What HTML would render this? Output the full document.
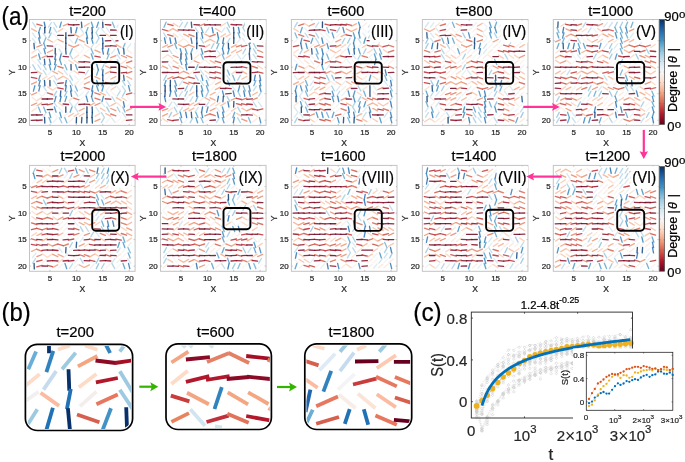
<!DOCTYPE html>
<html><head><meta charset="utf-8"><style>html,body{margin:0;padding:0;background:#fff;}svg{display:block;will-change:transform;}text{stroke:currentColor;stroke-width:0.22px;}</style></head><body>
<svg width="685" height="462" viewBox="0 0 685 462" font-family='"Liberation Sans", sans-serif'>
<rect width="685" height="462" fill="#fff"/>
<defs><filter id="sb" x="-5%" y="-5%" width="110%" height="110%"><feGaussianBlur stdDeviation="0.3"/></filter></defs>
<text x="1.6" y="24.8" font-size="26" textLength="27.5" lengthAdjust="spacingAndGlyphs" fill="#000" color="#000">(a)</text>
<clipPath id="cp0"><rect x="29.50" y="19.50" width="105.60" height="105.90"/></clipPath>
<g clip-path="url(#cp0)"><g stroke-width="1.35" stroke-opacity="0.85" stroke-linecap="round">
<path stroke="#b9d9e9" d="M32.7 22.5l3.0 4.6M53.8 80.8l3.0 4.6"/>
<path stroke="#cc4d44" d="M36.8 24.1l5.3 1.5"/>
<path stroke="#2970b1" d="M44.2 22.1l1.1 5.4"/>
<path stroke="#b8d8e9" d="M48.5 27.1l2.9 -4.6M43.2 33.1l2.9 4.6M122.4 86.1l2.9 4.6"/>
<path stroke="#b4d6e8" d="M53.8 22.5l2.9 4.7M127.7 80.8l2.9 4.7"/>
<path stroke="#3b88bd" d="M59.8 27.4l1.5 -5.3M59.8 112.3l1.5 5.3"/>
<path stroke="#ec9374" d="M63.3 25.9l5.0 -2.3M79.2 39.6l5.0 2.3M68.6 44.9l5.0 2.3M31.6 84.2l5.0 -2.3M126.7 110.7l5.0 -2.3"/>
<path stroke="#810823" d="M68.4 24.7l5.5 0.3"/>
<path stroke="#6c0220" d="M73.6 24.8l5.5 -0.1"/>
<path stroke="#154f8c" d="M81.4 22.1l0.5 5.5M102.5 75.2l0.5 -5.5"/>
<path stroke="#f7b99b" d="M84.6 26.2l4.7 -2.8"/>
<path stroke="#4796c5" d="M91.4 22.2l1.7 5.2"/>
<path stroke="#4292c2" d="M96.7 27.4l1.7 -5.2M38.6 32.7l1.7 -5.2M54.4 69.8l1.7 -5.2M91.4 96.4l1.7 5.2"/>
<path stroke="#0a3a6e" d="M102.7 22.1l0.2 5.5M102.7 43.3l0.2 5.5M76.3 122.9l0.2 -5.5"/>
<path stroke="#860a24" d="M105.3 24.6l5.5 0.4M115.9 40.9l5.5 -0.4M47.2 45.8l5.5 0.4"/>
<path stroke="#71b0d3" d="M112.3 22.3l2.2 5.1"/>
<path stroke="#cfe4ef" d="M117.0 27.0l3.2 -4.5M95.9 107.4l3.2 4.5"/>
<path stroke="#faeae1" d="M121.8 23.0l4.2 3.6M69.0 122.0l4.2 -3.6"/>
<path stroke="#fbe2d4" d="M127.0 23.1l4.3 3.4"/>
<path stroke="#f6ae8e" d="M31.7 28.8l4.8 2.6"/>
<path stroke="#083568" d="M44.7 27.4l0.1 5.5"/>
<path stroke="#3884bb" d="M49.3 32.8l1.4 -5.3M38.7 38.0l1.4 5.3"/>
<path stroke="#b5d7e8" d="M53.8 27.8l2.9 4.7M90.8 64.9l2.9 4.7"/>
<path stroke="#f8bfa3" d="M58.2 31.5l4.7 -2.9M58.2 71.1l4.7 2.9"/>
<path stroke="#f8f2ef" d="M63.8 28.2l4.0 3.8"/>
<path stroke="#124a85" d="M70.9 27.4l0.4 5.5M92.0 27.4l0.4 5.5"/>
<path stroke="#347fb9" d="M75.7 32.8l1.3 -5.3M44.0 48.6l1.3 5.3M102.1 85.8l1.3 -5.3"/>
<path stroke="#c4dfec" d="M80.1 27.8l3.1 4.5M85.4 96.0l3.1 -4.5"/>
<path stroke="#5ca3cb" d="M86.0 32.7l2.0 -5.1"/>
<path stroke="#afd4e6" d="M96.1 32.5l2.8 -4.7M96.1 43.1l2.8 -4.7"/>
<path stroke="#d4e6f1" d="M101.1 27.9l3.3 4.4M106.4 27.9l3.3 4.4"/>
<path stroke="#750521" d="M110.6 30.0l5.5 0.2"/>
<path stroke="#e4eef4" d="M116.8 32.2l3.6 -4.2M53.5 48.1l3.6 -4.2M58.8 107.5l3.6 4.2"/>
<path stroke="#e9f1f5" d="M122.1 28.0l3.7 4.1M64.0 117.0l3.7 -4.1"/>
<path stroke="#fce1d2" d="M127.0 28.4l4.3 3.4"/>
<path stroke="#cee3ef" d="M32.5 33.2l3.2 4.5"/>
<path stroke="#2a71b2" d="M38.9 32.7l1.1 5.4M91.7 91.1l1.1 -5.4M91.7 96.4l1.1 -5.4"/>
<path stroke="#8bc1dc" d="M48.8 37.9l2.4 -4.9M64.6 96.2l2.4 -4.9"/>
<path stroke="#f8f0eb" d="M53.2 33.5l4.0 3.7"/>
<path stroke="#6a0120" d="M57.8 35.4l5.5 0.0M42.0 99.0l5.5 0.0"/>
<path stroke="#09386c" d="M65.8 38.1l0.1 -5.5"/>
<path stroke="#780522" d="M68.4 35.5l5.5 -0.2"/>
<path stroke="#f3a380" d="M73.9 34.2l4.9 2.5"/>
<path stroke="#fcd8c3" d="M79.4 37.0l4.5 -3.2M31.9 52.9l4.5 -3.2"/>
<path stroke="#327cb7" d="M86.3 32.7l1.3 5.4M38.8 91.1l1.3 -5.4"/>
<path stroke="#15508d" d="M92.0 32.7l0.5 5.5"/>
<path stroke="#a3cee3" d="M96.2 33.0l2.7 4.8M69.8 75.4l2.7 4.8M53.9 96.1l2.7 -4.8"/>
<path stroke="#68001f" d="M100.0 35.4l5.5 -0.0M110.6 67.2l5.5 -0.0"/>
<path stroke="#facab2" d="M105.8 33.9l4.6 3.0M111.0 89.9l4.6 -3.0"/>
<path stroke="#700320" d="M110.6 35.3l5.5 0.1"/>
<path stroke="#f8f2ee" d="M116.6 37.3l4.0 -3.8M32.1 60.0l4.0 3.8M79.7 90.3l4.0 -3.8M111.3 91.8l4.0 3.8"/>
<path stroke="#fae8de" d="M121.8 37.2l4.2 -3.6M95.4 47.8l4.2 -3.6"/>
<path stroke="#eff3f6" d="M127.3 37.4l3.8 -4.0"/>
<path stroke="#d3e6f0" d="M32.5 38.5l3.3 4.4"/>
<path stroke="#6aabd0" d="M43.7 43.2l2.1 -5.1"/>
<path stroke="#f5aa89" d="M47.6 39.4l4.9 2.6M116.2 44.7l4.9 2.6"/>
<path stroke="#fae9e0" d="M53.2 42.5l4.2 -3.6"/>
<path stroke="#f09c7b" d="M58.1 39.5l5.0 2.4"/>
<path stroke="#063163" d="M65.8 43.4l0.0 -5.5"/>
<path stroke="#e2edf3" d="M69.3 38.6l3.5 4.2M53.5 122.3l3.5 -4.2"/>
<path stroke="#75b3d4" d="M75.3 43.2l2.2 -5.0M122.8 107.1l2.2 5.0"/>
<path stroke="#256baf" d="M86.5 38.0l1.0 5.4"/>
<path stroke="#3a87bd" d="M91.5 38.1l1.5 5.3"/>
<path stroke="#175290" d="M102.5 38.0l0.5 5.5M44.4 59.2l0.5 5.5"/>
<path stroke="#720321" d="M105.3 40.8l5.5 -0.1M126.4 114.8l5.5 0.1"/>
<path stroke="#d9e9f1" d="M111.7 38.5l3.4 4.3M90.5 80.9l3.4 4.3M101.1 102.1l3.4 4.3"/>
<path stroke="#f9f0ea" d="M121.9 38.8l4.0 3.7M95.5 63.8l4.0 -3.7"/>
<path stroke="#fbe4d6" d="M127.0 42.4l4.3 -3.5"/>
<path stroke="#144c88" d="M33.9 43.3l0.5 5.5M60.3 96.4l0.5 -5.5"/>
<path stroke="#e48066" d="M36.9 47.0l5.1 -2.1"/>
<path stroke="#4a97c5" d="M43.8 43.4l1.8 5.2"/>
<path stroke="#f8f3f1" d="M58.6 44.1l4.0 3.8M74.4 49.4l4.0 3.8"/>
<path stroke="#0d4077" d="M65.7 48.7l0.2 -5.5"/>
<path stroke="#eb9072" d="M73.9 47.1l5.0 -2.3M31.6 105.4l5.0 -2.3"/>
<path stroke="#e7eff4" d="M79.9 43.9l3.6 4.1"/>
<path stroke="#facbb3" d="M84.7 44.5l4.6 3.0"/>
<path stroke="#cae1ee" d="M90.6 48.3l3.2 -4.5"/>
<path stroke="#890b24" d="M105.3 46.2l5.5 -0.4M63.1 56.4l5.5 0.4M105.3 98.8l5.5 0.4"/>
<path stroke="#930e26" d="M110.6 45.7l5.5 0.5"/>
<path stroke="#6aacd0" d="M122.9 48.5l2.1 -5.1"/>
<path stroke="#d7e8f1" d="M127.5 48.2l3.3 -4.4"/>
<path stroke="#cbe2ee" d="M37.8 49.1l3.2 4.5M43.1 117.1l3.2 -4.5"/>
<path stroke="#ef9a7a" d="M47.5 52.5l5.0 -2.4M105.6 66.0l5.0 2.4"/>
<path stroke="#08376a" d="M55.2 54.0l0.1 -5.5"/>
<path stroke="#c6e0ed" d="M59.0 49.0l3.1 4.5"/>
<path stroke="#144d8a" d="M65.6 48.6l0.5 5.5"/>
<path stroke="#68aad0" d="M70.1 53.8l2.1 -5.1M75.3 85.9l2.1 5.1"/>
<path stroke="#f4f5f6" d="M79.7 53.3l3.8 -3.9"/>
<path stroke="#f5f6f7" d="M85.0 53.3l3.9 -3.9M90.3 59.9l3.9 3.9M79.7 79.8l3.9 -3.9"/>
<path stroke="#6fafd2" d="M91.2 48.8l2.1 5.1M107.0 59.1l2.1 -5.1"/>
<path stroke="#ed9676" d="M95.0 50.1l5.0 2.3"/>
<path stroke="#2971b2" d="M102.3 48.6l1.1 5.4M54.7 64.6l1.1 -5.4M60.0 101.7l1.1 -5.4M123.4 101.6l1.1 5.4"/>
<path stroke="#327cb8" d="M107.4 54.0l1.3 -5.3"/>
<path stroke="#d6e7f1" d="M111.7 53.5l3.3 -4.4"/>
<path stroke="#4594c4" d="M117.8 48.7l1.7 5.2M54.4 107.0l1.7 5.2"/>
<path stroke="#134b86" d="M123.7 48.6l0.4 5.5"/>
<path stroke="#fae8dd" d="M127.1 49.5l4.2 3.5"/>
<path stroke="#f4a684" d="M31.7 57.9l4.9 -2.5"/>
<path stroke="#3b89be" d="M38.7 54.0l1.5 5.3M49.2 64.6l1.5 5.3M102.0 91.0l1.5 -5.3M102.0 101.6l1.5 -5.3"/>
<path stroke="#e98c6f" d="M42.2 57.7l5.0 -2.2M110.8 108.5l5.0 2.2"/>
<path stroke="#790622" d="M47.2 56.7l5.5 -0.2"/>
<path stroke="#266caf" d="M54.8 59.3l1.0 -5.4M70.6 91.0l1.0 5.4"/>
<path stroke="#3783bb" d="M59.8 59.3l1.4 -5.3M128.5 85.7l1.4 5.3"/>
<path stroke="#add3e6" d="M69.7 54.2l2.8 4.7"/>
<path stroke="#fcd4bf" d="M74.1 58.2l4.5 -3.1"/>
<path stroke="#f8f3f0" d="M79.7 58.5l4.0 -3.8M79.7 85.0l4.0 -3.8"/>
<path stroke="#f4a582" d="M84.5 55.4l4.9 2.5"/>
<path stroke="#519cc8" d="M91.3 54.0l1.8 5.2M96.6 75.1l1.8 -5.2"/>
<path stroke="#b72230" d="M94.8 56.1l5.4 1.0"/>
<path stroke="#f6f7f7" d="M100.8 54.6l3.9 3.9"/>
<path stroke="#e6866a" d="M110.8 57.7l5.1 -2.1"/>
<path stroke="#c5dfed" d="M117.1 54.3l3.1 4.5M69.6 102.0l3.1 4.5"/>
<path stroke="#ea8d70" d="M121.4 55.5l5.0 2.2"/>
<path stroke="#e7866a" d="M126.7 55.5l5.1 2.1"/>
<path stroke="#c0dceb" d="M37.9 59.6l3.0 4.6M106.5 102.0l3.0 4.6"/>
<path stroke="#307ab6" d="M49.4 59.2l1.2 5.4"/>
<path stroke="#4d99c6" d="M59.6 59.3l1.8 5.2"/>
<path stroke="#f2f5f6" d="M63.9 59.9l3.8 4.0"/>
<path stroke="#fcd3bc" d="M68.8 60.3l4.5 3.1"/>
<path stroke="#fbd0b9" d="M74.1 60.4l4.5 3.1"/>
<path stroke="#7c0722" d="M78.9 61.8l5.5 0.2"/>
<path stroke="#920e26" d="M84.2 61.7l5.5 0.5"/>
<path stroke="#f7b89b" d="M100.4 60.5l4.8 2.8"/>
<path stroke="#f8ba9d" d="M105.7 63.3l4.7 -2.8"/>
<path stroke="#fbe4d7" d="M111.2 60.2l4.3 3.5"/>
<path stroke="#a9d1e5" d="M117.2 59.5l2.8 4.7"/>
<path stroke="#fddac6" d="M121.7 63.5l4.5 -3.2M31.9 111.2l4.5 -3.2"/>
<path stroke="#d96652" d="M126.6 62.8l5.2 -1.8M94.9 98.1l5.2 1.8"/>
<path stroke="#a2cde3" d="M32.8 64.8l2.7 4.8"/>
<path stroke="#bedbeb" d="M37.9 64.9l3.0 4.6M43.2 86.1l3.0 4.6"/>
<path stroke="#a1cde2" d="M43.4 64.8l2.7 4.8"/>
<path stroke="#d7634f" d="M57.9 66.3l5.2 1.7"/>
<path stroke="#6daed1" d="M64.8 64.7l2.1 5.1"/>
<path stroke="#0a396e" d="M71.0 64.5l0.1 5.5"/>
<path stroke="#529cc8" d="M75.5 64.6l1.9 5.2"/>
<path stroke="#6b0120" d="M78.9 67.2l5.5 0.0"/>
<path stroke="#730421" d="M84.2 67.1l5.5 0.1M31.4 115.0l5.5 -0.1M31.4 120.3l5.5 -0.1"/>
<path stroke="#3986bc" d="M96.8 64.5l1.5 5.3M33.4 91.1l1.5 -5.3"/>
<path stroke="#92c5de" d="M101.5 69.7l2.5 -4.9"/>
<path stroke="#fbe7db" d="M116.5 69.0l4.2 -3.5"/>
<path stroke="#ce5146" d="M121.3 66.4l5.3 1.5"/>
<path stroke="#f6b394" d="M126.8 65.9l4.8 2.7M58.1 79.1l4.8 -2.7"/>
<path stroke="#8c0c25" d="M31.4 72.7l5.5 -0.4"/>
<path stroke="#f8bea2" d="M37.1 71.1l4.7 2.8"/>
<path stroke="#bad9e9" d="M43.2 70.2l3.0 4.6M111.9 96.7l3.0 4.6"/>
<path stroke="#e7f0f4" d="M48.2 74.6l3.6 -4.1"/>
<path stroke="#f3a280" d="M52.8 71.3l4.9 2.5"/>
<path stroke="#cee4ef" d="M64.2 70.3l3.2 4.5"/>
<path stroke="#f8f1ed" d="M69.1 74.4l4.0 -3.8"/>
<path stroke="#facbb2" d="M74.1 71.0l4.6 3.0M37.1 100.5l4.6 -3.0"/>
<path stroke="#950f26" d="M78.9 72.2l5.5 0.5"/>
<path stroke="#bfdceb" d="M85.4 74.8l3.0 -4.6M53.8 75.5l3.0 4.6M53.8 102.0l3.0 4.6"/>
<path stroke="#f7f7f7" d="M90.3 70.6l3.9 3.9"/>
<path stroke="#f4a481" d="M105.6 73.7l4.9 -2.5M100.3 92.5l4.9 2.5"/>
<path stroke="#940e26" d="M110.6 72.2l5.5 0.5M42.0 104.6l5.5 -0.5M63.1 104.0l5.5 0.5M36.7 120.5l5.5 -0.5"/>
<path stroke="#f1f4f6" d="M116.7 74.5l3.8 -4.0"/>
<path stroke="#960f27" d="M121.2 72.8l5.5 -0.5"/>
<path stroke="#d7624e" d="M126.6 73.4l5.2 -1.7"/>
<path stroke="#ba2933" d="M31.4 77.3l5.4 1.1"/>
<path stroke="#4190c1" d="M38.6 80.4l1.6 -5.2M96.7 80.5l1.6 5.2M65.0 101.6l1.6 -5.2"/>
<path stroke="#fcd5bf" d="M42.5 79.4l4.5 -3.2"/>
<path stroke="#fbcdb5" d="M47.7 79.3l4.6 -3.0M121.6 97.5l4.6 3.0M95.2 116.4l4.6 -3.0"/>
<path stroke="#f8bfa4" d="M63.5 76.4l4.7 2.9"/>
<path stroke="#eaf1f5" d="M74.5 75.8l3.7 4.1"/>
<path stroke="#f2a17f" d="M84.5 79.0l4.9 -2.5"/>
<path stroke="#9ac9e0" d="M90.9 75.4l2.6 4.9"/>
<path stroke="#f09d7c" d="M95.0 76.6l4.9 2.4"/>
<path stroke="#0c3e75" d="M102.7 80.5l0.2 -5.5M44.6 117.5l0.2 5.5"/>
<path stroke="#f7f6f6" d="M106.1 79.7l3.9 -3.9M116.7 122.1l3.9 -3.9"/>
<path stroke="#f2a07e" d="M110.9 79.0l4.9 -2.4"/>
<path stroke="#ecf2f5" d="M116.8 79.8l3.7 -4.1M79.8 95.7l3.7 -4.1M106.2 122.2l3.7 -4.1"/>
<path stroke="#175392" d="M123.6 75.1l0.6 5.5"/>
<path stroke="#f5a987" d="M126.8 76.5l4.9 2.6"/>
<path stroke="#317bb7" d="M38.8 85.8l1.3 -5.4"/>
<path stroke="#134a86" d="M44.5 80.4l0.4 5.5"/>
<path stroke="#09376b" d="M49.9 80.4l0.1 5.5"/>
<path stroke="#870a24" d="M57.8 83.3l5.5 -0.4"/>
<path stroke="#276eb0" d="M65.3 85.8l1.0 -5.4"/>
<path stroke="#a6cfe4" d="M69.7 80.7l2.7 4.8"/>
<path stroke="#fae9de" d="M74.3 84.9l4.2 -3.6"/>
<path stroke="#ec9273" d="M84.4 84.2l5.0 -2.3"/>
<path stroke="#bd2e36" d="M105.4 82.5l5.4 1.1"/>
<path stroke="#c8e0ed" d="M111.8 85.4l3.1 -4.5"/>
<path stroke="#f9eee8" d="M116.6 84.9l4.1 -3.7"/>
<path stroke="#a4cee3" d="M122.5 80.7l2.7 4.8"/>
<path stroke="#facab1" d="M47.7 86.9l4.6 3.0"/>
<path stroke="#fcd3bd" d="M53.0 90.0l4.5 -3.1"/>
<path stroke="#ba2732" d="M57.8 87.9l5.4 1.0"/>
<path stroke="#2870b1" d="M65.3 91.1l1.0 -5.4"/>
<path stroke="#347eb9" d="M70.4 85.7l1.3 5.3"/>
<path stroke="#cf5247" d="M84.3 87.6l5.3 1.5"/>
<path stroke="#4997c5" d="M96.6 85.8l1.8 5.2"/>
<path stroke="#e8f0f4" d="M106.2 90.5l3.6 -4.1"/>
<path stroke="#e5eef4" d="M116.8 86.3l3.6 4.2"/>
<path stroke="#ed9576" d="M31.7 94.9l5.0 -2.3"/>
<path stroke="#f0f4f6" d="M37.5 91.7l3.8 4.0"/>
<path stroke="#ebf1f5" d="M42.9 95.7l3.7 -4.1"/>
<path stroke="#d05347" d="M47.3 92.9l5.3 1.6"/>
<path stroke="#b2d5e7" d="M74.9 91.4l2.9 4.7"/>
<path stroke="#d86551" d="M94.9 92.8l5.2 1.8M110.7 114.0l5.2 1.8"/>
<path stroke="#d5e7f1" d="M106.4 91.5l3.3 4.4"/>
<path stroke="#b1d5e7" d="M117.2 96.0l2.9 -4.7"/>
<path stroke="#9fcbe2" d="M122.6 96.1l2.6 -4.8"/>
<path stroke="#ca4741" d="M126.5 94.4l5.3 -1.4"/>
<path stroke="#fbe2d3" d="M32.0 97.3l4.3 3.4"/>
<path stroke="#6f0320" d="M47.2 99.0l5.5 -0.1M47.2 109.6l5.5 -0.1"/>
<path stroke="#3581ba" d="M54.6 101.7l1.4 -5.3"/>
<path stroke="#fddbc7" d="M68.9 100.6l4.4 -3.2"/>
<path stroke="#d96853" d="M73.8 98.1l5.2 1.8"/>
<path stroke="#f8f5f3" d="M79.7 100.9l3.9 -3.8"/>
<path stroke="#3681ba" d="M86.3 96.3l1.4 5.3"/>
<path stroke="#f7b697" d="M116.2 97.6l4.8 2.7"/>
<path stroke="#f7f6f5" d="M127.2 97.1l3.9 3.9"/>
<path stroke="#f6b293" d="M37.0 105.6l4.8 -2.7"/>
<path stroke="#c2393a" d="M47.3 104.9l5.4 -1.2"/>
<path stroke="#fbceb6" d="M58.3 102.8l4.6 3.1"/>
<path stroke="#d2e6f0" d="M74.8 106.5l3.3 -4.4"/>
<path stroke="#820923" d="M78.9 104.5l5.5 -0.3"/>
<path stroke="#830924" d="M84.2 104.1l5.5 0.3"/>
<path stroke="#f5aa88" d="M89.8 105.6l4.9 -2.6"/>
<path stroke="#e98b6e" d="M95.0 105.4l5.0 -2.2"/>
<path stroke="#f6b495" d="M111.0 105.7l4.8 -2.7M105.7 113.5l4.8 2.7"/>
<path stroke="#fbe3d4" d="M116.5 102.6l4.3 3.4"/>
<path stroke="#f7f5f4" d="M127.2 106.2l3.9 -3.9M116.7 113.0l3.9 3.8"/>
<path stroke="#69abd0" d="M38.4 107.1l2.1 5.1"/>
<path stroke="#6cadd1" d="M43.6 107.1l2.1 5.1"/>
<path stroke="#073365" d="M65.8 112.3l0.0 -5.5"/>
<path stroke="#5aa1cb" d="M70.1 112.2l1.9 -5.1"/>
<path stroke="#b6d7e8" d="M74.9 107.3l2.9 4.7"/>
<path stroke="#f3a381" d="M79.2 110.8l4.9 -2.5"/>
<path stroke="#073466" d="M86.9 112.3l0.1 -5.5"/>
<path stroke="#0e4179" d="M92.1 106.9l0.3 5.5"/>
<path stroke="#f8bb9e" d="M100.4 108.2l4.7 2.8M68.7 116.3l4.7 -2.8"/>
<path stroke="#91c4de" d="M106.8 107.1l2.5 4.9"/>
<path stroke="#9dcbe1" d="M117.3 107.2l2.6 4.8"/>
<path stroke="#770522" d="M36.7 115.0l5.5 -0.2"/>
<path stroke="#3f8ec0" d="M49.2 112.3l1.6 5.3"/>
<path stroke="#f8f4f2" d="M53.3 113.0l4.0 3.8"/>
<path stroke="#f9c3a8" d="M74.1 116.4l4.7 -2.9"/>
<path stroke="#f9c2a7" d="M79.3 116.3l4.7 -2.9"/>
<path stroke="#073467" d="M86.9 112.2l0.1 5.5"/>
<path stroke="#114680" d="M92.0 117.6l0.4 -5.5M81.5 122.9l0.4 -5.5"/>
<path stroke="#abd2e5" d="M101.4 112.5l2.8 4.7"/>
<path stroke="#cde3ef" d="M122.3 112.7l3.2 4.5"/>
<path stroke="#5ca3cc" d="M49.0 117.6l2.0 5.1"/>
<path stroke="#94c6df" d="M59.3 117.8l2.5 4.9"/>
<path stroke="#67aacf" d="M64.8 117.7l2.1 5.1"/>
<path stroke="#083669" d="M86.9 122.9l0.1 -5.5"/>
<path stroke="#0d4078" d="M92.1 117.5l0.3 5.5"/>
<path stroke="#ed9475" d="M95.0 121.4l5.0 -2.3"/>
<path stroke="#abd1e5" d="M101.4 122.6l2.8 -4.7"/>
<path stroke="#d4e7f1" d="M111.7 118.0l3.3 4.4"/>
<path stroke="#f9efe9" d="M121.9 122.1l4.1 -3.7"/>
<path stroke="#900d26" d="M126.4 120.4l5.5 -0.5"/>
</g></g>
<rect x="29.50" y="19.50" width="105.60" height="105.90" fill="none" stroke="#c4c4c4" stroke-width="1"/>
<path d="M49.99 19.50v1.5M49.99 125.40v-1.5M29.50 40.70h1.5M135.10 40.70h-1.5M76.39 19.50v1.5M76.39 125.40v-1.5M29.50 67.20h1.5M135.10 67.20h-1.5M102.79 19.50v1.5M102.79 125.40v-1.5M29.50 93.70h1.5M135.10 93.70h-1.5M129.19 19.50v1.5M129.19 125.40v-1.5M29.50 120.20h1.5M135.10 120.20h-1.5" stroke="#b0b0b0" stroke-width="0.7" fill="none"/>
<text x="49.99" y="134.90" font-size="8" text-anchor="middle" fill="#262626" color="#262626">5</text>
<text x="26.80" y="43.40" font-size="8" text-anchor="end" fill="#262626" color="#262626">5</text>
<text x="76.39" y="134.90" font-size="8" text-anchor="middle" fill="#262626" color="#262626">10</text>
<text x="26.80" y="69.90" font-size="8" text-anchor="end" fill="#262626" color="#262626">10</text>
<text x="102.79" y="134.90" font-size="8" text-anchor="middle" fill="#262626" color="#262626">15</text>
<text x="26.80" y="96.40" font-size="8" text-anchor="end" fill="#262626" color="#262626">15</text>
<text x="129.19" y="134.90" font-size="8" text-anchor="middle" fill="#262626" color="#262626">20</text>
<text x="26.80" y="122.90" font-size="8" text-anchor="end" fill="#262626" color="#262626">20</text>
<text x="82.30" y="145.70" font-size="8.6" text-anchor="middle" fill="#262626" color="#262626">X</text>
<text transform="translate(15.10 72.45) rotate(-90)" font-size="8.6" text-anchor="middle" fill="#262626" color="#262626">Y</text>
<text x="87.60" y="16.20" font-size="14.5" text-anchor="middle" fill="#000" color="#000">t=200</text>
<rect x="118.46" y="20.50" width="16.43" height="22" fill="#fff"/>
<text x="133.39" y="36.70" font-size="16.9" text-anchor="end" textLength="13.43" lengthAdjust="spacingAndGlyphs" fill="#000" color="#000">(I)</text>
<rect x="92.00" y="62.00" width="27.20" height="21.40" rx="3.6" fill="none" stroke="#000" stroke-width="1.9"/>
<clipPath id="cp1"><rect x="160.45" y="19.50" width="105.60" height="105.90"/></clipPath>
<g clip-path="url(#cp1)"><g stroke-width="1.35" stroke-opacity="0.85" stroke-linecap="round">
<path stroke="#6aabd0" d="M164.0 27.3l2.1 -5.1M222.1 54.1l2.1 5.1M232.7 75.3l2.1 5.1"/>
<path stroke="#ca4942" d="M167.7 24.1l5.3 1.4"/>
<path stroke="#fac7ad" d="M173.3 23.3l4.6 3.0M205.0 71.0l4.6 3.0"/>
<path stroke="#b5d7e8" d="M179.5 27.1l2.9 -4.7"/>
<path stroke="#a6cfe4" d="M184.8 27.2l2.7 -4.8M242.9 53.7l2.7 -4.8"/>
<path stroke="#144d8a" d="M191.3 22.1l0.5 5.5"/>
<path stroke="#7f0823" d="M194.0 24.7l5.5 0.3M236.3 67.3l5.5 -0.3"/>
<path stroke="#e58268" d="M199.5 25.9l5.1 -2.1"/>
<path stroke="#820923" d="M204.6 25.0l5.5 -0.3M257.4 45.8l5.5 0.3M231.0 67.4l5.5 -0.3M178.2 88.6l5.5 -0.3"/>
<path stroke="#6e0220" d="M209.9 24.8l5.5 0.1M209.9 56.6l5.5 0.1"/>
<path stroke="#6d0220" d="M215.1 24.8l5.5 0.1"/>
<path stroke="#fbceb6" d="M220.9 26.3l4.6 -3.1"/>
<path stroke="#8ac0db" d="M227.2 22.3l2.4 4.9"/>
<path stroke="#960f26" d="M231.0 24.5l5.5 0.5"/>
<path stroke="#840924" d="M236.3 24.6l5.5 0.3"/>
<path stroke="#8ec3dd" d="M243.1 27.3l2.5 -4.9"/>
<path stroke="#f8f2ef" d="M247.6 22.9l4.0 3.8M231.7 58.5l4.0 -3.8"/>
<path stroke="#eef3f5" d="M253.0 22.8l3.7 4.0"/>
<path stroke="#f9ede6" d="M258.1 23.0l4.1 3.7"/>
<path stroke="#c94641" d="M162.4 29.4l5.3 1.4M236.4 103.6l5.3 1.4"/>
<path stroke="#f6b293" d="M168.0 31.4l4.8 -2.7M189.1 110.9l4.8 -2.7M173.3 116.2l4.8 -2.7"/>
<path stroke="#f5ab8a" d="M173.2 28.8l4.9 2.6M241.9 71.2l4.9 2.6"/>
<path stroke="#850a24" d="M178.2 29.9l5.5 0.3M183.5 104.5l5.5 -0.3"/>
<path stroke="#870a24" d="M183.5 29.9l5.5 0.4M257.4 61.7l5.5 0.4"/>
<path stroke="#920e26" d="M188.8 29.9l5.5 0.5M225.7 93.9l5.5 -0.5"/>
<path stroke="#bddbea" d="M195.3 27.8l3.0 4.6M205.8 106.6l3.0 -4.6"/>
<path stroke="#4c99c6" d="M201.2 27.5l1.8 5.2"/>
<path stroke="#c0dceb" d="M205.8 32.4l3.0 -4.6M253.3 54.3l3.0 4.6M226.9 75.5l3.0 4.6M190.0 101.3l3.0 -4.6"/>
<path stroke="#2970b1" d="M212.1 27.4l1.1 5.4"/>
<path stroke="#f8ba9d" d="M215.5 28.7l4.7 2.8M215.5 58.0l4.7 -2.8M241.9 108.2l4.7 2.8"/>
<path stroke="#d5e7f1" d="M221.5 32.3l3.3 -4.4M221.5 65.0l3.3 4.4"/>
<path stroke="#9ccae1" d="M227.1 27.7l2.6 4.8M248.3 37.8l2.6 -4.8M174.3 107.2l2.6 4.8"/>
<path stroke="#124983" d="M233.5 27.4l0.4 5.5"/>
<path stroke="#2f79b6" d="M238.4 27.4l1.2 5.4M164.5 96.3l1.2 5.4"/>
<path stroke="#a3cee3" d="M242.9 27.7l2.7 4.8M237.7 80.2l2.7 -4.8M258.8 96.1l2.7 -4.8M237.7 107.2l2.7 4.8"/>
<path stroke="#e9f0f4" d="M247.7 28.0l3.7 4.1"/>
<path stroke="#f4f6f7" d="M252.9 28.1l3.8 3.9"/>
<path stroke="#f8f0ec" d="M258.1 28.2l4.0 3.7"/>
<path stroke="#add3e6" d="M163.7 33.0l2.8 4.7"/>
<path stroke="#ca4842" d="M167.7 34.7l5.3 1.4M215.2 61.2l5.3 1.4"/>
<path stroke="#fddac5" d="M173.4 33.8l4.5 3.2M162.9 58.2l4.5 -3.2"/>
<path stroke="#ecf2f5" d="M179.1 33.4l3.7 4.1M163.2 106.3l3.7 -4.1"/>
<path stroke="#ef9a7a" d="M183.7 34.2l5.0 2.4M257.7 39.5l5.0 2.4M162.6 116.1l5.0 -2.4"/>
<path stroke="#da6853" d="M188.9 34.5l5.2 1.8"/>
<path stroke="#0a396e" d="M196.7 32.7l0.1 5.5"/>
<path stroke="#2f78b5" d="M201.5 32.7l1.2 5.4M249.0 85.7l1.2 5.4"/>
<path stroke="#f5a987" d="M204.9 34.1l4.9 2.6M162.7 47.3l4.9 -2.5M236.6 52.6l4.9 -2.6M210.2 95.0l4.9 -2.6"/>
<path stroke="#d96853" d="M210.0 36.3l5.2 -1.8"/>
<path stroke="#2b74b3" d="M217.3 32.7l1.1 5.4M185.7 64.5l1.1 5.4"/>
<path stroke="#f9c1a6" d="M220.8 36.8l4.7 -2.9"/>
<path stroke="#fac7ae" d="M226.1 36.9l4.6 -3.0"/>
<path stroke="#09386d" d="M233.7 38.1l0.1 -5.5M228.4 43.3l0.1 5.5"/>
<path stroke="#5ea4cc" d="M238.0 32.8l2.0 5.1"/>
<path stroke="#d0e4f0" d="M242.7 33.2l3.2 4.5"/>
<path stroke="#f9ece5" d="M252.8 37.2l4.1 -3.7"/>
<path stroke="#fbe5d8" d="M258.0 37.1l4.3 -3.5"/>
<path stroke="#2b73b3" d="M164.5 38.0l1.1 5.4"/>
<path stroke="#256baf" d="M169.9 38.0l1.0 5.4M222.7 43.4l1.0 -5.4M201.6 112.3l1.0 -5.4M185.7 112.2l1.0 5.4M233.3 122.9l1.0 -5.4"/>
<path stroke="#2a72b2" d="M175.1 38.0l1.1 5.4"/>
<path stroke="#fbe3d5" d="M178.8 42.4l4.3 -3.4"/>
<path stroke="#f9ebe3" d="M184.2 38.9l4.1 3.6"/>
<path stroke="#276eb0" d="M191.0 38.0l1.0 5.4M243.8 91.0l1.0 5.4"/>
<path stroke="#124984" d="M196.6 38.0l0.4 5.5"/>
<path stroke="#a8d0e4" d="M200.7 38.3l2.8 4.8M190.1 90.8l2.8 -4.8"/>
<path stroke="#f7b799" d="M205.0 42.1l4.8 -2.7M241.9 79.2l4.8 -2.7"/>
<path stroke="#f6b495" d="M210.2 39.3l4.8 2.7"/>
<path stroke="#4796c5" d="M217.0 43.3l1.7 -5.2M174.8 91.1l1.7 5.2"/>
<path stroke="#a9d1e5" d="M227.1 43.1l2.8 -4.7"/>
<path stroke="#0b3b70" d="M233.7 43.4l0.2 -5.5"/>
<path stroke="#e3edf3" d="M237.2 42.8l3.6 -4.2"/>
<path stroke="#d8e8f1" d="M242.6 38.5l3.4 4.4M216.2 49.1l3.4 4.4M232.1 86.2l3.4 4.4"/>
<path stroke="#3986bc" d="M248.8 38.0l1.5 5.3"/>
<path stroke="#eff3f6" d="M253.0 42.7l3.8 -4.0"/>
<path stroke="#e68469" d="M167.8 47.1l5.1 -2.1M257.6 50.2l5.1 2.1M162.6 110.7l5.1 -2.1"/>
<path stroke="#60a5cd" d="M174.7 43.4l2.0 5.1M227.5 80.5l2.0 5.1M179.9 117.6l2.0 5.1"/>
<path stroke="#f4a784" d="M178.5 44.7l4.9 2.5"/>
<path stroke="#e8896d" d="M183.7 47.1l5.0 -2.2"/>
<path stroke="#ef9979" d="M189.0 44.8l5.0 2.4"/>
<path stroke="#073466" d="M196.7 48.7l0.1 -5.5M180.9 59.3l0.1 -5.5"/>
<path stroke="#970f27" d="M199.3 45.7l5.5 0.6"/>
<path stroke="#f8bca0" d="M205.0 47.4l4.7 -2.8M231.4 52.7l4.7 -2.8"/>
<path stroke="#9bcae1" d="M211.3 48.4l2.6 -4.8"/>
<path stroke="#6eaed2" d="M216.8 48.5l2.1 -5.1"/>
<path stroke="#3a87bd" d="M222.4 48.6l1.5 -5.3M180.2 48.7l1.5 5.3"/>
<path stroke="#f4a785" d="M231.3 47.3l4.9 -2.5"/>
<path stroke="#db6b55" d="M236.4 46.9l5.2 -1.8"/>
<path stroke="#c63f3e" d="M241.6 46.7l5.3 -1.3"/>
<path stroke="#266db0" d="M249.1 43.3l1.0 5.4M217.4 101.7l1.0 -5.4"/>
<path stroke="#97c7df" d="M253.6 43.6l2.6 4.9"/>
<path stroke="#7d0722" d="M162.3 51.4l5.5 -0.2"/>
<path stroke="#bcdaea" d="M168.9 49.0l3.0 4.6"/>
<path stroke="#f7f5f3" d="M173.7 49.4l3.9 3.8"/>
<path stroke="#4b98c6" d="M185.3 48.7l1.8 5.2M180.0 59.3l1.8 5.2M206.4 80.5l1.8 5.2"/>
<path stroke="#559ec9" d="M190.6 53.9l1.9 -5.2"/>
<path stroke="#f3f5f6" d="M194.9 53.3l3.8 -3.9"/>
<path stroke="#3c8abe" d="M201.3 48.7l1.5 5.3"/>
<path stroke="#c13639" d="M204.7 51.9l5.4 -1.2M236.3 62.5l5.4 -1.2"/>
<path stroke="#8b0b25" d="M209.9 51.5l5.5 -0.4"/>
<path stroke="#317bb7" d="M222.5 48.6l1.3 5.4M201.4 112.2l1.3 5.4"/>
<path stroke="#3b88bd" d="M227.7 53.9l1.5 -5.3"/>
<path stroke="#175290" d="M249.3 54.0l0.5 -5.5"/>
<path stroke="#a0cce2" d="M253.5 48.9l2.7 4.8"/>
<path stroke="#fcd6c1" d="M168.1 55.0l4.5 3.2"/>
<path stroke="#e7866a" d="M173.1 55.5l5.1 2.1"/>
<path stroke="#347eb9" d="M185.6 53.9l1.3 5.3"/>
<path stroke="#134b86" d="M191.3 53.9l0.4 5.5"/>
<path stroke="#fbe3d4" d="M194.6 58.3l4.3 -3.4"/>
<path stroke="#6badd1" d="M201.0 54.1l2.1 5.1M227.4 70.0l2.1 5.1M243.2 85.9l2.1 5.1"/>
<path stroke="#900d26" d="M204.6 56.8l5.5 -0.5M252.1 72.7l5.5 -0.5"/>
<path stroke="#f8bb9e" d="M226.1 58.0l4.7 -2.8"/>
<path stroke="#cee4ef" d="M237.4 54.4l3.2 4.5M174.1 102.1l3.2 4.5"/>
<path stroke="#d7e8f1" d="M242.6 58.8l3.3 -4.4"/>
<path stroke="#0e4178" d="M249.4 53.9l0.3 5.5"/>
<path stroke="#bc2b34" d="M257.4 56.1l5.4 1.1M209.9 77.3l5.4 1.1"/>
<path stroke="#7c0722" d="M162.3 62.0l5.5 -0.2M172.9 98.9l5.5 0.2"/>
<path stroke="#f4f6f6" d="M168.5 59.9l3.8 3.9"/>
<path stroke="#f8c0a4" d="M173.3 60.5l4.7 2.9"/>
<path stroke="#327db8" d="M185.6 59.2l1.3 5.3"/>
<path stroke="#ebf1f5" d="M189.6 63.9l3.7 -4.1M216.1 95.7l3.7 -4.1"/>
<path stroke="#ea8d70" d="M194.3 60.8l5.0 2.2"/>
<path stroke="#f9ece4" d="M200.0 63.7l4.1 -3.6"/>
<path stroke="#fbe6da" d="M205.2 60.2l4.2 3.5"/>
<path stroke="#f6af8f" d="M210.2 60.6l4.8 2.6"/>
<path stroke="#f9ede5" d="M221.1 60.1l4.1 3.7"/>
<path stroke="#f8f4f2" d="M226.5 63.8l3.9 -3.8"/>
<path stroke="#e9f1f5" d="M231.9 64.0l3.7 -4.1"/>
<path stroke="#f6f6f7" d="M242.4 59.9l3.9 3.9"/>
<path stroke="#a2cde3" d="M248.2 64.3l2.7 -4.8M195.4 75.4l2.7 4.8"/>
<path stroke="#8a0b25" d="M252.1 61.7l5.5 0.4M246.8 114.7l5.5 0.4"/>
<path stroke="#ec9374" d="M162.6 66.1l5.0 2.3"/>
<path stroke="#cae1ee" d="M168.8 64.9l3.2 4.5"/>
<path stroke="#dc6e58" d="M173.1 66.3l5.2 1.9"/>
<path stroke="#fcd4be" d="M178.7 65.6l4.5 3.1"/>
<path stroke="#69011f" d="M188.7 67.2l5.5 0.0"/>
<path stroke="#77b4d5" d="M195.7 69.7l2.2 -5.0"/>
<path stroke="#740421" d="M199.3 67.1l5.5 0.2M220.4 88.3l5.5 0.2M178.2 98.9l5.5 0.1"/>
<path stroke="#860a24" d="M204.6 67.0l5.5 0.4"/>
<path stroke="#720321" d="M209.9 67.3l5.5 -0.1"/>
<path stroke="#b92631" d="M215.2 66.7l5.4 1.0"/>
<path stroke="#f2f5f6" d="M226.5 69.2l3.8 -4.0M184.3 122.2l3.8 -4.0"/>
<path stroke="#be3137" d="M241.6 66.6l5.4 1.2M173.0 78.4l5.4 -1.2"/>
<path stroke="#f9eee8" d="M247.5 69.0l4.1 -3.7"/>
<path stroke="#d45b4b" d="M252.2 66.4l5.2 1.6"/>
<path stroke="#fbcdb5" d="M257.8 65.7l4.6 3.1"/>
<path stroke="#6a0120" d="M162.3 72.5l5.5 0.0"/>
<path stroke="#7e0723" d="M167.6 72.4l5.5 0.3M172.9 72.6l5.5 -0.3"/>
<path stroke="#f4a886" d="M178.5 73.8l4.9 -2.5M215.5 84.4l4.9 -2.5"/>
<path stroke="#ea8f71" d="M183.7 71.4l5.0 2.2"/>
<path stroke="#fae7db" d="M189.4 74.3l4.2 -3.5"/>
<path stroke="#910d26" d="M194.0 72.7l5.5 -0.5M209.9 72.3l5.5 0.5"/>
<path stroke="#c6e0ed" d="M200.5 70.2l3.1 4.5"/>
<path stroke="#c7423f" d="M215.2 71.8l5.3 1.4"/>
<path stroke="#f9efe9" d="M221.1 74.4l4.1 -3.7M210.6 85.0l4.1 -3.7"/>
<path stroke="#fbd1ba" d="M231.5 74.0l4.5 -3.1"/>
<path stroke="#6b0120" d="M236.3 72.5l5.5 0.0"/>
<path stroke="#f7f6f6" d="M247.6 74.4l3.9 -3.9M231.8 85.0l3.9 -3.9M247.6 85.0l3.9 -3.9"/>
<path stroke="#c2383a" d="M257.5 71.9l5.4 1.2M188.8 77.2l5.4 1.2M167.7 119.6l5.4 1.2"/>
<path stroke="#9ecbe1" d="M163.8 80.2l2.6 -4.8"/>
<path stroke="#e7876b" d="M167.8 78.9l5.1 -2.2M183.7 78.9l5.1 -2.2"/>
<path stroke="#d05548" d="M178.3 77.0l5.3 1.6"/>
<path stroke="#3580ba" d="M201.4 75.1l1.4 5.3"/>
<path stroke="#c7e0ed" d="M205.8 75.5l3.1 4.5"/>
<path stroke="#c43d3c" d="M215.2 77.2l5.3 1.3"/>
<path stroke="#f0f4f6" d="M221.3 79.8l3.8 -4.0"/>
<path stroke="#e6eff4" d="M247.8 79.9l3.6 -4.2"/>
<path stroke="#286fb1" d="M254.3 80.5l1.0 -5.4M227.9 101.6l1.0 5.4"/>
<path stroke="#2971b2" d="M259.6 75.1l1.1 5.4"/>
<path stroke="#4393c3" d="M164.3 85.7l1.7 -5.2"/>
<path stroke="#09376b" d="M170.3 85.8l0.1 -5.5M196.7 85.7l0.1 5.5"/>
<path stroke="#4191c2" d="M174.8 80.5l1.7 5.2"/>
<path stroke="#cce3ef" d="M179.3 85.3l3.2 -4.5M258.5 102.1l3.2 4.5"/>
<path stroke="#dc6d57" d="M183.6 82.2l5.2 1.9"/>
<path stroke="#d35a4a" d="M188.9 82.3l5.3 1.6"/>
<path stroke="#810823" d="M194.0 83.0l5.5 0.3"/>
<path stroke="#c1ddeb" d="M200.5 80.8l3.1 4.6"/>
<path stroke="#f9f0eb" d="M221.2 85.0l4.0 -3.7"/>
<path stroke="#8f0d25" d="M236.3 82.9l5.5 0.5"/>
<path stroke="#eaf1f5" d="M242.5 85.1l3.7 -4.1"/>
<path stroke="#62a6ce" d="M253.8 85.7l2.0 -5.1"/>
<path stroke="#327cb7" d="M259.5 80.4l1.3 5.4"/>
<path stroke="#073467" d="M165.1 91.1l0.1 -5.5"/>
<path stroke="#08376a" d="M170.3 85.7l0.1 5.5"/>
<path stroke="#3e8dc0" d="M174.9 85.8l1.6 5.3"/>
<path stroke="#8dc2dc" d="M185.0 90.9l2.4 -4.9M185.0 96.2l2.4 -4.9"/>
<path stroke="#3b89be" d="M201.3 85.8l1.5 5.3"/>
<path stroke="#529cc8" d="M206.4 85.8l1.9 5.2"/>
<path stroke="#f7f5f4" d="M210.7 90.3l3.9 -3.9"/>
<path stroke="#f3a380" d="M215.4 89.6l4.9 -2.5"/>
<path stroke="#940e26" d="M225.7 88.1l5.5 0.5"/>
<path stroke="#3783bb" d="M238.3 91.1l1.4 -5.3M206.6 112.3l1.4 -5.3"/>
<path stroke="#bbdaea" d="M253.4 90.7l3.0 -4.6"/>
<path stroke="#347fb9" d="M259.5 85.7l1.3 5.3M201.4 91.0l1.3 5.3"/>
<path stroke="#0f437b" d="M164.9 96.4l0.3 -5.5"/>
<path stroke="#317cb7" d="M169.7 96.4l1.3 -5.4"/>
<path stroke="#c2deec" d="M179.4 96.0l3.1 -4.6"/>
<path stroke="#f8bfa4" d="M189.1 95.1l4.7 -2.9"/>
<path stroke="#0e427a" d="M196.6 91.0l0.3 5.5"/>
<path stroke="#92c5de" d="M206.1 96.2l2.5 -4.9"/>
<path stroke="#3782bb" d="M222.5 91.0l1.4 5.3M259.4 117.5l1.4 5.3"/>
<path stroke="#2d76b4" d="M233.2 91.0l1.2 5.4M217.3 112.2l1.2 5.4"/>
<path stroke="#94c6df" d="M237.8 91.3l2.5 4.9"/>
<path stroke="#3884bb" d="M248.9 91.0l1.4 5.3"/>
<path stroke="#f6b394" d="M252.5 95.0l4.8 -2.7M183.8 110.9l4.8 -2.7"/>
<path stroke="#f8f1ed" d="M168.4 100.9l4.0 -3.8"/>
<path stroke="#e2edf3" d="M184.4 101.1l3.5 -4.2"/>
<path stroke="#63a8ce" d="M195.8 101.6l2.0 -5.1"/>
<path stroke="#fae9df" d="M200.0 100.8l4.2 -3.6"/>
<path stroke="#f5aa89" d="M204.9 97.7l4.9 2.6"/>
<path stroke="#f19e7d" d="M210.1 97.8l4.9 2.4"/>
<path stroke="#165290" d="M222.9 101.7l0.5 -5.5"/>
<path stroke="#a1cde2" d="M227.1 96.6l2.7 4.8"/>
<path stroke="#f19f7d" d="M231.3 100.2l4.9 -2.4"/>
<path stroke="#bc2d35" d="M236.3 98.4l5.4 1.1M252.2 109.0l5.4 1.1"/>
<path stroke="#da6954" d="M241.7 99.9l5.2 -1.8"/>
<path stroke="#950f26" d="M246.8 99.3l5.5 -0.5"/>
<path stroke="#e48066" d="M252.3 100.0l5.1 -2.1"/>
<path stroke="#f8f3f1" d="M258.2 100.9l4.0 -3.8"/>
<path stroke="#c4dfec" d="M168.8 106.6l3.1 -4.5M216.4 122.5l3.1 -4.5"/>
<path stroke="#790622" d="M178.2 104.2l5.5 0.2"/>
<path stroke="#f7b99b" d="M189.1 105.7l4.7 -2.8"/>
<path stroke="#ee9677" d="M194.3 105.5l5.0 -2.3"/>
<path stroke="#700320" d="M199.3 104.4l5.5 -0.1"/>
<path stroke="#fcd3bd" d="M210.4 105.9l4.5 -3.1"/>
<path stroke="#fcd6c0" d="M215.6 105.9l4.5 -3.2"/>
<path stroke="#f8bc9f" d="M220.8 105.7l4.7 -2.8"/>
<path stroke="#0d4078" d="M233.6 107.0l0.3 -5.5"/>
<path stroke="#c6403e" d="M241.6 103.6l5.3 1.3"/>
<path stroke="#960f27" d="M246.8 104.0l5.5 0.5"/>
<path stroke="#b6d7e8" d="M253.4 102.0l2.9 4.7"/>
<path stroke="#fcd7c2" d="M168.1 111.2l4.5 -3.2M252.6 113.3l4.5 3.2"/>
<path stroke="#bfdceb" d="M179.4 111.9l3.0 -4.6"/>
<path stroke="#c8e0ed" d="M195.2 111.9l3.1 -4.5"/>
<path stroke="#ee9878" d="M210.1 110.8l5.0 -2.4"/>
<path stroke="#d9e9f1" d="M216.2 107.4l3.4 4.3"/>
<path stroke="#4190c1" d="M222.4 107.0l1.6 5.2"/>
<path stroke="#f9efea" d="M226.4 111.5l4.1 -3.7"/>
<path stroke="#facab2" d="M231.4 111.1l4.6 -3.0"/>
<path stroke="#eb9072" d="M247.1 110.7l5.0 -2.3"/>
<path stroke="#c33a3b" d="M257.5 110.2l5.4 -1.3"/>
<path stroke="#96c7df" d="M169.1 117.3l2.5 -4.9"/>
<path stroke="#3884bc" d="M180.2 112.2l1.4 5.3"/>
<path stroke="#134a86" d="M191.3 112.2l0.4 5.5"/>
<path stroke="#65a9cf" d="M195.8 112.3l2.1 5.1"/>
<path stroke="#e37f65" d="M204.8 115.9l5.1 -2.1"/>
<path stroke="#d7624e" d="M210.0 114.0l5.2 1.7"/>
<path stroke="#2e78b5" d="M222.6 112.2l1.2 5.4"/>
<path stroke="#fbe4d7" d="M226.3 116.6l4.3 -3.5"/>
<path stroke="#569fca" d="M232.8 117.5l1.9 -5.2"/>
<path stroke="#f9c3a8" d="M236.7 113.4l4.7 2.9"/>
<path stroke="#6c0220" d="M241.5 114.9l5.5 -0.1"/>
<path stroke="#f7f7f7" d="M258.2 116.8l3.9 -3.9"/>
<path stroke="#fbcfb8" d="M162.8 118.7l4.6 3.1"/>
<path stroke="#8e0d25" d="M172.9 120.4l5.5 -0.5"/>
<path stroke="#9dcbe1" d="M190.2 122.6l2.6 -4.8"/>
<path stroke="#4292c2" d="M195.9 117.6l1.7 5.2"/>
<path stroke="#73b2d4" d="M201.0 117.7l2.2 5.0"/>
<path stroke="#f8f1ec" d="M205.3 122.1l4.0 -3.8"/>
<path stroke="#800823" d="M209.9 120.3l5.5 -0.3"/>
<path stroke="#4695c4" d="M222.3 117.6l1.7 5.2"/>
<path stroke="#f7f6f5" d="M226.5 122.1l3.9 -3.9"/>
<path stroke="#a7d0e4" d="M237.6 117.8l2.8 4.8"/>
<path stroke="#e6866a" d="M241.8 119.1l5.1 2.1"/>
<path stroke="#6fafd2" d="M248.5 117.7l2.1 5.1"/>
<path stroke="#fbe7db" d="M252.7 122.0l4.2 -3.5"/>
</g></g>
<rect x="160.45" y="19.50" width="105.60" height="105.90" fill="none" stroke="#c4c4c4" stroke-width="1"/>
<path d="M180.94 19.50v1.5M180.94 125.40v-1.5M160.45 40.70h1.5M266.05 40.70h-1.5M207.34 19.50v1.5M207.34 125.40v-1.5M160.45 67.20h1.5M266.05 67.20h-1.5M233.74 19.50v1.5M233.74 125.40v-1.5M160.45 93.70h1.5M266.05 93.70h-1.5M260.14 19.50v1.5M260.14 125.40v-1.5M160.45 120.20h1.5M266.05 120.20h-1.5" stroke="#b0b0b0" stroke-width="0.7" fill="none"/>
<text x="180.94" y="134.90" font-size="8" text-anchor="middle" fill="#262626" color="#262626">5</text>
<text x="157.75" y="43.40" font-size="8" text-anchor="end" fill="#262626" color="#262626">5</text>
<text x="207.34" y="134.90" font-size="8" text-anchor="middle" fill="#262626" color="#262626">10</text>
<text x="157.75" y="69.90" font-size="8" text-anchor="end" fill="#262626" color="#262626">10</text>
<text x="233.74" y="134.90" font-size="8" text-anchor="middle" fill="#262626" color="#262626">15</text>
<text x="157.75" y="96.40" font-size="8" text-anchor="end" fill="#262626" color="#262626">15</text>
<text x="260.14" y="134.90" font-size="8" text-anchor="middle" fill="#262626" color="#262626">20</text>
<text x="157.75" y="122.90" font-size="8" text-anchor="end" fill="#262626" color="#262626">20</text>
<text x="213.25" y="145.70" font-size="8.6" text-anchor="middle" fill="#262626" color="#262626">X</text>
<text transform="translate(146.05 72.45) rotate(-90)" font-size="8.6" text-anchor="middle" fill="#262626" color="#262626">Y</text>
<text x="217.40" y="16.20" font-size="14.5" text-anchor="middle" fill="#000" color="#000">t=400</text>
<rect x="244.84" y="20.50" width="20.87" height="22" fill="#fff"/>
<text x="264.21" y="36.70" font-size="16.9" text-anchor="end" textLength="17.87" lengthAdjust="spacingAndGlyphs" fill="#000" color="#000">(II)</text>
<rect x="223.50" y="62.20" width="26.90" height="21.40" rx="3.6" fill="none" stroke="#000" stroke-width="1.9"/>
<clipPath id="cp2"><rect x="291.40" y="19.50" width="105.60" height="105.90"/></clipPath>
<g clip-path="url(#cp2)"><g stroke-width="1.35" stroke-opacity="0.85" stroke-linecap="round">
<path stroke="#a6cfe4" d="M294.7 27.2l2.7 -4.8M336.9 32.5l2.7 -4.8M352.8 107.2l2.7 4.8"/>
<path stroke="#d45c4b" d="M298.7 25.6l5.2 -1.7"/>
<path stroke="#fac9b0" d="M304.3 23.3l4.6 3.0"/>
<path stroke="#e98c6f" d="M309.4 25.9l5.0 -2.2M388.6 66.1l5.0 2.2"/>
<path stroke="#bad9e9" d="M315.7 27.1l3.0 -4.6"/>
<path stroke="#073568" d="M322.4 27.5l0.1 -5.5"/>
<path stroke="#c03338" d="M325.0 24.2l5.4 1.2M367.3 45.4l5.4 1.2M319.8 77.2l5.4 1.2M314.5 82.5l5.4 1.2"/>
<path stroke="#830924" d="M330.3 25.0l5.5 -0.3M309.1 30.3l5.5 -0.3M372.5 45.8l5.5 0.3"/>
<path stroke="#8d0c25" d="M335.5 24.6l5.5 0.4"/>
<path stroke="#940e26" d="M340.8 24.5l5.5 0.5M383.1 98.7l5.5 0.5"/>
<path stroke="#c2373a" d="M346.2 24.2l5.4 1.2"/>
<path stroke="#f4a784" d="M351.7 26.1l4.9 -2.5"/>
<path stroke="#3d8bbf" d="M358.6 22.2l1.6 5.3M353.4 43.3l1.5 -5.3M348.1 48.7l1.5 5.3"/>
<path stroke="#f9ece5" d="M362.6 26.6l4.1 -3.7"/>
<path stroke="#c3deec" d="M368.4 27.1l3.1 -4.6"/>
<path stroke="#f9f0eb" d="M373.2 22.9l4.0 3.7"/>
<path stroke="#f3f5f6" d="M378.6 22.8l3.8 4.0M373.3 37.4l3.8 -3.9M368.1 85.1l3.8 -4.0"/>
<path stroke="#faebe2" d="M383.7 23.0l4.1 3.6M325.7 90.2l4.2 -3.6M315.1 100.8l4.1 -3.6"/>
<path stroke="#fae9de" d="M389.0 23.0l4.2 3.6M309.8 47.8l4.2 -3.6"/>
<path stroke="#f9c4aa" d="M293.7 28.6l4.7 2.9M362.4 47.5l4.7 -2.9M304.3 71.0l4.7 2.9"/>
<path stroke="#4f9bc7" d="M300.4 32.7l1.8 -5.2"/>
<path stroke="#e5eef4" d="M304.8 28.0l3.6 4.2"/>
<path stroke="#7e0723" d="M314.4 30.2l5.5 -0.3M383.1 88.5l5.5 -0.3M309.1 109.5l5.5 0.3"/>
<path stroke="#ba2732" d="M319.7 29.6l5.4 1.0M330.3 29.6l5.4 1.0"/>
<path stroke="#66a9cf" d="M326.7 27.6l2.1 5.1M305.6 107.1l2.1 5.1"/>
<path stroke="#347fb9" d="M342.9 27.4l1.3 5.3M358.7 112.3l1.3 -5.3"/>
<path stroke="#ec9273" d="M346.3 29.0l5.0 2.3M341.1 100.1l5.0 -2.3"/>
<path stroke="#f5a987" d="M351.7 31.4l4.9 -2.5"/>
<path stroke="#2d76b4" d="M358.8 32.8l1.2 -5.4M385.2 69.8l1.2 5.4M369.4 112.2l1.2 5.4"/>
<path stroke="#f7f7f7" d="M362.7 28.2l3.9 3.9"/>
<path stroke="#d5e7f1" d="M368.3 32.3l3.3 -4.4M384.2 80.9l3.3 4.4M336.6 90.6l3.3 -4.4M294.4 117.1l3.3 -4.4"/>
<path stroke="#faeae0" d="M373.2 28.3l4.2 3.6"/>
<path stroke="#fae7dc" d="M378.4 28.3l4.2 3.5"/>
<path stroke="#fbe6da" d="M383.7 28.4l4.2 3.5M304.5 68.9l4.2 -3.5M362.6 79.6l4.2 -3.5"/>
<path stroke="#f8f0ec" d="M389.1 28.2l4.0 3.7M309.9 54.7l4.0 3.7M331.0 58.5l4.0 -3.7"/>
<path stroke="#6fafd2" d="M295.0 32.9l2.1 5.1M347.8 117.7l2.1 5.1"/>
<path stroke="#da6954" d="M298.7 34.5l5.2 1.8"/>
<path stroke="#bbdaea" d="M305.1 33.1l3.0 4.6"/>
<path stroke="#ca4942" d="M309.2 34.7l5.3 1.4"/>
<path stroke="#a8d0e4" d="M315.8 33.0l2.8 4.8M352.7 106.7l2.8 -4.8"/>
<path stroke="#eef3f5" d="M320.6 33.4l3.7 4.0"/>
<path stroke="#ebf1f5" d="M325.9 33.4l3.7 4.1M325.9 38.7l3.7 4.1"/>
<path stroke="#4896c5" d="M332.1 32.8l1.8 5.2"/>
<path stroke="#f9eee7" d="M336.2 37.2l4.1 -3.7M389.0 33.6l4.1 3.7"/>
<path stroke="#f5aa88" d="M341.1 36.7l4.9 -2.6"/>
<path stroke="#b72230" d="M346.1 34.9l5.4 1.0"/>
<path stroke="#4795c4" d="M353.3 32.8l1.7 5.2M358.5 48.7l1.7 5.2M374.4 54.0l1.7 5.2M321.6 64.6l1.7 5.2M316.3 112.3l1.7 5.2"/>
<path stroke="#3580b9" d="M358.7 32.7l1.3 5.3"/>
<path stroke="#e3edf3" d="M362.9 33.3l3.6 4.2M373.5 42.8l3.6 -4.2"/>
<path stroke="#9ccae1" d="M368.7 37.8l2.6 -4.8M331.7 86.0l2.6 4.8M294.7 122.6l2.6 -4.8"/>
<path stroke="#f6f6f7" d="M378.6 33.4l3.9 3.9M331.1 42.7l3.9 -3.9"/>
<path stroke="#fce2d3" d="M383.6 33.7l4.3 3.4"/>
<path stroke="#f9eee8" d="M294.0 42.5l4.1 -3.7"/>
<path stroke="#3783bb" d="M300.6 43.4l1.4 -5.3M321.7 112.2l1.4 5.3M390.4 117.5l1.4 5.3"/>
<path stroke="#ba2933" d="M303.9 40.2l5.4 1.1"/>
<path stroke="#4997c5" d="M311.0 43.3l1.8 -5.2"/>
<path stroke="#b4d6e8" d="M315.7 38.4l2.9 4.7M379.1 43.0l2.9 -4.7M336.8 96.0l2.9 -4.7"/>
<path stroke="#307ab6" d="M321.8 38.0l1.2 5.4M390.5 91.0l1.2 5.4M390.5 112.2l1.2 5.4"/>
<path stroke="#eb9072" d="M335.8 41.8l5.0 -2.3"/>
<path stroke="#9fcbe2" d="M342.2 43.1l2.6 -4.8"/>
<path stroke="#93c6de" d="M347.6 43.1l2.5 -4.9"/>
<path stroke="#c2ddec" d="M357.9 38.4l3.1 4.6"/>
<path stroke="#3f8ec0" d="M363.9 43.3l1.6 -5.3M379.7 54.0l1.6 5.3"/>
<path stroke="#6e0220" d="M367.2 40.7l5.5 0.1M361.9 72.5l5.5 -0.1M346.1 99.0l5.5 0.1M325.0 109.6l5.5 -0.1"/>
<path stroke="#f0f4f6" d="M383.9 42.7l3.8 -4.0M362.8 63.9l3.8 -4.0M341.7 79.8l3.8 -4.0"/>
<path stroke="#eaf1f5" d="M389.2 42.7l3.7 -4.1M310.0 59.9l3.7 4.1M341.7 95.7l3.7 -4.1"/>
<path stroke="#be3036" d="M293.4 46.6l5.4 -1.1"/>
<path stroke="#286fb1" d="M300.8 43.3l1.0 5.4"/>
<path stroke="#3885bc" d="M305.9 43.3l1.4 5.3"/>
<path stroke="#e7886c" d="M314.6 47.1l5.1 -2.2"/>
<path stroke="#ef9979" d="M320.0 47.2l5.0 -2.4"/>
<path stroke="#3b89be" d="M327.0 43.4l1.5 5.3M332.2 96.4l1.5 5.3"/>
<path stroke="#8a0b25" d="M330.3 46.2l5.5 -0.4M330.3 67.0l5.5 0.4"/>
<path stroke="#e8896c" d="M335.8 47.1l5.1 -2.2"/>
<path stroke="#fbd0b9" d="M341.3 47.5l4.5 -3.1M351.9 76.3l4.5 3.1"/>
<path stroke="#c9e1ee" d="M347.3 48.3l3.1 -4.5M299.8 96.7l3.1 4.5"/>
<path stroke="#2b73b3" d="M353.6 43.3l1.1 5.4M353.6 112.2l1.1 5.4"/>
<path stroke="#f8f2ee" d="M357.4 47.9l4.0 -3.8M378.5 79.7l4.0 -3.8"/>
<path stroke="#f7b697" d="M378.1 44.6l4.8 2.7"/>
<path stroke="#c03539" d="M383.1 46.6l5.4 -1.2"/>
<path stroke="#da6853" d="M388.5 45.1l5.2 1.8"/>
<path stroke="#fddac6" d="M293.8 52.9l4.5 -3.2M304.4 60.3l4.5 3.2"/>
<path stroke="#9ac9e0" d="M300.0 53.7l2.6 -4.8"/>
<path stroke="#f7b99c" d="M304.2 52.7l4.7 -2.8M314.8 89.8l4.7 -2.8"/>
<path stroke="#15508d" d="M311.6 48.6l0.5 5.5"/>
<path stroke="#559ec9" d="M316.2 48.7l1.9 5.2"/>
<path stroke="#2a72b2" d="M321.9 48.6l1.1 5.4"/>
<path stroke="#faeae1" d="M325.6 53.1l4.2 -3.6"/>
<path stroke="#f7b799" d="M330.6 49.9l4.8 2.7"/>
<path stroke="#fbcdb5" d="M336.0 52.8l4.6 -3.0"/>
<path stroke="#fae8dd" d="M341.5 53.1l4.2 -3.6M330.9 122.0l4.2 -3.6"/>
<path stroke="#16518f" d="M353.9 48.6l0.5 5.5"/>
<path stroke="#9dcbe1" d="M363.4 53.7l2.6 -4.8M358.1 59.0l2.6 -4.8"/>
<path stroke="#fcd5bf" d="M367.7 52.9l4.5 -3.2"/>
<path stroke="#89bfdb" d="M374.0 48.8l2.4 4.9"/>
<path stroke="#67aacf" d="M379.5 48.8l2.1 5.1"/>
<path stroke="#fac7ad" d="M383.5 49.8l4.6 3.0M346.5 89.9l4.6 -3.0M309.6 118.7l4.6 3.0"/>
<path stroke="#d86450" d="M388.5 52.2l5.2 -1.7"/>
<path stroke="#fcd3bd" d="M293.8 55.0l4.5 3.1M314.9 92.1l4.5 3.1"/>
<path stroke="#860a24" d="M298.6 56.4l5.5 0.4"/>
<path stroke="#bc2d35" d="M303.9 56.0l5.4 1.1"/>
<path stroke="#73b2d4" d="M316.1 54.1l2.2 5.0"/>
<path stroke="#3e8cbf" d="M321.7 59.2l1.6 -5.3M300.5 85.8l1.6 5.3M305.8 85.8l1.6 5.3"/>
<path stroke="#69abd0" d="M326.7 54.1l2.1 5.1"/>
<path stroke="#f3a380" d="M335.8 57.8l4.9 -2.5"/>
<path stroke="#bb2a34" d="M340.9 56.1l5.4 1.1"/>
<path stroke="#740421" d="M346.1 56.7l5.5 -0.1M351.4 88.5l5.5 -0.1"/>
<path stroke="#d7e8f1" d="M352.5 54.4l3.3 4.4M326.1 69.4l3.3 -4.4M310.2 90.6l3.3 -4.4"/>
<path stroke="#d35a4a" d="M362.1 55.8l5.3 1.6M367.3 98.2l5.3 1.6"/>
<path stroke="#ecf2f5" d="M368.1 58.6l3.7 -4.1"/>
<path stroke="#6c0220" d="M383.1 56.6l5.5 -0.1M383.1 67.2l5.5 0.1"/>
<path stroke="#7c0722" d="M388.3 56.7l5.5 -0.2"/>
<path stroke="#eff3f5" d="M294.2 59.9l3.8 4.0M383.9 63.9l3.8 -4.0"/>
<path stroke="#f8f3f1" d="M299.3 60.0l4.0 3.8"/>
<path stroke="#d86551" d="M314.6 61.0l5.2 1.8M372.6 98.1l5.2 1.8M383.2 108.7l5.2 1.8"/>
<path stroke="#10457e" d="M322.3 64.6l0.3 -5.5"/>
<path stroke="#e98b6e" d="M325.2 63.0l5.0 -2.2"/>
<path stroke="#6d0220" d="M330.3 61.9l5.5 -0.1"/>
<path stroke="#cb4a43" d="M335.6 61.2l5.3 1.5M314.5 77.1l5.3 1.5"/>
<path stroke="#f8f1ed" d="M341.6 63.8l4.0 -3.8"/>
<path stroke="#e7eff4" d="M347.0 59.8l3.6 4.1M368.2 64.0l3.6 -4.1M378.7 69.3l3.6 -4.1"/>
<path stroke="#f9ede6" d="M352.1 60.1l4.1 3.7M352.1 74.3l4.1 -3.7"/>
<path stroke="#d6e8f1" d="M357.7 59.7l3.3 4.4M299.7 95.9l3.3 -4.4"/>
<path stroke="#337eb8" d="M374.6 64.6l1.3 -5.3"/>
<path stroke="#f6f7f7" d="M378.6 63.9l3.9 -3.9"/>
<path stroke="#f9ede5" d="M389.0 63.7l4.1 -3.7"/>
<path stroke="#3a88bd" d="M295.3 69.8l1.5 -5.3M358.7 106.9l1.5 -5.3M348.1 112.3l1.5 5.3"/>
<path stroke="#e7866a" d="M298.8 66.1l5.1 2.1"/>
<path stroke="#f5ad8c" d="M309.5 65.9l4.8 2.6"/>
<path stroke="#f8f4f2" d="M315.2 69.1l4.0 -3.8M331.0 106.2l3.9 -3.8"/>
<path stroke="#820923" d="M335.5 67.4l5.5 -0.3M293.3 72.7l5.5 -0.3M383.1 93.9l5.5 -0.3"/>
<path stroke="#960f26" d="M340.8 66.9l5.5 0.5"/>
<path stroke="#991027" d="M346.1 67.5l5.5 -0.6"/>
<path stroke="#fbd0b8" d="M351.8 68.7l4.6 -3.1"/>
<path stroke="#c7423f" d="M356.7 66.5l5.3 1.3"/>
<path stroke="#facbb2" d="M362.4 68.7l4.6 -3.0"/>
<path stroke="#bf3237" d="M367.3 66.6l5.4 1.2M335.6 73.1l5.4 -1.2"/>
<path stroke="#8c0c25" d="M372.5 67.0l5.5 0.4"/>
<path stroke="#67001f" d="M298.6 72.5l5.5 0.0M314.4 109.6l5.5 -0.0"/>
<path stroke="#68001f" d="M309.1 72.5l5.5 0.0"/>
<path stroke="#6a0120" d="M314.4 72.5l5.5 -0.0"/>
<path stroke="#900d26" d="M319.7 72.7l5.5 -0.5M309.1 104.5l5.5 -0.5"/>
<path stroke="#ea8e70" d="M325.2 73.6l5.0 -2.2"/>
<path stroke="#f9c1a6" d="M330.7 71.1l4.7 2.9"/>
<path stroke="#f2a07e" d="M341.1 71.3l4.9 2.4M293.6 84.3l4.9 -2.4M367.5 105.5l4.9 -2.4"/>
<path stroke="#f5ad8d" d="M346.4 73.8l4.8 -2.6"/>
<path stroke="#f2a17f" d="M356.9 73.7l4.9 -2.5"/>
<path stroke="#930e26" d="M367.2 72.2l5.5 0.5"/>
<path stroke="#760521" d="M372.5 72.4l5.5 0.2"/>
<path stroke="#ec9374" d="M378.0 71.4l5.0 2.3"/>
<path stroke="#780622" d="M388.3 72.6l5.5 -0.2"/>
<path stroke="#d9e9f1" d="M294.4 75.6l3.4 4.3"/>
<path stroke="#f8bca0" d="M299.0 79.2l4.7 -2.8"/>
<path stroke="#f9c2a7" d="M304.3 79.2l4.7 -2.9M378.2 102.9l4.7 2.9"/>
<path stroke="#f7f6f5" d="M309.9 79.7l3.9 -3.9M331.1 111.5l3.9 -3.9"/>
<path stroke="#8ec3dd" d="M326.5 75.3l2.5 4.9"/>
<path stroke="#8cc1dc" d="M331.8 75.3l2.4 4.9"/>
<path stroke="#880a24" d="M335.5 78.0l5.5 -0.4"/>
<path stroke="#770522" d="M346.1 77.9l5.5 -0.2M303.9 114.8l5.5 0.2"/>
<path stroke="#f9c3a8" d="M357.1 76.3l4.7 2.9"/>
<path stroke="#3580ba" d="M369.3 80.5l1.4 -5.3"/>
<path stroke="#fcd6c0" d="M373.0 76.2l4.5 3.2"/>
<path stroke="#6eaed2" d="M384.7 75.3l2.1 5.1"/>
<path stroke="#cce3ef" d="M389.5 75.6l3.2 4.5M299.7 112.7l3.2 4.5"/>
<path stroke="#f9c2a8" d="M299.0 84.6l4.7 -2.9M383.5 105.8l4.7 -2.9"/>
<path stroke="#5fa5cd" d="M305.6 80.5l2.0 5.1"/>
<path stroke="#d0e4f0" d="M310.3 85.3l3.2 -4.5"/>
<path stroke="#d05548" d="M319.8 82.3l5.3 1.6"/>
<path stroke="#facab1" d="M325.4 84.6l4.6 -3.0"/>
<path stroke="#f9efea" d="M331.0 81.2l4.1 3.7M336.3 106.2l4.1 -3.7"/>
<path stroke="#f8bfa3" d="M335.9 81.7l4.7 2.9"/>
<path stroke="#e8f0f4" d="M341.7 85.2l3.6 -4.1"/>
<path stroke="#f7b99b" d="M346.5 81.7l4.7 2.8"/>
<path stroke="#ee9777" d="M351.6 81.9l5.0 2.3"/>
<path stroke="#c2383a" d="M356.7 82.5l5.4 1.2"/>
<path stroke="#e6eff4" d="M362.9 85.2l3.6 -4.2"/>
<path stroke="#f9ebe3" d="M373.2 84.9l4.1 -3.6"/>
<path stroke="#f4f6f6" d="M378.6 85.1l3.8 -3.9"/>
<path stroke="#266caf" d="M390.6 80.4l1.0 5.4"/>
<path stroke="#4292c2" d="M295.2 91.0l1.7 -5.2"/>
<path stroke="#f19d7c" d="M320.0 89.6l4.9 -2.4"/>
<path stroke="#f9ece4" d="M341.5 90.2l4.1 -3.6"/>
<path stroke="#a1cde2" d="M358.1 86.0l2.7 4.8"/>
<path stroke="#fbe2d3" d="M362.5 90.1l4.3 -3.4"/>
<path stroke="#09386c" d="M369.9 85.7l0.1 5.5M369.9 91.0l0.1 5.5M296.0 96.3l0.1 5.5"/>
<path stroke="#e2edf3" d="M373.5 86.3l3.5 4.2"/>
<path stroke="#e58268" d="M378.0 89.5l5.1 -2.1"/>
<path stroke="#78b4d5" d="M390.0 85.9l2.2 5.0"/>
<path stroke="#2a73b2" d="M295.5 91.0l1.1 5.4"/>
<path stroke="#70afd2" d="M305.5 91.2l2.2 5.1"/>
<path stroke="#fac8af" d="M309.6 95.2l4.6 -3.0"/>
<path stroke="#c33a3b" d="M319.8 94.3l5.4 -1.3"/>
<path stroke="#7f0823" d="M325.0 93.6l5.5 0.3"/>
<path stroke="#3e8dc0" d="M332.2 91.1l1.6 5.3M353.3 96.3l1.6 -5.3M379.7 117.6l1.6 5.3"/>
<path stroke="#3581ba" d="M348.2 91.0l1.4 5.3"/>
<path stroke="#fcd7c2" d="M357.2 92.1l4.5 3.2"/>
<path stroke="#63a7ce" d="M363.7 91.1l2.0 5.1"/>
<path stroke="#fbe5d9" d="M373.1 92.0l4.3 3.5"/>
<path stroke="#7d0722" d="M377.8 93.8l5.5 -0.2"/>
<path stroke="#cc4b43" d="M304.0 98.3l5.3 1.5"/>
<path stroke="#920e26" d="M309.1 99.2l5.5 -0.5"/>
<path stroke="#ed9475" d="M320.0 100.2l5.0 -2.3"/>
<path stroke="#970f27" d="M325.0 98.7l5.5 0.6"/>
<path stroke="#2c74b3" d="M337.7 96.3l1.1 5.4"/>
<path stroke="#3a87bd" d="M353.4 96.4l1.5 5.3"/>
<path stroke="#9bcae1" d="M358.1 101.4l2.6 -4.8"/>
<path stroke="#f6b292" d="M362.3 97.7l4.8 2.7"/>
<path stroke="#69011f" d="M377.8 99.0l5.5 0.0"/>
<path stroke="#abd1e5" d="M389.7 101.4l2.8 -4.7"/>
<path stroke="#fbe3d5" d="M293.9 106.0l4.3 -3.4"/>
<path stroke="#4393c3" d="M300.5 101.7l1.7 5.2"/>
<path stroke="#a5cfe3" d="M305.2 101.9l2.7 4.8"/>
<path stroke="#fac7ae" d="M314.9 105.8l4.6 -3.0"/>
<path stroke="#ca4842" d="M319.8 103.6l5.3 1.4"/>
<path stroke="#d05447" d="M325.1 103.5l5.3 1.6"/>
<path stroke="#c03438" d="M340.9 103.7l5.4 1.2"/>
<path stroke="#f6b191" d="M346.4 103.0l4.8 2.7"/>
<path stroke="#4191c2" d="M363.9 106.9l1.7 -5.2"/>
<path stroke="#f6ae8e" d="M372.8 103.0l4.8 2.6M357.0 116.2l4.8 -2.6"/>
<path stroke="#276eb0" d="M390.6 101.6l1.0 5.4"/>
<path stroke="#d3e6f0" d="M294.4 107.4l3.3 4.4"/>
<path stroke="#0a396e" d="M301.3 106.9l0.1 5.5"/>
<path stroke="#d96752" d="M319.8 108.7l5.2 1.8"/>
<path stroke="#f8f3f0" d="M336.3 111.5l4.0 -3.8M315.2 122.1l4.0 -3.8"/>
<path stroke="#db6b55" d="M341.0 108.7l5.2 1.8"/>
<path stroke="#266db0" d="M348.3 106.9l1.0 5.4"/>
<path stroke="#e3eef3" d="M362.9 111.7l3.6 -4.2"/>
<path stroke="#3986bc" d="M369.2 106.9l1.5 5.3"/>
<path stroke="#f19e7d" d="M372.8 108.4l4.9 2.4"/>
<path stroke="#bb2a33" d="M377.8 109.1l5.4 1.1"/>
<path stroke="#bcdaea" d="M389.6 111.9l3.0 -4.6"/>
<path stroke="#e58368" d="M309.3 116.0l5.1 -2.1"/>
<path stroke="#71b0d3" d="M326.6 112.4l2.2 5.1"/>
<path stroke="#4e9ac7" d="M332.1 117.5l1.8 -5.2"/>
<path stroke="#d25749" d="M335.7 115.7l5.3 -1.6"/>
<path stroke="#e9f0f4" d="M341.7 117.0l3.7 -4.1"/>
<path stroke="#bedbeb" d="M363.2 117.2l3.0 -4.6"/>
<path stroke="#7a0622" d="M372.5 114.8l5.5 0.2"/>
<path stroke="#720321" d="M377.8 115.0l5.5 -0.1"/>
<path stroke="#cae1ee" d="M384.2 117.2l3.2 -4.5"/>
<path stroke="#c94641" d="M298.7 119.5l5.3 1.4"/>
<path stroke="#7b0622" d="M303.9 120.3l5.5 -0.2"/>
<path stroke="#ca4741" d="M319.8 119.5l5.3 1.4"/>
<path stroke="#cf5247" d="M325.1 119.4l5.3 1.5"/>
<path stroke="#408fc1" d="M337.5 117.6l1.6 5.3"/>
<path stroke="#0e4178" d="M343.4 122.9l0.3 -5.5"/>
<path stroke="#0b3b71" d="M354.0 122.9l0.2 -5.5"/>
<path stroke="#db6c56" d="M356.8 119.3l5.2 1.8"/>
<path stroke="#f8bb9e" d="M362.3 118.8l4.7 2.8"/>
<path stroke="#f8f5f3" d="M368.0 122.1l3.9 -3.8"/>
<path stroke="#f9c5ab" d="M372.9 118.7l4.6 2.9"/>
<path stroke="#f7f6f6" d="M383.9 122.1l3.9 -3.9"/>
</g></g>
<rect x="291.40" y="19.50" width="105.60" height="105.90" fill="none" stroke="#c4c4c4" stroke-width="1"/>
<path d="M311.89 19.50v1.5M311.89 125.40v-1.5M291.40 40.70h1.5M397.00 40.70h-1.5M338.29 19.50v1.5M338.29 125.40v-1.5M291.40 67.20h1.5M397.00 67.20h-1.5M364.69 19.50v1.5M364.69 125.40v-1.5M291.40 93.70h1.5M397.00 93.70h-1.5M391.09 19.50v1.5M391.09 125.40v-1.5M291.40 120.20h1.5M397.00 120.20h-1.5" stroke="#b0b0b0" stroke-width="0.7" fill="none"/>
<text x="311.89" y="134.90" font-size="8" text-anchor="middle" fill="#262626" color="#262626">5</text>
<text x="288.70" y="43.40" font-size="8" text-anchor="end" fill="#262626" color="#262626">5</text>
<text x="338.29" y="134.90" font-size="8" text-anchor="middle" fill="#262626" color="#262626">10</text>
<text x="288.70" y="69.90" font-size="8" text-anchor="end" fill="#262626" color="#262626">10</text>
<text x="364.69" y="134.90" font-size="8" text-anchor="middle" fill="#262626" color="#262626">15</text>
<text x="288.70" y="96.40" font-size="8" text-anchor="end" fill="#262626" color="#262626">15</text>
<text x="391.09" y="134.90" font-size="8" text-anchor="middle" fill="#262626" color="#262626">20</text>
<text x="288.70" y="122.90" font-size="8" text-anchor="end" fill="#262626" color="#262626">20</text>
<text x="344.20" y="145.70" font-size="8.6" text-anchor="middle" fill="#262626" color="#262626">X</text>
<text transform="translate(277.00 72.45) rotate(-90)" font-size="8.6" text-anchor="middle" fill="#262626" color="#262626">Y</text>
<text x="345.90" y="16.20" font-size="14.5" text-anchor="middle" fill="#000" color="#000">t=600</text>
<rect x="369.62" y="20.50" width="25.30" height="22" fill="#fff"/>
<text x="393.42" y="36.70" font-size="16.9" text-anchor="end" textLength="22.30" lengthAdjust="spacingAndGlyphs" fill="#000" color="#000">(III)</text>
<rect x="354.70" y="62.20" width="27.10" height="21.40" rx="3.6" fill="none" stroke="#000" stroke-width="1.9"/>
<clipPath id="cp3"><rect x="422.35" y="19.50" width="105.60" height="105.90"/></clipPath>
<g clip-path="url(#cp3)"><g stroke-width="1.35" stroke-opacity="0.85" stroke-linecap="round">
<path stroke="#cde3ef" d="M425.4 27.0l3.2 -4.5"/>
<path stroke="#d4e7f1" d="M430.6 27.0l3.3 -4.4M504.5 91.5l3.3 4.4"/>
<path stroke="#fbe3d5" d="M435.4 26.5l4.3 -3.4M514.6 116.6l4.3 -3.4"/>
<path stroke="#d35a4a" d="M440.2 25.6l5.3 -1.6M471.9 66.4l5.3 1.6M482.4 89.2l5.3 -1.6"/>
<path stroke="#edf2f5" d="M446.3 26.8l3.7 -4.0M483.2 33.4l3.7 4.0M430.4 53.3l3.7 -4.0"/>
<path stroke="#67aacf" d="M452.4 22.3l2.1 5.1"/>
<path stroke="#ef9979" d="M456.2 23.6l5.0 2.4M461.5 44.8l5.0 2.4M466.8 63.1l5.0 -2.4"/>
<path stroke="#910d26" d="M461.2 24.6l5.5 0.5M466.5 104.1l5.5 0.5M450.7 120.0l5.5 0.5"/>
<path stroke="#68001f" d="M466.5 24.8l5.5 -0.0M492.9 56.6l5.5 0.0M471.8 104.3l5.5 0.0"/>
<path stroke="#eaf1f5" d="M472.7 26.8l3.7 -4.1M435.7 79.8l3.7 -4.1M514.9 95.7l3.7 -4.1"/>
<path stroke="#f5ad8c" d="M477.4 26.1l4.8 -2.6"/>
<path stroke="#e9f0f4" d="M483.2 22.7l3.7 4.1M441.0 69.3l3.7 -4.1M488.5 69.3l3.7 -4.1M509.7 74.6l3.7 -4.1M488.5 111.7l3.7 -4.1"/>
<path stroke="#4997c5" d="M489.5 22.2l1.8 5.2"/>
<path stroke="#58a0ca" d="M494.7 27.4l1.9 -5.2"/>
<path stroke="#e8f0f4" d="M499.1 26.9l3.6 -4.1M483.3 32.2l3.6 -4.1M467.4 53.4l3.6 -4.1"/>
<path stroke="#f3f5f6" d="M504.3 22.8l3.8 4.0M488.4 48.0l3.8 -4.0"/>
<path stroke="#f9ece5" d="M509.4 23.0l4.1 3.7"/>
<path stroke="#f6f6f7" d="M514.8 22.8l3.9 3.9"/>
<path stroke="#f8f4f1" d="M520.1 22.9l4.0 3.8M514.8 33.5l4.0 3.8M520.1 33.5l4.0 3.8"/>
<path stroke="#ec9374" d="M424.5 29.0l5.0 2.3M482.6 68.3l5.0 -2.3"/>
<path stroke="#f6b293" d="M429.9 31.4l4.8 -2.7"/>
<path stroke="#d3e6f0" d="M435.9 27.9l3.3 4.4M467.6 70.3l3.3 4.4"/>
<path stroke="#be3137" d="M440.1 30.7l5.4 -1.2"/>
<path stroke="#f8f0ec" d="M446.1 32.0l4.0 -3.7M446.1 53.2l4.0 -3.7M520.0 95.6l4.0 -3.7M514.7 102.4l4.0 3.7"/>
<path stroke="#f8f3f0" d="M451.4 28.2l4.0 3.8M488.4 42.6l4.0 -3.8M451.4 47.9l4.0 -3.8M498.9 47.9l4.0 -3.8"/>
<path stroke="#f2f4f6" d="M456.8 32.1l3.8 -4.0M472.6 58.6l3.8 -4.0"/>
<path stroke="#810823" d="M461.2 30.2l5.5 -0.3M455.9 120.3l5.5 -0.3"/>
<path stroke="#f9ede6" d="M467.2 31.9l4.1 -3.7M456.6 44.2l4.1 3.7M498.9 116.7l4.1 -3.7"/>
<path stroke="#f8f2ee" d="M472.5 32.0l4.0 -3.8M498.9 32.0l4.0 -3.8M520.0 63.8l4.0 -3.8M472.5 90.3l4.0 -3.8M467.2 100.9l4.0 -3.8M488.4 122.1l4.0 -3.8"/>
<path stroke="#f4a784" d="M477.4 28.8l4.9 2.5"/>
<path stroke="#2d76b4" d="M489.8 27.4l1.2 5.4M431.7 112.2l1.2 5.4"/>
<path stroke="#3d8cbf" d="M494.9 27.5l1.6 5.3"/>
<path stroke="#fbe6da" d="M504.1 28.3l4.2 3.5M488.2 53.1l4.2 -3.5M488.2 63.6l4.2 -3.5"/>
<path stroke="#f8f5f3" d="M509.5 28.2l3.9 3.8M483.1 63.8l3.9 -3.8"/>
<path stroke="#f9efe9" d="M514.7 28.2l4.1 3.7M514.7 47.9l4.1 -3.7M440.8 63.8l4.1 -3.7"/>
<path stroke="#fbe5d8" d="M519.9 28.4l4.3 3.5M488.2 54.9l4.3 3.5M504.1 63.6l4.3 -3.5"/>
<path stroke="#114781" d="M426.8 32.7l0.4 5.5"/>
<path stroke="#d2e6f0" d="M430.6 33.2l3.3 4.4"/>
<path stroke="#fbceb7" d="M435.3 33.9l4.6 3.1M445.8 55.1l4.6 3.1"/>
<path stroke="#8c0c25" d="M440.1 35.6l5.5 -0.4"/>
<path stroke="#830924" d="M445.4 35.6l5.5 -0.3"/>
<path stroke="#f8bea2" d="M451.0 34.0l4.7 2.8"/>
<path stroke="#e6866a" d="M456.1 34.3l5.1 2.1M450.9 76.7l5.1 2.1M477.3 100.1l5.1 -2.1"/>
<path stroke="#98c8e0" d="M462.7 33.0l2.6 4.9"/>
<path stroke="#3c8abe" d="M468.5 32.8l1.5 5.3"/>
<path stroke="#f9eee8" d="M472.5 37.2l4.1 -3.7M461.9 42.5l4.1 -3.7"/>
<path stroke="#e98c6f" d="M477.3 34.3l5.0 2.2M503.7 108.5l5.0 2.2"/>
<path stroke="#4a97c5" d="M489.5 32.8l1.8 5.2"/>
<path stroke="#9dcbe1" d="M494.3 33.0l2.6 4.8"/>
<path stroke="#faebe2" d="M498.8 37.2l4.1 -3.6"/>
<path stroke="#ecf2f5" d="M504.3 33.4l3.7 4.1M483.2 42.7l3.7 -4.1M477.9 58.6l3.7 -4.1M520.2 69.2l3.7 -4.1M462.1 95.7l3.7 -4.1"/>
<path stroke="#fbe6d9" d="M509.4 33.7l4.3 3.5M514.6 63.6l4.3 -3.5M504.1 90.1l4.3 -3.5"/>
<path stroke="#90c4dd" d="M425.8 43.2l2.5 -4.9M478.6 112.4l2.5 4.9"/>
<path stroke="#c7e0ed" d="M430.7 38.4l3.1 4.5"/>
<path stroke="#d25849" d="M434.9 41.5l5.3 -1.6"/>
<path stroke="#5ca3cc" d="M441.9 38.1l2.0 5.1"/>
<path stroke="#2970b1" d="M447.6 38.0l1.0 5.4"/>
<path stroke="#5fa5cd" d="M452.4 38.1l2.0 5.1"/>
<path stroke="#fac8ae" d="M456.4 39.2l4.6 3.0"/>
<path stroke="#d2594a" d="M466.6 39.9l5.3 1.6"/>
<path stroke="#0e4179" d="M474.4 43.4l0.3 -5.5"/>
<path stroke="#da6853" d="M477.2 41.6l5.2 -1.8"/>
<path stroke="#ef9a7a" d="M493.2 41.9l5.0 -2.4"/>
<path stroke="#e9f1f5" d="M499.1 42.8l3.7 -4.1"/>
<path stroke="#f9ede5" d="M504.1 42.5l4.1 -3.7M472.5 100.8l4.1 -3.7"/>
<path stroke="#92c5de" d="M510.2 43.2l2.5 -4.9"/>
<path stroke="#e7eff4" d="M514.9 42.8l3.6 -4.1M509.7 79.9l3.6 -4.1"/>
<path stroke="#d4e6f0" d="M520.4 42.9l3.3 -4.4"/>
<path stroke="#93c5de" d="M425.7 48.4l2.5 -4.9"/>
<path stroke="#2971b2" d="M431.7 48.7l1.1 -5.4"/>
<path stroke="#134a86" d="M437.3 48.7l0.4 -5.5"/>
<path stroke="#f6b091" d="M440.4 44.7l4.8 2.7"/>
<path stroke="#aed3e6" d="M446.7 43.6l2.8 4.7"/>
<path stroke="#e48166" d="M466.7 47.0l5.1 -2.1"/>
<path stroke="#114782" d="M474.3 48.7l0.4 -5.5"/>
<path stroke="#3c89be" d="M479.0 48.6l1.5 -5.3"/>
<path stroke="#c9e1ee" d="M483.5 48.3l3.1 -4.5"/>
<path stroke="#fae8dd" d="M493.5 47.8l4.2 -3.6M446.0 79.6l4.2 -3.5M440.7 122.0l4.2 -3.6"/>
<path stroke="#cf5246" d="M503.6 45.2l5.3 1.5"/>
<path stroke="#db6c56" d="M508.9 45.1l5.2 1.8M445.5 94.6l5.2 -1.8M508.9 119.3l5.2 1.8"/>
<path stroke="#f7b89a" d="M519.7 47.4l4.8 -2.8"/>
<path stroke="#db6b55" d="M424.4 50.4l5.2 1.8"/>
<path stroke="#cf5247" d="M434.9 52.1l5.3 -1.5"/>
<path stroke="#abd2e5" d="M441.4 48.9l2.8 4.7M478.4 107.2l2.8 4.7"/>
<path stroke="#f8f1ec" d="M451.4 49.4l4.0 3.8"/>
<path stroke="#559fc9" d="M457.7 48.7l1.9 5.2"/>
<path stroke="#fbcdb5" d="M461.7 52.8l4.6 -3.0"/>
<path stroke="#f9f0ea" d="M472.5 53.2l4.0 -3.7M483.1 74.4l4.0 -3.7"/>
<path stroke="#2a71b2" d="M479.3 54.0l1.1 -5.4"/>
<path stroke="#d7e8f1" d="M483.4 53.5l3.3 -4.4"/>
<path stroke="#f8f4f2" d="M493.7 53.2l3.9 -3.8"/>
<path stroke="#c2393a" d="M498.2 50.7l5.4 1.2"/>
<path stroke="#c43d3c" d="M503.5 50.7l5.3 1.3"/>
<path stroke="#981027" d="M508.7 51.0l5.5 0.6M508.7 115.2l5.5 -0.6"/>
<path stroke="#850a24" d="M514.0 51.5l5.5 -0.3M487.6 99.2l5.5 -0.3"/>
<path stroke="#730421" d="M519.3 51.2l5.5 0.1M424.2 56.5l5.5 0.1"/>
<path stroke="#960f26" d="M429.5 56.9l5.5 -0.5M461.2 88.1l5.5 0.5"/>
<path stroke="#b6202f" d="M434.8 57.1l5.4 -1.0"/>
<path stroke="#b1d5e7" d="M441.4 54.3l2.9 4.7"/>
<path stroke="#fac7ae" d="M451.1 55.1l4.6 3.0"/>
<path stroke="#fbe4d6" d="M456.5 58.3l4.3 -3.5M498.8 63.6l4.3 -3.4M461.8 121.9l4.3 -3.4"/>
<path stroke="#9ac9e0" d="M462.7 59.0l2.6 -4.9"/>
<path stroke="#fbd1bb" d="M467.0 58.2l4.5 -3.1"/>
<path stroke="#faebe3" d="M483.0 58.4l4.1 -3.6"/>
<path stroke="#f9c1a6" d="M498.6 55.2l4.7 2.9"/>
<path stroke="#a6cfe4" d="M504.8 54.2l2.7 4.8M489.0 74.9l2.7 -4.8"/>
<path stroke="#fcd8c3" d="M509.2 55.0l4.5 3.2M504.0 102.7l4.5 3.2"/>
<path stroke="#faccb4" d="M514.5 55.1l4.6 3.0"/>
<path stroke="#eb9072" d="M519.5 57.7l5.0 -2.3"/>
<path stroke="#f8bb9e" d="M424.6 60.5l4.7 2.8"/>
<path stroke="#ca4741" d="M429.6 61.2l5.3 1.4"/>
<path stroke="#cc4d44" d="M434.9 61.2l5.3 1.5M498.3 66.5l5.3 1.5M503.5 77.1l5.3 1.5"/>
<path stroke="#c2373a" d="M445.4 61.3l5.4 1.2"/>
<path stroke="#fac6ac" d="M451.1 60.4l4.6 3.0M519.7 89.9l4.6 -3.0M424.7 121.7l4.6 -3.0"/>
<path stroke="#f7f5f4" d="M456.7 63.8l3.9 -3.8"/>
<path stroke="#faeae1" d="M461.9 63.7l4.2 -3.6"/>
<path stroke="#c33a3b" d="M471.8 61.3l5.4 1.3M477.1 103.7l5.4 1.3"/>
<path stroke="#bd2e36" d="M477.1 61.3l5.4 1.1M440.1 73.1l5.4 -1.1"/>
<path stroke="#70afd2" d="M494.6 59.4l2.2 5.1"/>
<path stroke="#f1f4f6" d="M509.6 63.9l3.8 -4.0M520.1 106.3l3.8 -4.0"/>
<path stroke="#8d0c25" d="M424.3 67.4l5.5 -0.4"/>
<path stroke="#e58368" d="M429.7 66.1l5.1 2.1"/>
<path stroke="#860a24" d="M434.8 67.4l5.5 -0.4M514.0 67.4l5.5 -0.4"/>
<path stroke="#e68469" d="M445.6 68.3l5.1 -2.1M450.9 105.4l5.1 -2.1"/>
<path stroke="#c03438" d="M450.7 67.8l5.4 -1.2"/>
<path stroke="#f6b292" d="M456.3 68.5l4.8 -2.7M445.7 100.3l4.8 -2.7"/>
<path stroke="#9ccae1" d="M462.6 69.6l2.6 -4.8"/>
<path stroke="#c63f3e" d="M466.6 67.9l5.3 -1.3"/>
<path stroke="#740421" d="M477.0 67.3l5.5 -0.1"/>
<path stroke="#ed9576" d="M493.1 66.0l5.0 2.3"/>
<path stroke="#6e0220" d="M503.4 67.2l5.5 -0.1M434.8 99.0l5.5 -0.1"/>
<path stroke="#870a24" d="M508.7 67.0l5.5 0.4"/>
<path stroke="#bb2a34" d="M424.3 72.0l5.4 1.1"/>
<path stroke="#7a0622" d="M429.5 72.6l5.5 -0.2M487.6 77.7l5.5 0.2M440.1 99.1l5.5 -0.2M466.5 109.5l5.5 0.2"/>
<path stroke="#bf3237" d="M434.9 71.9l5.4 1.2"/>
<path stroke="#fce2d3" d="M446.0 74.2l4.3 -3.4"/>
<path stroke="#f7f7f7" d="M451.5 74.4l3.9 -3.9"/>
<path stroke="#fcd6c1" d="M456.4 74.1l4.5 -3.2"/>
<path stroke="#e4eef3" d="M462.2 74.6l3.6 -4.2"/>
<path stroke="#f9c1a5" d="M472.2 71.1l4.7 2.9"/>
<path stroke="#7c0722" d="M477.0 72.6l5.5 -0.2"/>
<path stroke="#ea8d70" d="M493.1 73.6l5.0 -2.2"/>
<path stroke="#bc2d35" d="M498.2 71.9l5.4 1.1"/>
<path stroke="#fddbc7" d="M504.0 70.9l4.4 3.2"/>
<path stroke="#710321" d="M514.0 72.6l5.5 -0.1"/>
<path stroke="#f9c4aa" d="M519.7 71.0l4.7 2.9"/>
<path stroke="#991027" d="M424.3 77.5l5.5 0.6"/>
<path stroke="#7b0622" d="M429.5 77.7l5.5 0.2"/>
<path stroke="#d86551" d="M440.2 76.9l5.2 1.8"/>
<path stroke="#f5ac8a" d="M456.3 76.5l4.9 2.6M519.6 76.5l4.9 2.6"/>
<path stroke="#fbd0b9" d="M461.7 76.3l4.5 3.1"/>
<path stroke="#d05447" d="M466.6 78.6l5.3 -1.6"/>
<path stroke="#720321" d="M471.8 77.9l5.5 -0.1M503.4 98.9l5.5 0.1"/>
<path stroke="#d55e4c" d="M477.2 77.0l5.2 1.7"/>
<path stroke="#e3edf3" d="M483.3 79.9l3.6 -4.2"/>
<path stroke="#0d4078" d="M495.5 75.1l0.3 5.5"/>
<path stroke="#7e0723" d="M498.2 77.7l5.5 0.3M487.6 115.0l5.5 -0.3"/>
<path stroke="#fbd1ba" d="M514.5 76.3l4.5 3.1"/>
<path stroke="#bc2c34" d="M424.3 82.6l5.4 1.1M456.0 110.1l5.4 -1.1"/>
<path stroke="#95c6df" d="M431.0 80.7l2.5 4.9"/>
<path stroke="#569fca" d="M436.6 85.7l1.9 -5.2M431.3 107.0l1.9 5.2"/>
<path stroke="#cd4e44" d="M440.2 83.8l5.3 -1.5"/>
<path stroke="#f09c7b" d="M445.6 84.3l5.0 -2.4"/>
<path stroke="#f5a987" d="M451.0 81.8l4.9 2.5"/>
<path stroke="#f2a17f" d="M456.2 84.3l4.9 -2.5"/>
<path stroke="#e7876b" d="M461.4 82.0l5.1 2.2"/>
<path stroke="#fae9de" d="M467.1 84.9l4.2 -3.6"/>
<path stroke="#f7b597" d="M472.1 81.7l4.8 2.7"/>
<path stroke="#f7b697" d="M477.4 81.7l4.8 2.7"/>
<path stroke="#fae7db" d="M483.0 84.9l4.2 -3.5"/>
<path stroke="#fce2d2" d="M488.2 84.8l4.3 -3.4M430.1 97.3l4.3 3.4"/>
<path stroke="#327cb7" d="M495.0 80.4l1.3 5.4M484.4 101.6l1.3 5.4"/>
<path stroke="#3682ba" d="M500.2 85.8l1.4 -5.3"/>
<path stroke="#fce1d2" d="M504.0 84.8l4.3 -3.4"/>
<path stroke="#f9eee7" d="M509.4 84.9l4.1 -3.7M493.6 100.8l4.1 -3.7"/>
<path stroke="#fbe7db" d="M514.6 84.9l4.2 -3.5"/>
<path stroke="#d65f4d" d="M519.4 82.3l5.2 1.7M466.6 94.5l5.2 -1.7"/>
<path stroke="#fddac6" d="M424.8 90.0l4.5 -3.2"/>
<path stroke="#10457e" d="M432.1 85.7l0.3 5.5"/>
<path stroke="#4594c4" d="M436.7 91.0l1.7 -5.2"/>
<path stroke="#9bcae1" d="M441.5 90.8l2.6 -4.8"/>
<path stroke="#f8f0eb" d="M446.1 90.3l4.0 -3.7M446.1 106.2l4.0 -3.7"/>
<path stroke="#6a011f" d="M450.6 88.4l5.5 -0.0"/>
<path stroke="#f09d7c" d="M456.2 89.6l4.9 -2.4M450.9 100.2l4.9 -2.4"/>
<path stroke="#e2edf3" d="M467.5 90.5l3.5 -4.2M456.9 101.1l3.5 -4.2"/>
<path stroke="#d7624f" d="M477.2 87.5l5.2 1.7"/>
<path stroke="#ec9273" d="M487.9 89.5l5.0 -2.3"/>
<path stroke="#74b2d4" d="M494.5 90.9l2.2 -5.0"/>
<path stroke="#63a7ce" d="M499.9 91.0l2.0 -5.1"/>
<path stroke="#d6e7f1" d="M509.8 86.2l3.3 4.4"/>
<path stroke="#f4a582" d="M514.3 89.6l4.9 -2.5"/>
<path stroke="#529cc8" d="M426.1 91.1l1.9 5.2"/>
<path stroke="#b4d6e8" d="M430.8 96.0l2.9 -4.7"/>
<path stroke="#d9e9f1" d="M435.9 95.9l3.4 -4.3"/>
<path stroke="#fae9df" d="M440.7 95.5l4.2 -3.6"/>
<path stroke="#e48066" d="M450.9 94.7l5.1 -2.1"/>
<path stroke="#f6b394" d="M456.3 95.0l4.8 -2.7"/>
<path stroke="#f9c5ab" d="M472.2 92.2l4.6 2.9"/>
<path stroke="#4795c4" d="M478.9 91.1l1.7 5.2"/>
<path stroke="#2f79b6" d="M484.5 91.0l1.2 5.4"/>
<path stroke="#ebf1f5" d="M488.5 95.7l3.7 -4.1"/>
<path stroke="#9fcbe2" d="M494.3 96.1l2.6 -4.8"/>
<path stroke="#fddac5" d="M498.7 92.1l4.5 3.2"/>
<path stroke="#960f27" d="M508.7 94.0l5.5 -0.5"/>
<path stroke="#073466" d="M427.0 96.3l0.1 5.5"/>
<path stroke="#f8bc9f" d="M461.6 100.4l4.7 -2.8"/>
<path stroke="#3783bb" d="M484.4 96.3l1.4 5.3"/>
<path stroke="#d45b4b" d="M498.3 98.2l5.2 1.6M503.6 114.1l5.2 1.6"/>
<path stroke="#cc4c44" d="M508.8 99.7l5.3 -1.5"/>
<path stroke="#f8c0a4" d="M514.4 100.4l4.7 -2.9"/>
<path stroke="#144d8a" d="M521.8 96.3l0.5 5.5"/>
<path stroke="#64a8ce" d="M426.0 101.7l2.0 5.1"/>
<path stroke="#f9efea" d="M430.2 106.2l4.1 -3.7M440.8 116.8l4.1 -3.7"/>
<path stroke="#d0e4f0" d="M435.9 106.5l3.2 -4.5"/>
<path stroke="#b72230" d="M440.1 103.8l5.4 1.0"/>
<path stroke="#ba2732" d="M456.0 103.8l5.4 1.0"/>
<path stroke="#e4eef4" d="M462.2 106.4l3.6 -4.2"/>
<path stroke="#6aacd0" d="M489.3 101.8l2.1 5.1"/>
<path stroke="#8ac0db" d="M494.4 106.8l2.4 -4.9"/>
<path stroke="#c7423f" d="M498.3 103.6l5.3 1.4"/>
<path stroke="#ee9677" d="M509.0 103.1l5.0 2.3"/>
<path stroke="#d0e5f0" d="M425.4 111.8l3.2 -4.5"/>
<path stroke="#f2f5f6" d="M435.6 107.6l3.8 4.0"/>
<path stroke="#fcd7c2" d="M440.6 108.0l4.5 3.2"/>
<path stroke="#770522" d="M445.4 109.5l5.5 0.2"/>
<path stroke="#8e0d25" d="M450.7 109.4l5.5 0.5"/>
<path stroke="#3884bc" d="M463.2 112.3l1.4 -5.3"/>
<path stroke="#5da4cc" d="M473.5 107.0l2.0 5.1"/>
<path stroke="#2b73b3" d="M484.5 106.9l1.1 5.4"/>
<path stroke="#3885bc" d="M494.9 106.9l1.4 5.3"/>
<path stroke="#800823" d="M498.2 109.5l5.5 0.3"/>
<path stroke="#eff3f6" d="M509.6 111.6l3.8 -4.0M514.9 111.6l3.8 -4.0M493.8 116.9l3.8 -4.0"/>
<path stroke="#bbdaea" d="M520.5 111.9l3.0 -4.6"/>
<path stroke="#b8d8e9" d="M425.5 117.2l2.9 -4.6"/>
<path stroke="#b5d7e8" d="M436.1 117.2l2.9 -4.7"/>
<path stroke="#b2d5e7" d="M446.7 112.6l2.9 4.7M494.2 117.9l2.9 4.7"/>
<path stroke="#fbe3d4" d="M451.2 116.6l4.3 -3.4"/>
<path stroke="#950f26" d="M455.9 115.2l5.5 -0.5"/>
<path stroke="#4292c2" d="M463.1 117.5l1.7 -5.2"/>
<path stroke="#ce4f45" d="M466.6 114.1l5.3 1.5"/>
<path stroke="#add3e6" d="M473.1 112.5l2.8 4.7"/>
<path stroke="#65a9cf" d="M484.1 112.3l2.1 5.1"/>
<path stroke="#8dc2dc" d="M520.8 117.4l2.4 -4.9"/>
<path stroke="#fcd3bc" d="M430.0 118.6l4.5 3.1"/>
<path stroke="#fbe5d9" d="M435.4 121.9l4.3 -3.5M519.9 121.9l4.3 -3.5"/>
<path stroke="#073365" d="M448.1 117.5l0.0 5.5"/>
<path stroke="#2c74b3" d="M468.7 117.5l1.1 5.4"/>
<path stroke="#a3cee3" d="M473.2 117.8l2.7 4.8"/>
<path stroke="#cae1ee" d="M478.2 117.9l3.2 4.5"/>
<path stroke="#2f79b5" d="M484.5 117.5l1.2 5.4"/>
<path stroke="#920e26" d="M498.2 120.0l5.5 0.5"/>
<path stroke="#f6b090" d="M503.8 118.9l4.8 2.6"/>
<path stroke="#5ba2cb" d="M515.8 122.8l1.9 -5.1"/>
</g></g>
<rect x="422.35" y="19.50" width="105.60" height="105.90" fill="none" stroke="#c4c4c4" stroke-width="1"/>
<path d="M442.84 19.50v1.5M442.84 125.40v-1.5M422.35 40.70h1.5M527.95 40.70h-1.5M469.24 19.50v1.5M469.24 125.40v-1.5M422.35 67.20h1.5M527.95 67.20h-1.5M495.64 19.50v1.5M495.64 125.40v-1.5M422.35 93.70h1.5M527.95 93.70h-1.5M522.04 19.50v1.5M522.04 125.40v-1.5M422.35 120.20h1.5M527.95 120.20h-1.5" stroke="#b0b0b0" stroke-width="0.7" fill="none"/>
<text x="442.84" y="134.90" font-size="8" text-anchor="middle" fill="#262626" color="#262626">5</text>
<text x="419.65" y="43.40" font-size="8" text-anchor="end" fill="#262626" color="#262626">5</text>
<text x="469.24" y="134.90" font-size="8" text-anchor="middle" fill="#262626" color="#262626">10</text>
<text x="419.65" y="69.90" font-size="8" text-anchor="end" fill="#262626" color="#262626">10</text>
<text x="495.64" y="134.90" font-size="8" text-anchor="middle" fill="#262626" color="#262626">15</text>
<text x="419.65" y="96.40" font-size="8" text-anchor="end" fill="#262626" color="#262626">15</text>
<text x="522.04" y="134.90" font-size="8" text-anchor="middle" fill="#262626" color="#262626">20</text>
<text x="419.65" y="122.90" font-size="8" text-anchor="end" fill="#262626" color="#262626">20</text>
<text x="475.15" y="145.70" font-size="8.6" text-anchor="middle" fill="#262626" color="#262626">X</text>
<text transform="translate(407.95 72.45) rotate(-90)" font-size="8.6" text-anchor="middle" fill="#262626" color="#262626">Y</text>
<text x="474.20" y="16.20" font-size="14.5" text-anchor="middle" fill="#000" color="#000">t=800</text>
<rect x="500.93" y="20.50" width="26.87" height="22" fill="#fff"/>
<text x="526.30" y="36.70" font-size="16.9" text-anchor="end" textLength="23.87" lengthAdjust="spacingAndGlyphs" fill="#000" color="#000">(IV)</text>
<rect x="485.90" y="62.00" width="27.30" height="21.80" rx="3.6" fill="none" stroke="#000" stroke-width="1.9"/>
<clipPath id="cp4"><rect x="553.30" y="19.50" width="105.60" height="105.90"/></clipPath>
<g clip-path="url(#cp4)"><g stroke-width="1.35" stroke-opacity="0.85" stroke-linecap="round">
<path stroke="#10447d" d="M557.8 27.5l0.3 -5.5"/>
<path stroke="#fbd1ba" d="M561.0 26.3l4.5 -3.1"/>
<path stroke="#b92631" d="M565.8 24.3l5.4 1.0M576.4 61.4l5.4 1.0"/>
<path stroke="#800823" d="M571.0 24.7l5.5 0.3M555.2 67.1l5.5 0.3M629.1 93.8l5.5 -0.3"/>
<path stroke="#d55e4c" d="M576.4 25.6l5.2 -1.7"/>
<path stroke="#b1d5e7" d="M582.9 27.1l2.9 -4.7"/>
<path stroke="#940e26" d="M586.9 24.5l5.5 0.5"/>
<path stroke="#900d26" d="M592.2 24.6l5.5 0.5"/>
<path stroke="#e8896d" d="M597.7 25.9l5.0 -2.2"/>
<path stroke="#d8e8f1" d="M603.8 27.0l3.4 -4.4"/>
<path stroke="#c2deec" d="M609.2 27.1l3.1 -4.6"/>
<path stroke="#96c7df" d="M614.8 27.2l2.5 -4.9M598.9 96.1l2.5 -4.9"/>
<path stroke="#99c9e0" d="M620.0 27.2l2.6 -4.9M556.7 117.3l2.6 -4.9"/>
<path stroke="#6aabd0" d="M625.5 27.3l2.1 -5.1"/>
<path stroke="#62a6ce" d="M630.9 27.4l2.0 -5.1"/>
<path stroke="#f9f0eb" d="M635.1 22.9l4.0 3.7"/>
<path stroke="#e9f1f5" d="M640.6 22.7l3.7 4.1"/>
<path stroke="#f5f6f7" d="M645.8 22.8l3.9 3.9"/>
<path stroke="#e7eff4" d="M651.2 22.7l3.6 4.1M635.3 90.5l3.6 -4.1"/>
<path stroke="#6fafd2" d="M556.9 27.6l2.1 5.1"/>
<path stroke="#266caf" d="M562.7 32.8l1.0 -5.4"/>
<path stroke="#ed9576" d="M566.0 28.9l5.0 2.3"/>
<path stroke="#870a24" d="M571.0 29.9l5.5 0.4M560.5 51.5l5.5 -0.4"/>
<path stroke="#f7b697" d="M576.7 31.5l4.8 -2.7"/>
<path stroke="#fddac6" d="M582.1 31.7l4.5 -3.2M555.7 111.2l4.5 -3.2"/>
<path stroke="#c0dceb" d="M588.1 32.4l3.0 -4.6M603.9 75.5l3.0 4.6"/>
<path stroke="#ebf1f5" d="M593.1 28.1l3.7 4.1M640.6 74.5l3.7 -4.1"/>
<path stroke="#f9c2a7" d="M597.8 28.7l4.7 2.9"/>
<path stroke="#920e26" d="M602.7 30.3l5.5 -0.5M586.9 35.6l5.5 -0.5M634.4 114.7l5.5 0.5"/>
<path stroke="#d05548" d="M608.1 29.3l5.3 1.6M639.8 52.1l5.3 -1.6"/>
<path stroke="#5ea4cc" d="M615.0 27.5l2.0 5.1M620.3 27.5l2.0 5.1"/>
<path stroke="#317cb7" d="M626.0 27.4l1.3 5.4M620.7 106.9l1.3 5.4"/>
<path stroke="#eb9173" d="M629.4 31.2l5.0 -2.3M592.4 89.5l5.0 -2.3"/>
<path stroke="#f7f7f7" d="M635.2 28.2l3.9 3.9M608.8 63.8l3.9 -3.9M624.6 63.8l3.9 -3.9M608.8 100.9l3.9 -3.9"/>
<path stroke="#fbe3d4" d="M640.3 28.4l4.3 3.4"/>
<path stroke="#f9ebe3" d="M645.6 28.3l4.1 3.6"/>
<path stroke="#faebe2" d="M650.9 28.3l4.1 3.6"/>
<path stroke="#4e9ac7" d="M557.0 32.8l1.8 5.2M599.3 122.8l1.8 -5.2"/>
<path stroke="#3985bc" d="M562.5 38.1l1.5 -5.3"/>
<path stroke="#f2a07e" d="M566.0 36.6l4.9 -2.4M592.4 81.9l4.9 2.4"/>
<path stroke="#e47f65" d="M571.2 34.4l5.1 2.1"/>
<path stroke="#6a0120" d="M576.3 35.4l5.5 0.0M629.1 72.5l5.5 -0.0"/>
<path stroke="#8c0c25" d="M581.6 35.6l5.5 -0.4M555.2 88.2l5.5 0.4"/>
<path stroke="#be3036" d="M592.2 36.0l5.4 -1.1"/>
<path stroke="#fbe4d6" d="M598.0 37.1l4.3 -3.5M613.9 42.4l4.3 -3.4"/>
<path stroke="#f09b7a" d="M603.0 34.2l5.0 2.4"/>
<path stroke="#f4a684" d="M608.3 34.1l4.9 2.5M624.1 47.3l4.9 -2.5M587.2 73.8l4.9 -2.5M566.1 84.4l4.9 -2.5"/>
<path stroke="#3986bc" d="M615.3 32.7l1.5 5.3"/>
<path stroke="#559fc9" d="M620.4 32.8l1.9 5.2M583.4 43.4l1.9 5.2"/>
<path stroke="#67aacf" d="M625.6 32.9l2.1 5.1"/>
<path stroke="#d3e6f0" d="M630.2 37.6l3.3 -4.4"/>
<path stroke="#fbe5d8" d="M635.0 37.1l4.3 -3.5M640.3 100.7l4.3 -3.5"/>
<path stroke="#f8f5f3" d="M640.5 33.5l3.9 3.8"/>
<path stroke="#f8f1ec" d="M645.7 33.5l4.0 3.8"/>
<path stroke="#f8f4f1" d="M651.0 33.5l4.0 3.8M571.8 111.5l4.0 -3.8"/>
<path stroke="#e98b6e" d="M555.4 41.8l5.0 -2.2"/>
<path stroke="#69abd0" d="M562.2 43.2l2.1 -5.1M593.9 96.2l2.1 -5.1"/>
<path stroke="#e8f0f4" d="M566.7 42.8l3.6 -4.1"/>
<path stroke="#960f27" d="M571.0 40.4l5.5 0.5"/>
<path stroke="#a6cfe4" d="M577.7 38.3l2.7 4.8M641.1 106.7l2.7 -4.8"/>
<path stroke="#f8f2ef" d="M582.4 38.8l4.0 3.8M619.3 106.2l4.0 -3.8"/>
<path stroke="#fcd6c0" d="M587.4 39.1l4.5 3.2M650.7 81.5l4.5 3.2"/>
<path stroke="#f4a785" d="M592.5 42.0l4.9 -2.5M640.0 92.4l4.9 2.5"/>
<path stroke="#f9c5ab" d="M597.9 42.2l4.6 -2.9M576.7 74.0l4.6 -2.9"/>
<path stroke="#f6f7f7" d="M603.5 42.7l3.9 -3.9"/>
<path stroke="#f5ad8c" d="M608.3 42.0l4.8 -2.6"/>
<path stroke="#4494c3" d="M620.5 38.1l1.7 5.2"/>
<path stroke="#f09d7c" d="M624.1 41.9l4.9 -2.4"/>
<path stroke="#f5ac8b" d="M629.4 42.0l4.8 -2.6"/>
<path stroke="#e4eef4" d="M635.4 42.8l3.6 -4.2"/>
<path stroke="#c6e0ed" d="M640.9 43.0l3.1 -4.5"/>
<path stroke="#f2f4f6" d="M645.8 42.7l3.8 -4.0"/>
<path stroke="#f2f5f6" d="M651.1 42.7l3.8 -4.0"/>
<path stroke="#5aa1cb" d="M557.0 48.6l1.9 -5.1"/>
<path stroke="#10457e" d="M563.1 43.3l0.3 5.5"/>
<path stroke="#3a88bd" d="M567.8 48.6l1.5 -5.3"/>
<path stroke="#2c75b3" d="M573.2 48.7l1.1 -5.4"/>
<path stroke="#4896c5" d="M578.2 43.4l1.8 5.2"/>
<path stroke="#ba2833" d="M586.9 45.5l5.4 1.0"/>
<path stroke="#930e26" d="M592.2 45.7l5.5 0.5"/>
<path stroke="#3d8bbf" d="M599.4 48.6l1.6 -5.3M588.8 122.8l1.6 -5.3"/>
<path stroke="#d4e7f1" d="M603.8 48.2l3.3 -4.4"/>
<path stroke="#93c6de" d="M609.5 48.4l2.5 -4.9M609.5 91.3l2.5 4.9"/>
<path stroke="#d5e7f1" d="M614.4 48.2l3.3 -4.4M577.4 54.4l3.3 4.4M598.5 90.6l3.3 -4.4"/>
<path stroke="#4b98c6" d="M620.4 43.4l1.8 5.2"/>
<path stroke="#d35a4a" d="M629.2 45.2l5.3 1.6M587.0 68.0l5.3 -1.6M581.7 78.6l5.3 -1.6M587.0 103.5l5.3 1.6"/>
<path stroke="#d15648" d="M634.5 46.8l5.3 -1.6M618.7 89.2l5.3 -1.6M650.4 89.2l5.3 -1.6"/>
<path stroke="#c43b3c" d="M639.8 45.4l5.4 1.3"/>
<path stroke="#d96853" d="M645.1 46.9l5.2 -1.8M645.1 61.0l5.2 1.8"/>
<path stroke="#fcd7c2" d="M650.7 47.6l4.5 -3.2"/>
<path stroke="#fbe2d3" d="M555.8 53.0l4.3 -3.4"/>
<path stroke="#e7866a" d="M566.0 52.4l5.1 -2.1"/>
<path stroke="#bd2e35" d="M571.1 51.9l5.4 -1.1"/>
<path stroke="#3f8ec0" d="M578.3 48.7l1.6 5.3"/>
<path stroke="#f6af8f" d="M581.9 52.6l4.8 -2.6M566.1 89.7l4.8 -2.6"/>
<path stroke="#d05447" d="M587.0 50.5l5.3 1.6M560.6 82.3l5.3 1.6"/>
<path stroke="#b82531" d="M592.2 51.8l5.4 -1.0"/>
<path stroke="#ee9677" d="M597.7 52.5l5.0 -2.3"/>
<path stroke="#b72230" d="M602.8 50.8l5.4 1.0M555.2 77.3l5.4 1.0M602.8 114.4l5.4 1.0"/>
<path stroke="#9ccae1" d="M609.4 53.7l2.6 -4.8M646.4 48.9l2.6 4.8M625.3 86.0l2.6 4.8M577.8 106.7l2.6 -4.8"/>
<path stroke="#f8f1ed" d="M614.0 53.2l4.0 -3.8M592.9 106.2l4.0 -3.8"/>
<path stroke="#5ca3cb" d="M620.3 48.7l2.0 5.1"/>
<path stroke="#f7b596" d="M624.2 49.9l4.8 2.7M640.0 116.3l4.8 -2.7"/>
<path stroke="#e88a6d" d="M629.3 52.4l5.0 -2.2"/>
<path stroke="#6a011f" d="M634.4 51.3l5.5 -0.0M645.0 77.8l5.5 0.0"/>
<path stroke="#960f26" d="M650.2 51.0l5.5 0.5"/>
<path stroke="#f6b191" d="M555.5 57.9l4.8 -2.7M555.5 73.8l4.8 -2.7M629.5 76.5l4.8 2.7"/>
<path stroke="#d7624f" d="M560.6 55.7l5.2 1.7"/>
<path stroke="#810823" d="M565.8 56.5l5.5 0.3"/>
<path stroke="#eff3f6" d="M571.9 54.6l3.8 4.0"/>
<path stroke="#fae7dc" d="M582.2 58.4l4.2 -3.5M629.8 63.7l4.2 -3.5"/>
<path stroke="#880a24" d="M586.9 56.8l5.5 -0.4"/>
<path stroke="#a7d0e4" d="M593.5 59.0l2.8 -4.8"/>
<path stroke="#fdd9c4" d="M598.0 58.2l4.5 -3.2"/>
<path stroke="#f6af8e" d="M603.1 55.3l4.8 2.6"/>
<path stroke="#95c6df" d="M609.5 59.0l2.5 -4.9"/>
<path stroke="#4393c3" d="M615.2 59.2l1.7 -5.2"/>
<path stroke="#bc2d35" d="M618.6 56.0l5.4 1.1"/>
<path stroke="#790622" d="M623.8 56.7l5.5 -0.2M586.9 77.7l5.5 0.2"/>
<path stroke="#fcd6c1" d="M629.6 58.2l4.5 -3.2"/>
<path stroke="#94c6df" d="M635.9 54.2l2.5 4.9"/>
<path stroke="#e48166" d="M639.9 55.6l5.1 2.1M645.2 84.1l5.1 -2.1"/>
<path stroke="#f4a481" d="M645.3 55.4l4.9 2.5M555.5 105.5l4.9 -2.5"/>
<path stroke="#820923" d="M650.2 56.4l5.5 0.3M629.1 67.4l5.5 -0.3M634.4 72.7l5.5 -0.3M576.3 115.1l5.5 -0.3M634.4 120.0l5.5 0.3"/>
<path stroke="#fac8af" d="M555.6 60.4l4.6 3.0M645.4 92.2l4.6 3.0"/>
<path stroke="#e8896c" d="M560.7 63.0l5.1 -2.2"/>
<path stroke="#fddbc7" d="M566.3 60.3l4.4 3.2"/>
<path stroke="#f7f6f6" d="M571.8 63.8l3.9 -3.9"/>
<path stroke="#730421" d="M581.6 61.8l5.5 0.1"/>
<path stroke="#ca4942" d="M587.0 61.2l5.3 1.4"/>
<path stroke="#f9ede5" d="M592.9 63.7l4.1 -3.7"/>
<path stroke="#c43c3c" d="M597.5 61.3l5.3 1.3"/>
<path stroke="#ef9979" d="M603.0 60.7l5.0 2.4"/>
<path stroke="#f8f3f0" d="M614.0 63.8l4.0 -3.8M598.2 74.4l4.0 -3.8"/>
<path stroke="#8ac0db" d="M620.1 64.4l2.4 -4.9"/>
<path stroke="#fbe5d9" d="M635.0 63.6l4.3 -3.5"/>
<path stroke="#d2e6f0" d="M640.8 59.7l3.3 4.4"/>
<path stroke="#d6614e" d="M650.4 61.0l5.2 1.7"/>
<path stroke="#970f27" d="M560.5 66.9l5.5 0.6"/>
<path stroke="#7b0622" d="M565.8 67.1l5.5 0.2M602.7 67.3l5.5 -0.2M565.8 93.6l5.5 0.2"/>
<path stroke="#7c0722" d="M571.0 67.1l5.5 0.2"/>
<path stroke="#bf3237" d="M576.4 66.6l5.4 1.2"/>
<path stroke="#8f0d25" d="M581.6 67.0l5.5 0.5"/>
<path stroke="#8b0b25" d="M592.2 67.0l5.5 0.4"/>
<path stroke="#760521" d="M597.4 67.1l5.5 0.2M608.0 67.1l5.5 0.2M618.6 77.7l5.5 0.2"/>
<path stroke="#bedbeb" d="M614.5 69.5l3.0 -4.6M567.0 74.8l3.0 -4.6"/>
<path stroke="#f9ece5" d="M619.2 69.0l4.1 -3.7"/>
<path stroke="#ed9676" d="M624.1 66.0l5.0 2.3"/>
<path stroke="#780522" d="M634.4 67.3l5.5 -0.2"/>
<path stroke="#fae9de" d="M640.3 69.0l4.2 -3.6M619.2 95.5l4.2 -3.6"/>
<path stroke="#991027" d="M645.0 66.9l5.5 0.6"/>
<path stroke="#f7b799" d="M650.6 65.8l4.8 2.7"/>
<path stroke="#fcd3bd" d="M561.0 74.1l4.5 -3.1"/>
<path stroke="#c2383a" d="M571.1 73.1l5.4 -1.2"/>
<path stroke="#ef9a7a" d="M581.9 71.3l5.0 2.4"/>
<path stroke="#f5ab8a" d="M592.5 71.2l4.9 2.6"/>
<path stroke="#c43d3c" d="M602.8 73.1l5.3 -1.3M560.6 77.2l5.3 1.3"/>
<path stroke="#c7423f" d="M608.1 73.2l5.3 -1.4"/>
<path stroke="#f8f2ee" d="M614.0 74.4l4.0 -3.8M603.5 100.9l4.0 -3.8"/>
<path stroke="#72b0d3" d="M620.2 75.0l2.2 -5.1"/>
<path stroke="#fbcdb5" d="M624.3 74.0l4.6 -3.1"/>
<path stroke="#f8c0a4" d="M645.4 71.1l4.7 2.9"/>
<path stroke="#f9c3a8" d="M650.7 74.0l4.7 -2.9"/>
<path stroke="#db6c56" d="M565.9 78.7l5.2 -1.8M597.6 76.9l5.2 1.8M581.8 110.5l5.2 -1.8"/>
<path stroke="#cb4a42" d="M571.1 77.1l5.3 1.4M634.5 77.1l5.3 1.4"/>
<path stroke="#b3d6e7" d="M577.6 80.1l2.9 -4.7"/>
<path stroke="#67001f" d="M592.2 77.8l5.5 -0.0"/>
<path stroke="#f7b99c" d="M608.4 76.4l4.7 2.8"/>
<path stroke="#f9efe9" d="M614.0 79.7l4.1 -3.7"/>
<path stroke="#519cc8" d="M625.7 75.2l1.8 5.2"/>
<path stroke="#eff3f5" d="M640.6 79.8l3.8 -4.0"/>
<path stroke="#be3137" d="M650.3 78.4l5.4 -1.2"/>
<path stroke="#840924" d="M555.2 83.3l5.5 -0.3M565.8 98.8l5.5 0.3M623.8 109.8l5.5 -0.3"/>
<path stroke="#6b0120" d="M571.0 83.1l5.5 0.0"/>
<path stroke="#ba2732" d="M576.4 82.6l5.4 1.0"/>
<path stroke="#981027" d="M581.6 83.4l5.5 -0.6M560.5 114.6l5.5 0.6"/>
<path stroke="#c33a3b" d="M587.0 83.7l5.4 -1.3"/>
<path stroke="#d7624e" d="M597.6 84.0l5.2 -1.7"/>
<path stroke="#fac9b0" d="M603.2 81.6l4.6 3.0M640.1 108.1l4.6 3.0"/>
<path stroke="#f4f6f6" d="M608.8 85.1l3.8 -3.9M640.5 85.1l3.8 -3.9"/>
<path stroke="#fbe3d5" d="M613.9 84.8l4.3 -3.4"/>
<path stroke="#8d0c25" d="M618.6 82.9l5.5 0.4"/>
<path stroke="#4796c5" d="M625.7 80.5l1.7 5.2"/>
<path stroke="#16518f" d="M631.6 80.4l0.5 5.5"/>
<path stroke="#e6eff4" d="M635.3 85.2l3.6 -4.2"/>
<path stroke="#faccb4" d="M560.9 89.9l4.6 -3.0M576.8 100.5l4.6 -3.0"/>
<path stroke="#f9eee7" d="M571.7 90.2l4.1 -3.7"/>
<path stroke="#f8bc9f" d="M576.7 89.8l4.7 -2.8"/>
<path stroke="#da6853" d="M581.7 89.3l5.2 -1.8"/>
<path stroke="#9ac9e0" d="M588.3 90.8l2.6 -4.9"/>
<path stroke="#f9c1a5" d="M603.1 87.0l4.7 2.9M597.8 100.4l4.7 -2.9"/>
<path stroke="#ea8e70" d="M608.2 87.3l5.0 2.2"/>
<path stroke="#d45d4b" d="M613.4 87.6l5.2 1.7"/>
<path stroke="#bad9e9" d="M630.4 86.1l3.0 4.6"/>
<path stroke="#f9c4aa" d="M640.1 86.9l4.7 2.9"/>
<path stroke="#910d26" d="M645.0 88.6l5.5 -0.5"/>
<path stroke="#f7b597" d="M555.6 95.1l4.8 -2.7"/>
<path stroke="#6d0220" d="M560.5 93.7l5.5 0.1"/>
<path stroke="#950f26" d="M571.0 93.4l5.5 0.5M560.5 120.5l5.5 -0.5"/>
<path stroke="#6c0220" d="M576.3 93.7l5.5 -0.1M597.4 109.6l5.5 0.1"/>
<path stroke="#f7f5f4" d="M582.4 95.6l3.9 -3.8"/>
<path stroke="#98c8e0" d="M588.3 96.1l2.6 -4.9"/>
<path stroke="#7e0723" d="M602.7 93.6l5.5 0.3"/>
<path stroke="#90c4dd" d="M614.8 96.2l2.5 -4.9"/>
<path stroke="#f1f4f6" d="M624.7 95.7l3.8 -4.0"/>
<path stroke="#3580ba" d="M636.5 91.0l1.4 5.3"/>
<path stroke="#6aacd0" d="M651.9 91.2l2.1 5.1"/>
<path stroke="#a1cce2" d="M556.6 101.4l2.7 -4.8"/>
<path stroke="#eb9072" d="M560.7 100.1l5.0 -2.3M566.0 108.5l5.0 2.3"/>
<path stroke="#e48066" d="M571.2 98.0l5.1 2.1"/>
<path stroke="#f4f5f6" d="M582.4 101.0l3.8 -3.9"/>
<path stroke="#f9efea" d="M587.6 100.9l4.1 -3.7"/>
<path stroke="#facab2" d="M592.6 100.5l4.6 -3.0"/>
<path stroke="#4190c2" d="M615.2 96.4l1.7 5.2"/>
<path stroke="#fac8ae" d="M619.0 100.5l4.6 -3.0"/>
<path stroke="#ea8f71" d="M624.1 100.1l5.0 -2.2"/>
<path stroke="#f9c2a8" d="M629.5 97.5l4.7 2.9"/>
<path stroke="#f4a886" d="M634.7 97.7l4.9 2.5"/>
<path stroke="#f6b091" d="M645.3 97.7l4.8 2.7"/>
<path stroke="#3884bc" d="M652.3 96.3l1.4 5.3"/>
<path stroke="#c6413e" d="M560.6 103.6l5.3 1.3"/>
<path stroke="#e58368" d="M566.0 103.2l5.1 2.1"/>
<path stroke="#fcd4bf" d="M571.5 102.7l4.5 3.1"/>
<path stroke="#740421" d="M581.6 104.2l5.5 0.1"/>
<path stroke="#f8bb9e" d="M597.8 105.7l4.7 -2.8M634.8 102.9l4.7 2.8"/>
<path stroke="#f7f6f5" d="M603.5 106.2l3.9 -3.9"/>
<path stroke="#fdd9c5" d="M608.5 105.9l4.5 -3.2"/>
<path stroke="#2a71b2" d="M615.5 101.6l1.1 5.4"/>
<path stroke="#7f0823" d="M623.8 104.2l5.5 0.3M576.3 109.7l5.5 -0.3M597.4 115.0l5.5 -0.3M592.2 120.3l5.5 -0.3"/>
<path stroke="#be2f36" d="M629.2 103.7l5.4 1.1"/>
<path stroke="#f8f4f2" d="M645.7 106.2l4.0 -3.8"/>
<path stroke="#65a9cf" d="M652.0 101.7l2.1 5.1"/>
<path stroke="#f9eee8" d="M561.2 107.8l4.1 3.7"/>
<path stroke="#eef3f5" d="M587.8 111.6l3.7 -4.0"/>
<path stroke="#2f79b5" d="M594.3 112.3l1.2 -5.4"/>
<path stroke="#fae9e0" d="M603.4 111.4l4.2 -3.6M603.4 122.0l4.2 -3.6"/>
<path stroke="#710321" d="M608.0 109.7l5.5 -0.1"/>
<path stroke="#d4e6f0" d="M614.4 107.4l3.3 4.4"/>
<path stroke="#890b24" d="M629.1 109.8l5.5 -0.4"/>
<path stroke="#ba2933" d="M634.4 109.1l5.4 1.1"/>
<path stroke="#ecf2f5" d="M645.9 111.6l3.7 -4.1"/>
<path stroke="#3a87bd" d="M652.3 107.0l1.5 5.3"/>
<path stroke="#59a1ca" d="M567.5 112.3l1.9 5.2"/>
<path stroke="#d9e9f1" d="M572.1 112.7l3.4 4.3"/>
<path stroke="#f8bfa3" d="M582.0 113.5l4.7 2.9"/>
<path stroke="#c2373a" d="M586.9 115.5l5.4 -1.2"/>
<path stroke="#0d4077" d="M594.8 117.6l0.2 -5.5"/>
<path stroke="#facab1" d="M608.4 116.4l4.6 -3.0"/>
<path stroke="#286fb1" d="M615.5 112.2l1.0 5.4"/>
<path stroke="#6e0220" d="M618.6 114.9l5.5 -0.1"/>
<path stroke="#64a8ce" d="M625.6 112.3l2.0 5.1"/>
<path stroke="#e9f0f4" d="M630.0 117.0l3.7 -4.1"/>
<path stroke="#a1cde2" d="M646.4 117.3l2.7 -4.8"/>
<path stroke="#3d8cbf" d="M652.2 117.5l1.6 -5.3"/>
<path stroke="#a8d0e4" d="M556.6 122.6l2.8 -4.8"/>
<path stroke="#529cc8" d="M567.6 122.8l1.9 -5.2"/>
<path stroke="#bbdaea" d="M572.3 117.9l3.0 4.6"/>
<path stroke="#edf2f5" d="M577.2 122.2l3.7 -4.0"/>
<path stroke="#3783bb" d="M583.6 122.9l1.4 -5.3"/>
<path stroke="#a9d1e5" d="M609.4 117.8l2.8 4.7"/>
<path stroke="#faebe3" d="M614.0 122.0l4.1 -3.6"/>
<path stroke="#f0f4f6" d="M619.4 122.2l3.8 -4.0"/>
<path stroke="#d96752" d="M624.0 119.3l5.2 1.8"/>
<path stroke="#e7876b" d="M629.3 121.3l5.1 -2.2"/>
<path stroke="#c6dfed" d="M640.9 122.5l3.1 -4.5"/>
<path stroke="#fce1d2" d="M645.5 121.9l4.3 -3.4"/>
<path stroke="#2870b1" d="M652.5 117.5l1.0 5.4"/>
</g></g>
<rect x="553.30" y="19.50" width="105.60" height="105.90" fill="none" stroke="#c4c4c4" stroke-width="1"/>
<path d="M573.79 19.50v1.5M573.79 125.40v-1.5M553.30 40.70h1.5M658.90 40.70h-1.5M600.19 19.50v1.5M600.19 125.40v-1.5M553.30 67.20h1.5M658.90 67.20h-1.5M626.59 19.50v1.5M626.59 125.40v-1.5M553.30 93.70h1.5M658.90 93.70h-1.5M652.99 19.50v1.5M652.99 125.40v-1.5M553.30 120.20h1.5M658.90 120.20h-1.5" stroke="#b0b0b0" stroke-width="0.7" fill="none"/>
<text x="573.79" y="134.90" font-size="8" text-anchor="middle" fill="#262626" color="#262626">5</text>
<text x="550.60" y="43.40" font-size="8" text-anchor="end" fill="#262626" color="#262626">5</text>
<text x="600.19" y="134.90" font-size="8" text-anchor="middle" fill="#262626" color="#262626">10</text>
<text x="550.60" y="69.90" font-size="8" text-anchor="end" fill="#262626" color="#262626">10</text>
<text x="626.59" y="134.90" font-size="8" text-anchor="middle" fill="#262626" color="#262626">15</text>
<text x="550.60" y="96.40" font-size="8" text-anchor="end" fill="#262626" color="#262626">15</text>
<text x="652.99" y="134.90" font-size="8" text-anchor="middle" fill="#262626" color="#262626">20</text>
<text x="550.60" y="122.90" font-size="8" text-anchor="end" fill="#262626" color="#262626">20</text>
<text x="606.10" y="145.70" font-size="8.6" text-anchor="middle" fill="#262626" color="#262626">X</text>
<text transform="translate(538.90 72.45) rotate(-90)" font-size="8.6" text-anchor="middle" fill="#262626" color="#262626">Y</text>
<text x="610.60" y="16.20" font-size="14.5" text-anchor="middle" fill="#000" color="#000">t=1000</text>
<rect x="634.41" y="20.50" width="23.00" height="22" fill="#fff"/>
<text x="655.91" y="36.70" font-size="16.9" text-anchor="end" textLength="20.00" lengthAdjust="spacingAndGlyphs" fill="#000" color="#000">(V)</text>
<rect x="617.00" y="62.00" width="27.20" height="21.20" rx="3.6" fill="none" stroke="#000" stroke-width="1.9"/>
<clipPath id="cp9"><rect x="29.50" y="165.40" width="105.60" height="105.90"/></clipPath>
<g clip-path="url(#cp9)"><g stroke-width="1.35" stroke-opacity="0.85" stroke-linecap="round">
<path stroke="#8ec2dc" d="M32.9 173.2l2.5 -4.9"/>
<path stroke="#be3036" d="M36.7 170.1l5.4 1.1"/>
<path stroke="#f9efe9" d="M42.7 168.8l4.1 3.7"/>
<path stroke="#f9eee8" d="M47.9 168.9l4.1 3.7"/>
<path stroke="#ea8e70" d="M52.8 171.8l5.0 -2.2M79.2 169.6l5.0 2.2M31.6 203.6l5.0 -2.2"/>
<path stroke="#8ec3dd" d="M59.3 173.2l2.5 -4.9M106.8 178.5l2.5 -4.9"/>
<path stroke="#a7d0e4" d="M64.5 168.3l2.8 4.8M90.9 236.7l2.8 -4.8"/>
<path stroke="#bc2b34" d="M68.4 171.2l5.4 -1.1"/>
<path stroke="#4594c4" d="M75.5 168.1l1.7 5.2"/>
<path stroke="#93c6de" d="M85.7 168.3l2.5 4.9M69.8 178.4l2.5 -4.9"/>
<path stroke="#dc6d57" d="M89.6 169.8l5.2 1.9"/>
<path stroke="#266db0" d="M97.0 173.4l1.0 -5.4"/>
<path stroke="#92c5de" d="M101.5 173.2l2.5 -4.9"/>
<path stroke="#3d8bbf" d="M107.3 173.3l1.6 -5.3"/>
<path stroke="#f8f1ed" d="M111.3 168.8l4.0 3.8"/>
<path stroke="#f2f5f6" d="M116.7 168.7l3.8 4.0M116.7 179.3l3.8 4.0"/>
<path stroke="#fbe4d7" d="M121.8 169.0l4.3 3.5M121.8 179.6l4.3 3.5M116.5 257.2l4.3 -3.5"/>
<path stroke="#f2f4f6" d="M127.3 168.7l3.8 4.0"/>
<path stroke="#3986bc" d="M33.4 173.3l1.5 5.3"/>
<path stroke="#960f26" d="M36.7 175.7l5.5 0.5M52.5 181.0l5.5 0.5"/>
<path stroke="#f5aa88" d="M42.3 177.3l4.9 -2.6M100.4 187.9l4.9 -2.6"/>
<path stroke="#f6b090" d="M47.6 174.7l4.8 2.6M74.0 209.1l4.8 -2.6"/>
<path stroke="#6b0120" d="M52.5 176.0l5.5 -0.0M42.0 207.8l5.5 0.0"/>
<path stroke="#e58267" d="M58.0 177.0l5.1 -2.1"/>
<path stroke="#e5eef4" d="M64.0 178.1l3.6 -4.2"/>
<path stroke="#e7886c" d="M73.9 177.1l5.1 -2.2M89.7 224.8l5.1 -2.2"/>
<path stroke="#e7eff4" d="M79.9 178.1l3.6 -4.1M64.0 257.6l3.6 -4.1M90.4 268.2l3.6 -4.1"/>
<path stroke="#740421" d="M84.2 175.9l5.5 0.1M68.4 186.7l5.5 -0.2M73.6 255.6l5.5 -0.2M100.0 255.4l5.5 0.1"/>
<path stroke="#f9c2a7" d="M89.9 177.4l4.7 -2.9"/>
<path stroke="#8fc3dd" d="M96.3 178.5l2.5 -4.9M43.5 200.0l2.5 4.9"/>
<path stroke="#8cc1dc" d="M101.6 178.5l2.4 -4.9M69.9 215.6l2.4 -4.9M96.3 268.6l2.4 -4.9"/>
<path stroke="#e6eff4" d="M111.5 173.9l3.6 4.2M74.6 262.9l3.6 -4.2"/>
<path stroke="#e9f0f4" d="M116.8 173.9l3.7 4.1M79.8 204.6l3.7 -4.1"/>
<path stroke="#e5eff4" d="M122.1 173.9l3.6 4.2"/>
<path stroke="#fce2d3" d="M127.0 174.3l4.3 3.4"/>
<path stroke="#f8f4f1" d="M32.2 183.2l4.0 -3.8"/>
<path stroke="#f7b99b" d="M37.1 182.7l4.7 -2.8"/>
<path stroke="#f9c1a5" d="M42.4 182.7l4.7 -2.9M89.9 214.5l4.7 -2.9"/>
<path stroke="#860a24" d="M47.2 181.5l5.5 -0.4M42.0 192.1l5.5 -0.4M110.6 255.3l5.5 0.4M52.5 260.6l5.5 0.4"/>
<path stroke="#8d0c25" d="M57.8 181.1l5.5 0.4M73.6 218.6l5.5 -0.4"/>
<path stroke="#fcd7c2" d="M63.6 182.9l4.5 -3.2M47.7 257.1l4.5 -3.2M58.3 262.4l4.5 -3.2"/>
<path stroke="#69011f" d="M68.4 181.3l5.5 0.0"/>
<path stroke="#760521" d="M73.6 181.4l5.5 -0.2"/>
<path stroke="#960f27" d="M78.9 181.0l5.5 0.5M52.5 234.6l5.5 -0.5M63.1 239.9l5.5 -0.5"/>
<path stroke="#bcdaea" d="M85.4 183.6l3.0 -4.6"/>
<path stroke="#ea8f71" d="M89.7 182.4l5.0 -2.2M95.0 208.9l5.0 -2.2"/>
<path stroke="#d0e4f0" d="M95.9 183.5l3.2 -4.5"/>
<path stroke="#acd2e5" d="M101.4 183.7l2.8 -4.7"/>
<path stroke="#98c8e0" d="M106.8 183.7l2.6 -4.9"/>
<path stroke="#eef3f5" d="M111.5 179.3l3.7 4.0M69.2 252.2l3.7 -4.0"/>
<path stroke="#f9efea" d="M127.2 179.4l4.1 3.7"/>
<path stroke="#db6c56" d="M31.6 187.5l5.2 -1.8M36.8 206.9l5.2 1.8M42.1 229.9l5.2 -1.8M52.7 245.8l5.2 -1.8M63.2 245.8l5.2 -1.8"/>
<path stroke="#bf3237" d="M36.7 187.2l5.4 -1.2M36.7 217.8l5.4 1.2M68.4 240.2l5.4 -1.2M89.5 260.2l5.4 1.2"/>
<path stroke="#7b0622" d="M42.0 186.5l5.5 0.2M47.2 186.7l5.5 -0.2M42.0 223.8l5.5 -0.2M47.2 239.7l5.5 -0.2"/>
<path stroke="#720321" d="M52.5 186.7l5.5 -0.1M100.0 192.0l5.5 -0.1M47.2 250.1l5.5 0.1"/>
<path stroke="#b6212f" d="M57.8 187.1l5.4 -1.0"/>
<path stroke="#d55e4c" d="M63.2 185.8l5.2 1.7M47.4 198.0l5.2 -1.7M121.3 233.5l5.2 1.7"/>
<path stroke="#820923" d="M73.6 186.8l5.5 -0.3M105.3 191.7l5.5 0.3M110.6 208.0l5.5 -0.3M73.6 250.4l5.5 -0.3M68.4 255.3l5.5 0.3"/>
<path stroke="#cb4a42" d="M79.0 187.3l5.3 -1.4"/>
<path stroke="#f4a481" d="M84.5 187.8l4.9 -2.5"/>
<path stroke="#f4f5f6" d="M90.3 188.6l3.8 -3.9"/>
<path stroke="#fcd5bf" d="M95.3 188.2l4.5 -3.2M126.9 198.8l4.5 -3.2"/>
<path stroke="#fae9de" d="M106.0 188.4l4.2 -3.6"/>
<path stroke="#fae9df" d="M111.3 188.4l4.2 -3.6"/>
<path stroke="#b9d9e9" d="M117.1 184.3l3.0 4.6M85.5 226.7l3.0 4.6"/>
<path stroke="#faeae0" d="M121.8 188.4l4.2 -3.6"/>
<path stroke="#fcd4bf" d="M126.9 188.2l4.5 -3.1"/>
<path stroke="#bd2e36" d="M31.5 191.3l5.4 1.1"/>
<path stroke="#f8c0a4" d="M37.1 193.3l4.7 -2.9"/>
<path stroke="#f7f7f6" d="M48.0 193.8l3.9 -3.9"/>
<path stroke="#68001f" d="M52.5 191.9l5.5 -0.0M47.2 207.8l5.5 -0.0M63.1 213.1l5.5 -0.0"/>
<path stroke="#730421" d="M57.8 192.0l5.5 -0.1M115.9 197.3l5.5 -0.1M78.9 218.5l5.5 -0.1M94.8 239.5l5.5 0.1M110.6 245.0l5.5 -0.1"/>
<path stroke="#ca4942" d="M63.2 192.6l5.3 -1.4M63.2 219.1l5.3 -1.4"/>
<path stroke="#8c0c25" d="M68.4 191.7l5.5 0.4M68.4 202.7l5.5 -0.4M47.2 261.0l5.5 -0.4M105.3 260.6l5.5 0.4"/>
<path stroke="#880b24" d="M73.6 191.7l5.5 0.4M94.8 228.8l5.5 0.4"/>
<path stroke="#cc4b43" d="M79.0 191.2l5.3 1.5"/>
<path stroke="#b92632" d="M84.2 191.4l5.4 1.0"/>
<path stroke="#d45d4b" d="M89.6 191.1l5.2 1.7"/>
<path stroke="#ef9979" d="M95.0 193.1l5.0 -2.4M58.1 254.3l5.0 2.4"/>
<path stroke="#f4a684" d="M110.9 193.2l4.9 -2.5"/>
<path stroke="#f4a582" d="M116.2 193.1l4.9 -2.5"/>
<path stroke="#da6853" d="M121.3 191.0l5.2 1.8"/>
<path stroke="#fddac6" d="M127.0 193.5l4.5 -3.2M84.7 246.5l4.5 -3.2"/>
<path stroke="#f4a785" d="M31.7 198.5l4.9 -2.5"/>
<path stroke="#ea8d70" d="M36.9 198.3l5.0 -2.2"/>
<path stroke="#d65f4d" d="M42.1 196.4l5.2 1.7"/>
<path stroke="#780522" d="M52.5 197.1l5.5 0.2M84.2 260.7l5.5 0.2"/>
<path stroke="#f4a784" d="M58.1 195.9l4.9 2.5M84.5 267.4l4.9 -2.5"/>
<path stroke="#f9ece4" d="M63.8 199.0l4.1 -3.6"/>
<path stroke="#850a24" d="M68.4 197.0l5.5 0.3"/>
<path stroke="#7f0823" d="M73.6 197.1l5.5 0.3M47.2 229.1l5.5 -0.3"/>
<path stroke="#6a011f" d="M78.9 197.2l5.5 0.0M42.0 244.9l5.5 0.0"/>
<path stroke="#7a0622" d="M84.2 197.1l5.5 0.2"/>
<path stroke="#c7423f" d="M89.6 196.5l5.3 1.3M116.0 212.4l5.3 1.4M31.5 229.7l5.3 -1.4"/>
<path stroke="#64a8ce" d="M96.5 194.6l2.0 5.1"/>
<path stroke="#d6e7f1" d="M101.1 195.0l3.3 4.4"/>
<path stroke="#eb9072" d="M105.6 198.3l5.0 -2.3M58.0 219.5l5.0 -2.3M84.4 217.3l5.0 2.3"/>
<path stroke="#ca4741" d="M110.7 196.5l5.3 1.4"/>
<path stroke="#c43b3c" d="M121.2 196.6l5.4 1.3"/>
<path stroke="#d2594a" d="M36.8 201.7l5.3 1.6M31.5 238.8l5.3 1.6"/>
<path stroke="#be2f36" d="M47.3 203.1l5.4 -1.1"/>
<path stroke="#6e0220" d="M52.5 202.5l5.5 0.1"/>
<path stroke="#930e26" d="M57.8 202.8l5.5 -0.5M110.6 213.4l5.5 -0.5M84.2 239.9l5.5 -0.5"/>
<path stroke="#f4a683" d="M63.4 201.2l4.9 2.5"/>
<path stroke="#fae7db" d="M74.3 204.3l4.2 -3.5"/>
<path stroke="#981027" d="M84.2 202.8l5.5 -0.6M52.5 207.5l5.5 0.6M68.4 218.7l5.5 -0.6M68.4 261.1l5.5 -0.6"/>
<path stroke="#890b24" d="M89.5 202.3l5.5 0.4M105.3 218.6l5.5 -0.4M36.7 223.9l5.5 -0.4M68.4 234.5l5.5 -0.4"/>
<path stroke="#529cc8" d="M96.6 199.9l1.9 5.2"/>
<path stroke="#61a6cd" d="M101.8 199.9l2.0 5.1"/>
<path stroke="#e98c6f" d="M105.5 203.6l5.0 -2.2"/>
<path stroke="#f6b394" d="M111.0 203.8l4.8 -2.7M31.8 206.5l4.8 2.7"/>
<path stroke="#f7b596" d="M116.2 201.1l4.8 2.7"/>
<path stroke="#f7b698" d="M121.5 201.1l4.8 2.7M84.6 211.7l4.8 2.7"/>
<path stroke="#fac7ae" d="M126.9 201.0l4.6 3.0"/>
<path stroke="#6f0320" d="M57.8 207.8l5.5 -0.1M121.2 207.8l5.5 0.1M105.3 213.1l5.5 0.1"/>
<path stroke="#d05347" d="M63.2 207.0l5.3 1.6"/>
<path stroke="#ba2833" d="M68.4 208.3l5.4 -1.0M31.4 244.4l5.4 1.0"/>
<path stroke="#940e26" d="M78.9 208.1l5.5 -0.5"/>
<path stroke="#780622" d="M84.2 207.9l5.5 -0.2"/>
<path stroke="#7e0723" d="M89.5 207.7l5.5 0.3M100.0 207.7l5.5 0.3M110.6 239.5l5.5 0.3M100.0 244.8l5.5 0.3"/>
<path stroke="#7d0722" d="M105.3 207.9l5.5 -0.2"/>
<path stroke="#bc2d35" d="M115.9 207.2l5.4 1.1"/>
<path stroke="#fcd8c3" d="M126.9 206.2l4.5 3.2M42.5 211.5l4.5 3.2"/>
<path stroke="#fbe2d3" d="M32.0 211.4l4.3 3.4"/>
<path stroke="#f5aa89" d="M37.0 214.4l4.9 -2.6"/>
<path stroke="#f8bb9e" d="M47.6 214.5l4.7 -2.8"/>
<path stroke="#6a0120" d="M52.5 213.1l5.5 0.0M68.4 223.7l5.5 0.0"/>
<path stroke="#fae8dd" d="M58.4 214.9l4.2 -3.6"/>
<path stroke="#f9eee7" d="M74.3 214.9l4.1 -3.7"/>
<path stroke="#fbceb7" d="M79.4 211.6l4.6 3.1"/>
<path stroke="#cae1ee" d="M95.9 215.4l3.2 -4.5"/>
<path stroke="#f9c5ab" d="M100.5 214.6l4.6 -2.9"/>
<path stroke="#840924" d="M121.2 213.3l5.5 -0.3M78.9 250.4l5.5 -0.3M110.6 250.4l5.5 -0.3"/>
<path stroke="#f3a380" d="M126.7 211.9l4.9 2.5"/>
<path stroke="#fcd4be" d="M31.9 216.8l4.5 3.1"/>
<path stroke="#db6b55" d="M42.1 219.3l5.2 -1.8"/>
<path stroke="#d86450" d="M47.4 217.5l5.2 1.7"/>
<path stroke="#fbd1ba" d="M53.0 216.9l4.5 3.1"/>
<path stroke="#e4eef4" d="M90.4 220.5l3.6 -4.2M127.4 247.0l3.6 -4.2"/>
<path stroke="#c7e0ed" d="M95.9 220.7l3.1 -4.5"/>
<path stroke="#d4e7f1" d="M101.1 220.6l3.3 -4.4"/>
<path stroke="#c94641" d="M110.7 217.7l5.3 1.4"/>
<path stroke="#fbe5d9" d="M116.5 220.1l4.3 -3.5"/>
<path stroke="#d45c4b" d="M121.3 217.6l5.2 1.7"/>
<path stroke="#facab2" d="M126.9 219.9l4.6 -3.0M95.2 225.2l4.6 -3.0M121.6 227.5l4.6 3.0"/>
<path stroke="#d05447" d="M31.5 222.9l5.3 1.6M73.7 228.2l5.3 1.6"/>
<path stroke="#830924" d="M47.2 223.9l5.5 -0.3"/>
<path stroke="#b82531" d="M52.6 224.2l5.4 -1.0"/>
<path stroke="#f9ede6" d="M58.5 225.5l4.1 -3.7M58.5 230.8l4.1 -3.7"/>
<path stroke="#f4f6f6" d="M63.9 225.7l3.8 -3.9M63.9 236.3l3.8 -3.9M79.7 236.3l3.8 -3.9"/>
<path stroke="#e4eef3" d="M74.6 221.6l3.6 4.2"/>
<path stroke="#f09d7c" d="M79.2 222.5l4.9 2.4"/>
<path stroke="#f5ac8b" d="M84.5 222.4l4.8 2.6"/>
<path stroke="#5ba2cb" d="M101.8 221.1l1.9 5.1"/>
<path stroke="#2e77b5" d="M107.5 221.0l1.2 5.4"/>
<path stroke="#2f79b6" d="M112.7 221.0l1.2 5.4M107.5 226.3l1.2 5.4"/>
<path stroke="#faebe2" d="M116.6 225.5l4.1 -3.6"/>
<path stroke="#d96853" d="M121.3 222.8l5.2 1.8"/>
<path stroke="#f6b292" d="M126.8 225.0l4.8 -2.7"/>
<path stroke="#cc4d44" d="M36.8 228.3l5.3 1.5"/>
<path stroke="#bc2c34" d="M52.6 228.5l5.4 1.1"/>
<path stroke="#f3f5f6" d="M63.9 231.0l3.8 -4.0"/>
<path stroke="#800823" d="M68.4 228.9l5.5 0.3"/>
<path stroke="#a5cfe3" d="M80.3 226.6l2.7 4.8"/>
<path stroke="#f9ece5" d="M90.2 230.8l4.1 -3.7"/>
<path stroke="#a6cfe4" d="M101.4 226.6l2.7 4.8M112.0 263.7l2.7 4.8"/>
<path stroke="#f1f4f6" d="M111.5 231.0l3.8 -4.0M74.5 241.6l3.8 -4.0"/>
<path stroke="#ecf2f5" d="M116.8 231.0l3.7 -4.1M122.1 252.2l3.7 -4.1M116.8 262.8l3.7 -4.1"/>
<path stroke="#ec9273" d="M126.7 227.9l5.0 2.3"/>
<path stroke="#facbb3" d="M31.9 235.8l4.6 -3.0"/>
<path stroke="#f19f7d" d="M37.0 235.5l4.9 -2.4"/>
<path stroke="#c03338" d="M42.0 234.9l5.4 -1.2"/>
<path stroke="#950f26" d="M47.2 234.0l5.5 0.5"/>
<path stroke="#f6af8e" d="M58.1 235.6l4.8 -2.6"/>
<path stroke="#da6a55" d="M73.8 235.2l5.2 -1.8"/>
<path stroke="#e6866a" d="M84.4 235.4l5.1 -2.1M36.9 256.6l5.1 -2.1"/>
<path stroke="#d4e6f1" d="M95.9 232.1l3.3 4.4"/>
<path stroke="#dc6e58" d="M100.2 233.4l5.2 1.9"/>
<path stroke="#fbd0b9" d="M105.8 232.8l4.5 3.1"/>
<path stroke="#770522" d="M110.6 234.2l5.5 0.2M42.0 266.0l5.5 0.2"/>
<path stroke="#f8ba9d" d="M116.3 232.9l4.7 2.8"/>
<path stroke="#f09b7a" d="M126.7 233.1l5.0 2.4"/>
<path stroke="#880a24" d="M36.7 239.4l5.5 0.4"/>
<path stroke="#f5ac8a" d="M42.3 240.9l4.9 -2.6"/>
<path stroke="#8e0d25" d="M52.5 239.4l5.5 0.5M52.5 250.0l5.5 0.5"/>
<path stroke="#f7f6f6" d="M58.6 241.5l3.9 -3.9M122.0 257.4l3.9 -3.9"/>
<path stroke="#d7e8f1" d="M80.0 241.8l3.3 -4.4"/>
<path stroke="#d6604d" d="M89.6 238.8l5.2 1.7"/>
<path stroke="#f9c1a6" d="M100.4 238.2l4.7 2.9"/>
<path stroke="#810823" d="M105.3 239.7l5.5 -0.3M100.0 260.9l5.5 -0.3"/>
<path stroke="#b72230" d="M115.9 239.1l5.4 1.0"/>
<path stroke="#57a0ca" d="M123.0 237.0l1.9 5.2"/>
<path stroke="#fac8ae" d="M126.9 241.1l4.6 -3.0"/>
<path stroke="#c33a3b" d="M36.8 244.3l5.4 1.3"/>
<path stroke="#f19e7d" d="M47.5 243.7l4.9 2.4M31.7 251.4l4.9 -2.4"/>
<path stroke="#cf5246" d="M57.9 244.1l5.3 1.5M94.9 249.4l5.3 1.5"/>
<path stroke="#9ecbe1" d="M69.8 247.3l2.6 -4.8"/>
<path stroke="#114882" d="M76.2 247.6l0.4 -5.5"/>
<path stroke="#ed9676" d="M79.2 246.1l5.0 -2.3"/>
<path stroke="#b92631" d="M89.5 244.4l5.4 1.0"/>
<path stroke="#6c0220" d="M94.8 244.9l5.5 0.1"/>
<path stroke="#750521" d="M105.3 245.0l5.5 -0.2"/>
<path stroke="#4795c4" d="M117.8 247.5l1.7 -5.2"/>
<path stroke="#4e9ac7" d="M123.0 242.3l1.8 5.2"/>
<path stroke="#d86551" d="M36.8 249.3l5.2 1.8M79.1 254.6l5.2 1.8"/>
<path stroke="#920e26" d="M42.0 250.4l5.5 -0.5M63.1 261.0l5.5 -0.5"/>
<path stroke="#d3e6f0" d="M58.9 248.0l3.3 4.4"/>
<path stroke="#10447d" d="M65.7 252.9l0.3 -5.5"/>
<path stroke="#991027" d="M84.2 249.9l5.5 0.6"/>
<path stroke="#700320" d="M89.5 250.1l5.5 0.1M100.0 250.3l5.5 -0.1"/>
<path stroke="#fac9b0" d="M105.8 248.7l4.6 3.0M95.2 254.0l4.6 3.0"/>
<path stroke="#c9e1ee" d="M117.1 252.5l3.1 -4.5M111.8 263.1l3.1 -4.5"/>
<path stroke="#72b1d3" d="M128.1 247.7l2.2 5.0"/>
<path stroke="#d6e8f1" d="M32.5 257.7l3.3 -4.4"/>
<path stroke="#fdd9c5" d="M42.5 253.9l4.5 3.2"/>
<path stroke="#ec9374" d="M52.8 254.4l5.0 2.3"/>
<path stroke="#dd6f59" d="M84.4 254.6l5.2 1.9"/>
<path stroke="#f6b191" d="M89.8 256.8l4.8 -2.7"/>
<path stroke="#d15648" d="M105.4 254.7l5.3 1.6"/>
<path stroke="#5aa1cb" d="M128.2 252.9l1.9 5.1"/>
<path stroke="#afd4e6" d="M32.7 263.2l2.8 -4.7"/>
<path stroke="#c6403e" d="M36.8 261.5l5.3 -1.3"/>
<path stroke="#f9f0ea" d="M42.7 262.7l4.0 -3.7"/>
<path stroke="#a9d1e5" d="M80.3 258.4l2.8 4.7"/>
<path stroke="#96c7df" d="M96.2 263.2l2.5 -4.9"/>
<path stroke="#8a0b25" d="M121.2 261.0l5.5 -0.4"/>
<path stroke="#cee3ef" d="M127.6 258.6l3.2 4.5"/>
<path stroke="#0b3c72" d="M34.1 263.4l0.2 5.5"/>
<path stroke="#c84440" d="M36.8 266.8l5.3 -1.4"/>
<path stroke="#c6413e" d="M47.3 265.4l5.3 1.3"/>
<path stroke="#f2a07e" d="M52.8 267.3l4.9 -2.4"/>
<path stroke="#edf2f5" d="M58.7 268.1l3.7 -4.0"/>
<path stroke="#4191c2" d="M65.0 263.5l1.7 5.2"/>
<path stroke="#b7d8e9" d="M69.6 268.4l2.9 -4.6"/>
<path stroke="#e8f0f4" d="M74.6 268.2l3.6 -4.1"/>
<path stroke="#f5ad8d" d="M79.2 264.8l4.8 2.6"/>
<path stroke="#9dcbe1" d="M101.5 268.5l2.6 -4.8"/>
<path stroke="#f8f0eb" d="M106.0 268.0l4.0 -3.7"/>
<path stroke="#eff3f6" d="M116.7 268.1l3.8 -4.0"/>
<path stroke="#549ec9" d="M123.0 263.5l1.9 5.2"/>
<path stroke="#347eb9" d="M128.5 263.4l1.3 5.3"/>
</g></g>
<rect x="29.50" y="165.40" width="105.60" height="105.90" fill="none" stroke="#c4c4c4" stroke-width="1"/>
<path d="M49.99 165.40v1.5M49.99 271.30v-1.5M29.50 186.60h1.5M135.10 186.60h-1.5M76.39 165.40v1.5M76.39 271.30v-1.5M29.50 213.10h1.5M135.10 213.10h-1.5M102.79 165.40v1.5M102.79 271.30v-1.5M29.50 239.60h1.5M135.10 239.60h-1.5M129.19 165.40v1.5M129.19 271.30v-1.5M29.50 266.10h1.5M135.10 266.10h-1.5" stroke="#b0b0b0" stroke-width="0.7" fill="none"/>
<text x="49.99" y="280.80" font-size="8" text-anchor="middle" fill="#262626" color="#262626">5</text>
<text x="26.80" y="189.30" font-size="8" text-anchor="end" fill="#262626" color="#262626">5</text>
<text x="76.39" y="280.80" font-size="8" text-anchor="middle" fill="#262626" color="#262626">10</text>
<text x="26.80" y="215.80" font-size="8" text-anchor="end" fill="#262626" color="#262626">10</text>
<text x="102.79" y="280.80" font-size="8" text-anchor="middle" fill="#262626" color="#262626">15</text>
<text x="26.80" y="242.30" font-size="8" text-anchor="end" fill="#262626" color="#262626">15</text>
<text x="129.19" y="280.80" font-size="8" text-anchor="middle" fill="#262626" color="#262626">20</text>
<text x="26.80" y="268.80" font-size="8" text-anchor="end" fill="#262626" color="#262626">20</text>
<text x="82.30" y="291.60" font-size="8.6" text-anchor="middle" fill="#262626" color="#262626">X</text>
<text transform="translate(15.10 218.35) rotate(-90)" font-size="8.6" text-anchor="middle" fill="#262626" color="#262626">Y</text>
<text x="83.00" y="161.00" font-size="14.5" text-anchor="middle" fill="#000" color="#000">t=2000</text>
<rect x="109.06" y="166.40" width="22.01" height="22" fill="#fff"/>
<text x="129.57" y="182.60" font-size="16.9" text-anchor="end" textLength="19.01" lengthAdjust="spacingAndGlyphs" fill="#000" color="#000">(X)</text>
<rect x="92.20" y="209.80" width="27.00" height="20.90" rx="3.6" fill="none" stroke="#000" stroke-width="1.9"/>
<clipPath id="cp8"><rect x="160.45" y="165.40" width="105.60" height="105.90"/></clipPath>
<g clip-path="url(#cp8)"><g stroke-width="1.35" stroke-opacity="0.85" stroke-linecap="round">
<path stroke="#063263" d="M165.1 173.4l0.0 -5.5"/>
<path stroke="#f5ac8a" d="M168.0 172.0l4.9 -2.6M173.2 240.9l4.9 -2.6"/>
<path stroke="#880a24" d="M172.9 170.5l5.5 0.4M183.5 255.3l5.5 0.4"/>
<path stroke="#850a24" d="M178.2 170.5l5.5 0.3M252.1 218.2l5.5 0.3M162.4 244.7l5.5 0.3M241.6 255.7l5.5 -0.3"/>
<path stroke="#820923" d="M183.5 170.9l5.5 -0.3M241.6 212.9l5.5 0.3M188.8 234.1l5.5 0.3M252.1 234.1l5.5 0.3M236.3 260.6l5.5 0.3"/>
<path stroke="#f7f6f6" d="M189.5 172.6l3.9 -3.9M231.8 236.2l3.9 -3.9"/>
<path stroke="#bedbeb" d="M195.3 168.4l3.0 4.6"/>
<path stroke="#d7634f" d="M199.4 169.8l5.2 1.7"/>
<path stroke="#c2deec" d="M205.8 173.0l3.1 -4.6M248.0 252.5l3.1 -4.6"/>
<path stroke="#f8f1ed" d="M210.6 172.6l4.0 -3.8M247.6 168.8l4.0 3.8"/>
<path stroke="#e8896c" d="M215.4 169.6l5.1 2.2"/>
<path stroke="#bfdceb" d="M221.7 173.0l3.0 -4.6"/>
<path stroke="#96c7df" d="M227.2 173.1l2.5 -4.9M243.0 210.2l2.5 -4.9M243.0 247.8l2.5 4.9"/>
<path stroke="#539dc8" d="M232.8 168.1l1.9 5.2M227.5 199.9l1.9 5.2"/>
<path stroke="#e4eef4" d="M237.2 168.6l3.6 4.2M237.2 179.2l3.6 4.2"/>
<path stroke="#eff3f5" d="M242.4 168.7l3.8 4.0"/>
<path stroke="#f8f4f2" d="M252.9 168.8l4.0 3.8M247.6 174.1l3.9 3.8M168.4 205.9l3.9 3.8"/>
<path stroke="#fbe3d5" d="M258.0 169.0l4.3 3.4"/>
<path stroke="#cde3ef" d="M163.5 173.8l3.2 4.5"/>
<path stroke="#f8bea1" d="M168.0 177.4l4.7 -2.8M210.3 217.0l4.7 2.8"/>
<path stroke="#d6e7f1" d="M174.0 173.8l3.3 4.4"/>
<path stroke="#dc6e58" d="M178.3 175.1l5.2 1.9"/>
<path stroke="#d2594a" d="M183.6 175.2l5.3 1.6M236.4 240.4l5.3 -1.6"/>
<path stroke="#c43b3c" d="M188.8 176.6l5.4 -1.3M199.4 224.3l5.4 -1.3"/>
<path stroke="#f9efe9" d="M194.7 177.9l4.1 -3.7M237.0 204.4l4.1 -3.7M189.5 268.0l4.1 -3.7"/>
<path stroke="#f6af8f" d="M199.6 177.3l4.8 -2.6"/>
<path stroke="#ef9a7a" d="M204.9 177.2l5.0 -2.4"/>
<path stroke="#f8c0a4" d="M210.3 174.6l4.7 2.9"/>
<path stroke="#c6413e" d="M215.2 175.3l5.3 1.3"/>
<path stroke="#eb9072" d="M220.7 177.1l5.0 -2.3M194.3 222.6l5.0 2.3"/>
<path stroke="#e58267" d="M225.9 177.0l5.1 -2.1M252.3 187.6l5.1 -2.1M173.1 192.9l5.1 -2.1M210.1 192.9l5.1 -2.1M189.0 261.8l5.1 -2.1"/>
<path stroke="#327cb8" d="M233.1 173.3l1.3 5.3"/>
<path stroke="#f7f7f7" d="M237.1 174.1l3.9 3.9M258.2 268.0l3.9 -3.9"/>
<path stroke="#ecf2f5" d="M242.4 174.0l3.7 4.1M184.4 179.3l3.7 4.1M247.7 225.7l3.7 -4.1M258.3 241.6l3.7 -4.1"/>
<path stroke="#fbe2d3" d="M252.7 174.3l4.3 3.4M236.9 188.3l4.3 -3.4"/>
<path stroke="#eef3f5" d="M258.3 174.0l3.7 4.0M247.7 179.3l3.7 4.0"/>
<path stroke="#f3a381" d="M162.6 182.5l4.9 -2.5M257.7 193.1l4.9 -2.5M247.1 240.8l4.9 -2.5"/>
<path stroke="#db6c56" d="M167.8 180.4l5.2 1.8"/>
<path stroke="#f3a280" d="M173.2 180.1l4.9 2.5"/>
<path stroke="#da6954" d="M178.3 180.4l5.2 1.8"/>
<path stroke="#800823" d="M188.8 181.4l5.5 -0.3M231.0 192.0l5.5 -0.3M194.0 207.9l5.5 -0.3"/>
<path stroke="#f9ece4" d="M194.7 183.1l4.1 -3.6M205.3 209.6l4.1 -3.6M231.7 209.6l4.1 -3.6M168.3 252.0l4.1 -3.6"/>
<path stroke="#8f0d25" d="M199.3 181.5l5.5 -0.5"/>
<path stroke="#890b24" d="M204.6 181.1l5.5 0.4"/>
<path stroke="#f8ba9d" d="M210.2 179.9l4.7 2.8"/>
<path stroke="#c84540" d="M215.2 180.6l5.3 1.4"/>
<path stroke="#f6b394" d="M220.8 182.6l4.8 -2.7"/>
<path stroke="#8ac0db" d="M227.2 183.8l2.4 -4.9"/>
<path stroke="#3b89be" d="M233.0 178.7l1.5 5.3"/>
<path stroke="#f9eee8" d="M242.3 179.5l4.1 3.7M242.3 199.0l4.1 -3.7"/>
<path stroke="#fbe4d6" d="M252.7 179.6l4.3 3.5M199.9 214.8l4.3 -3.5"/>
<path stroke="#f9ece5" d="M258.1 179.5l4.1 3.7M215.8 252.0l4.1 -3.7"/>
<path stroke="#f9c1a6" d="M162.8 188.0l4.7 -2.9M168.0 188.0l4.7 -2.9"/>
<path stroke="#ebf1f5" d="M173.8 188.6l3.7 -4.1M179.1 193.9l3.7 -4.1"/>
<path stroke="#f4a784" d="M178.5 187.9l4.9 -2.5M178.5 238.3l4.9 2.5"/>
<path stroke="#c13639" d="M183.5 187.2l5.4 -1.2M225.8 191.3l5.4 1.2"/>
<path stroke="#790622" d="M188.7 186.5l5.5 0.2"/>
<path stroke="#f7b596" d="M194.4 188.0l4.8 -2.7"/>
<path stroke="#bddbea" d="M200.6 184.3l3.0 4.6M205.8 247.2l3.0 -4.6"/>
<path stroke="#c6403e" d="M204.7 187.3l5.3 -1.3"/>
<path stroke="#d65f4d" d="M210.0 185.8l5.2 1.7M199.4 245.7l5.2 -1.7"/>
<path stroke="#f8bc9f" d="M215.5 188.0l4.7 -2.8M168.0 259.4l4.7 2.8"/>
<path stroke="#fbcdb5" d="M220.9 188.1l4.6 -3.1M247.3 209.3l4.6 -3.1"/>
<path stroke="#acd2e5" d="M227.1 189.0l2.8 -4.7"/>
<path stroke="#fae9df" d="M231.6 188.4l4.2 -3.6"/>
<path stroke="#e7eff4" d="M242.5 188.7l3.6 -4.1"/>
<path stroke="#f4f6f7" d="M247.7 188.6l3.8 -3.9M221.3 225.7l3.8 -3.9"/>
<path stroke="#cfe4ef" d="M258.5 188.8l3.2 -4.5M179.3 225.9l3.2 -4.5"/>
<path stroke="#175392" d="M164.8 189.2l0.6 5.5"/>
<path stroke="#a5cfe3" d="M169.0 189.5l2.7 4.8M163.7 263.2l2.7 -4.8"/>
<path stroke="#920e26" d="M183.5 191.7l5.5 0.5M204.6 192.1l5.5 -0.5M225.7 255.3l5.5 0.5M172.9 265.9l5.5 0.5"/>
<path stroke="#cf5246" d="M188.9 191.1l5.3 1.5"/>
<path stroke="#f4a683" d="M194.3 193.2l4.9 -2.5"/>
<path stroke="#770522" d="M199.3 191.8l5.5 0.2M172.9 207.9l5.5 -0.2M162.3 228.9l5.5 0.2"/>
<path stroke="#e6eff4" d="M216.1 194.0l3.6 -4.2M247.8 220.5l3.6 -4.2M195.0 252.3l3.6 -4.2"/>
<path stroke="#9ccae1" d="M221.9 194.3l2.6 -4.8"/>
<path stroke="#5ca3cc" d="M238.0 194.5l2.0 -5.1"/>
<path stroke="#720321" d="M241.5 192.0l5.5 -0.1M209.9 255.6l5.5 -0.1"/>
<path stroke="#bc2c34" d="M246.9 191.4l5.4 1.1"/>
<path stroke="#fcd8c3" d="M252.6 193.5l4.5 -3.2"/>
<path stroke="#f5ac8b" d="M162.7 198.5l4.8 -2.6"/>
<path stroke="#c7423f" d="M167.7 196.5l5.3 1.4"/>
<path stroke="#910d26" d="M172.9 197.0l5.5 0.5"/>
<path stroke="#7e0723" d="M178.2 197.3l5.5 -0.3M199.3 207.7l5.5 0.3M215.1 260.9l5.5 -0.3"/>
<path stroke="#ed9676" d="M183.7 196.0l5.0 2.3"/>
<path stroke="#930e26" d="M188.8 196.9l5.5 0.5"/>
<path stroke="#f8f3f0" d="M194.8 199.1l4.0 -3.8M163.1 209.7l4.0 -3.8M210.6 262.7l4.0 -3.8"/>
<path stroke="#e68569" d="M199.5 196.1l5.1 2.1"/>
<path stroke="#f6b091" d="M204.9 195.9l4.8 2.7M168.0 233.0l4.8 2.7M178.5 233.0l4.8 2.7"/>
<path stroke="#f8bfa4" d="M210.3 198.6l4.7 -2.9M252.5 230.4l4.7 -2.9"/>
<path stroke="#d86450" d="M215.3 196.3l5.2 1.7"/>
<path stroke="#f9c5ab" d="M220.9 198.7l4.6 -2.9M226.1 225.2l4.6 -2.9M252.5 257.0l4.6 -2.9"/>
<path stroke="#09386d" d="M228.4 194.5l0.1 5.5"/>
<path stroke="#6cadd1" d="M232.7 199.7l2.1 -5.1"/>
<path stroke="#d7e8f1" d="M237.3 199.4l3.3 -4.4"/>
<path stroke="#981027" d="M246.8 197.5l5.5 -0.6M236.3 244.6l5.5 0.6"/>
<path stroke="#e6866a" d="M252.3 198.3l5.1 -2.1M215.4 227.9l5.1 2.1"/>
<path stroke="#e8896d" d="M257.6 198.3l5.0 -2.2"/>
<path stroke="#e48166" d="M162.6 201.5l5.1 2.1"/>
<path stroke="#d25849" d="M167.7 203.3l5.3 -1.6M183.6 201.7l5.3 1.6"/>
<path stroke="#bd2e36" d="M173.0 201.9l5.4 1.1M204.6 260.2l5.4 1.1"/>
<path stroke="#740421" d="M178.2 202.4l5.5 0.2M220.4 202.6l5.5 -0.1M204.6 228.9l5.5 0.2M188.7 255.6l5.5 -0.2M231.0 255.6l5.5 -0.2M220.4 260.9l5.5 -0.2"/>
<path stroke="#f2a17f" d="M189.0 203.7l4.9 -2.5"/>
<path stroke="#c94641" d="M194.1 201.8l5.3 1.4"/>
<path stroke="#c2373a" d="M199.4 203.1l5.4 -1.2"/>
<path stroke="#f7b698" d="M205.0 201.1l4.8 2.7"/>
<path stroke="#c43d3c" d="M209.9 201.9l5.3 1.3M215.2 201.9l5.3 1.3M188.8 239.0l5.3 1.3"/>
<path stroke="#76b3d4" d="M232.6 200.0l2.2 5.0"/>
<path stroke="#f5aa88" d="M241.9 201.2l4.9 2.6M189.1 230.3l4.9 -2.6"/>
<path stroke="#fae8dd" d="M247.5 204.3l4.2 -3.5"/>
<path stroke="#eb9173" d="M252.4 201.4l5.0 2.3"/>
<path stroke="#6f0320" d="M257.4 202.5l5.5 0.1M209.9 239.6l5.5 0.1"/>
<path stroke="#8a0b25" d="M178.2 207.6l5.5 0.4M188.8 250.4l5.5 -0.4M231.0 250.0l5.5 0.4"/>
<path stroke="#f8f1ec" d="M184.2 209.7l4.0 -3.8"/>
<path stroke="#f4a886" d="M189.1 206.5l4.9 2.5"/>
<path stroke="#760521" d="M209.9 207.9l5.5 -0.2M178.2 229.1l5.5 -0.2"/>
<path stroke="#b72230" d="M215.2 207.3l5.4 1.0"/>
<path stroke="#facab1" d="M220.9 209.3l4.6 -3.0M215.6 222.2l4.6 3.0"/>
<path stroke="#f8bb9e" d="M226.1 206.4l4.7 2.8"/>
<path stroke="#fae8de" d="M236.9 209.6l4.2 -3.6"/>
<path stroke="#a6cfe4" d="M253.5 205.4l2.7 4.8"/>
<path stroke="#d25749" d="M257.5 207.0l5.3 1.6"/>
<path stroke="#eff3f6" d="M163.2 211.1l3.8 4.0"/>
<path stroke="#f5ad8d" d="M168.0 211.8l4.8 2.6"/>
<path stroke="#f5a987" d="M173.2 214.4l4.9 -2.5"/>
<path stroke="#f7b597" d="M178.5 214.5l4.8 -2.7"/>
<path stroke="#e8f0f4" d="M184.4 215.2l3.6 -4.1M231.9 221.6l3.6 4.1"/>
<path stroke="#dc6f58" d="M188.9 214.0l5.2 -1.9M167.8 219.3l5.2 -1.9"/>
<path stroke="#950f26" d="M194.0 212.8l5.5 0.5M199.3 261.1l5.5 -0.5"/>
<path stroke="#ef9979" d="M204.9 214.3l5.0 -2.4"/>
<path stroke="#dc6d57" d="M210.0 212.2l5.2 1.9"/>
<path stroke="#3d8bbf" d="M217.1 210.5l1.6 5.3"/>
<path stroke="#f8f5f3" d="M221.2 215.0l3.9 -3.8"/>
<path stroke="#c5dfed" d="M226.9 215.4l3.1 -4.5"/>
<path stroke="#97c7df" d="M232.5 215.5l2.6 -4.9"/>
<path stroke="#810823" d="M236.3 213.0l5.5 0.3"/>
<path stroke="#fce2d3" d="M247.4 214.8l4.3 -3.4"/>
<path stroke="#6e0220" d="M252.1 213.1l5.5 -0.1M199.3 255.5l5.5 0.1"/>
<path stroke="#8b0b25" d="M257.4 212.9l5.5 0.4M246.8 234.1l5.5 0.4M231.0 261.0l5.5 -0.4"/>
<path stroke="#f5ad8c" d="M162.7 217.1l4.8 2.6M220.8 254.2l4.8 2.6"/>
<path stroke="#d96853" d="M173.1 219.3l5.2 -1.8M252.3 222.8l5.2 1.8M215.3 240.5l5.2 -1.8"/>
<path stroke="#f7b99b" d="M178.6 219.8l4.7 -2.8"/>
<path stroke="#f7f6f5" d="M184.3 220.3l3.9 -3.9"/>
<path stroke="#6a011f" d="M188.7 218.4l5.5 0.0"/>
<path stroke="#6a0120" d="M194.0 218.4l5.5 0.0M204.6 239.6l5.5 -0.0M183.5 244.9l5.5 0.0"/>
<path stroke="#880b24" d="M199.3 218.2l5.5 0.4M178.2 250.0l5.5 0.4M183.5 265.9l5.5 0.4"/>
<path stroke="#fcd6c0" d="M205.1 216.8l4.5 3.2"/>
<path stroke="#d6614e" d="M215.3 217.5l5.2 1.7"/>
<path stroke="#e2edf3" d="M221.4 220.5l3.5 -4.2M253.1 237.5l3.5 4.2"/>
<path stroke="#2970b1" d="M227.9 221.1l1.1 -5.4"/>
<path stroke="#f5f6f7" d="M231.8 220.4l3.9 -3.9M258.2 231.0l3.9 -3.9"/>
<path stroke="#e48066" d="M236.5 219.4l5.1 -2.1"/>
<path stroke="#f9c4a9" d="M242.0 216.9l4.7 2.9"/>
<path stroke="#8d0c25" d="M257.4 218.6l5.5 -0.4"/>
<path stroke="#700320" d="M162.3 223.6l5.5 0.1"/>
<path stroke="#fdd9c5" d="M168.1 225.3l4.5 -3.2"/>
<path stroke="#ec9374" d="M173.2 224.8l5.0 -2.3"/>
<path stroke="#facab2" d="M183.9 225.2l4.6 -3.0"/>
<path stroke="#ee9677" d="M189.0 224.9l5.0 -2.3"/>
<path stroke="#f9c4aa" d="M205.0 222.2l4.7 2.9"/>
<path stroke="#f0f4f6" d="M210.7 225.7l3.8 -4.0"/>
<path stroke="#f4f6f6" d="M237.1 225.7l3.8 -3.9M173.7 258.8l3.8 3.9"/>
<path stroke="#fddac5" d="M242.1 222.1l4.5 3.2"/>
<path stroke="#d45b4b" d="M257.5 222.9l5.2 1.6"/>
<path stroke="#860a24" d="M167.6 228.8l5.5 0.4M204.6 234.5l5.5 -0.4"/>
<path stroke="#fbd0b8" d="M173.4 230.5l4.6 -3.1"/>
<path stroke="#7a0622" d="M183.5 228.9l5.5 0.2M162.3 234.4l5.5 -0.2M209.9 234.2l5.5 0.2"/>
<path stroke="#d05447" d="M194.1 229.8l5.3 -1.6"/>
<path stroke="#69011f" d="M199.3 229.0l5.5 -0.0M167.6 266.1l5.5 -0.0"/>
<path stroke="#d15648" d="M210.0 228.2l5.3 1.6"/>
<path stroke="#61a6cd" d="M222.2 226.4l2.0 5.1"/>
<path stroke="#faeae1" d="M226.4 230.8l4.2 -3.6M236.9 236.1l4.2 -3.6"/>
<path stroke="#549ec9" d="M232.8 226.4l1.9 5.2"/>
<path stroke="#2d76b4" d="M238.4 226.3l1.2 5.4M227.9 268.8l1.2 -5.4"/>
<path stroke="#f1f4f6" d="M242.4 231.0l3.8 -4.0"/>
<path stroke="#e3edf3" d="M247.8 231.1l3.6 -4.2"/>
<path stroke="#b82531" d="M173.0 233.8l5.4 1.0"/>
<path stroke="#f4a785" d="M183.8 233.0l4.9 2.5"/>
<path stroke="#fbe6d9" d="M194.7 236.0l4.3 -3.5"/>
<path stroke="#f4a582" d="M199.6 235.5l4.9 -2.5"/>
<path stroke="#710321" d="M215.1 234.2l5.5 0.1M246.8 255.6l5.5 -0.1"/>
<path stroke="#3f8ec0" d="M222.4 231.7l1.6 5.3"/>
<path stroke="#9fcbe2" d="M227.1 236.7l2.6 -4.8"/>
<path stroke="#be2f36" d="M241.6 234.9l5.4 -1.1M241.6 244.3l5.4 1.1"/>
<path stroke="#bb2a34" d="M257.4 233.8l5.4 1.1"/>
<path stroke="#c53e3d" d="M162.4 238.9l5.3 1.3M183.5 249.5l5.3 1.3"/>
<path stroke="#ee9777" d="M167.9 238.4l5.0 2.3"/>
<path stroke="#fae7dc" d="M184.1 237.8l4.2 3.5M163.0 267.9l4.2 -3.5"/>
<path stroke="#d96652" d="M194.2 240.5l5.2 -1.8"/>
<path stroke="#c43c3c" d="M199.4 239.0l5.3 1.3"/>
<path stroke="#5aa1cb" d="M222.2 237.0l1.9 5.1M222.2 252.8l1.9 -5.1M227.5 258.2l1.9 5.1"/>
<path stroke="#f4f5f6" d="M226.5 241.6l3.8 -3.9M242.4 268.1l3.8 -3.9"/>
<path stroke="#bc2b34" d="M231.0 240.1l5.4 -1.1M241.6 240.1l5.4 -1.1"/>
<path stroke="#750521" d="M167.6 244.8l5.5 0.2"/>
<path stroke="#c84440" d="M173.0 245.6l5.3 -1.4"/>
<path stroke="#c8433f" d="M178.3 244.2l5.3 1.4"/>
<path stroke="#b92631" d="M188.8 245.4l5.4 -1.0"/>
<path stroke="#d7624f" d="M194.2 244.0l5.2 1.7"/>
<path stroke="#f9efea" d="M210.6 246.8l4.1 -3.7"/>
<path stroke="#d45c4b" d="M215.3 244.1l5.2 1.7"/>
<path stroke="#fbe5d8" d="M221.0 246.6l4.3 -3.5"/>
<path stroke="#e47f65" d="M225.9 243.9l5.1 2.1"/>
<path stroke="#f2a07e" d="M231.3 246.1l4.9 -2.4"/>
<path stroke="#780522" d="M246.8 244.8l5.5 0.2"/>
<path stroke="#4494c3" d="M254.0 242.3l1.7 5.2"/>
<path stroke="#fac9b0" d="M257.8 246.4l4.6 -3.0"/>
<path stroke="#98c8e0" d="M163.8 252.6l2.6 -4.9"/>
<path stroke="#f19d7c" d="M173.2 249.0l4.9 2.4"/>
<path stroke="#e88a6d" d="M199.5 249.1l5.0 2.2"/>
<path stroke="#a8d0e4" d="M206.0 252.6l2.8 -4.8"/>
<path stroke="#faebe3" d="M210.5 252.0l4.1 -3.6"/>
<path stroke="#991027" d="M225.7 249.9l5.5 0.6M178.2 255.8l5.5 -0.6"/>
<path stroke="#cf5247" d="M236.4 249.4l5.3 1.5"/>
<path stroke="#59a1ca" d="M253.9 247.6l1.9 5.2"/>
<path stroke="#3c8abe" d="M259.4 247.6l1.5 5.3"/>
<path stroke="#d4e6f0" d="M163.5 257.7l3.3 -4.4"/>
<path stroke="#7c0722" d="M167.6 255.6l5.5 -0.2"/>
<path stroke="#840924" d="M172.9 255.7l5.5 -0.3"/>
<path stroke="#cc4d44" d="M194.1 254.8l5.3 1.5"/>
<path stroke="#7d0722" d="M204.6 255.6l5.5 -0.2"/>
<path stroke="#60a5cd" d="M216.9 252.9l2.0 5.1"/>
<path stroke="#ca4942" d="M236.4 254.8l5.3 1.4"/>
<path stroke="#e98b6e" d="M257.6 256.6l5.0 -2.2"/>
<path stroke="#f6af8e" d="M178.5 259.5l4.8 2.6"/>
<path stroke="#f6b292" d="M183.8 262.1l4.8 -2.7"/>
<path stroke="#f5ab8a" d="M194.3 259.5l4.9 2.6"/>
<path stroke="#da6853" d="M241.7 259.9l5.2 1.8"/>
<path stroke="#f8bea2" d="M247.2 262.2l4.7 -2.8"/>
<path stroke="#970f27" d="M252.1 260.5l5.5 0.6"/>
<path stroke="#abd2e5" d="M258.7 263.2l2.8 -4.7"/>
<path stroke="#cd4e44" d="M178.3 265.4l5.3 1.5"/>
<path stroke="#2870b1" d="M196.3 263.4l1.0 5.4"/>
<path stroke="#ea8d70" d="M199.5 267.2l5.0 -2.2"/>
<path stroke="#f2f5f6" d="M205.4 268.1l3.8 -4.0"/>
<path stroke="#58a0ca" d="M211.7 263.5l1.9 5.2"/>
<path stroke="#faebe2" d="M215.8 267.9l4.1 -3.6"/>
<path stroke="#b9d9e9" d="M221.7 263.8l3.0 4.6"/>
<path stroke="#8fc3dd" d="M232.5 268.6l2.5 -4.9"/>
<path stroke="#71b0d3" d="M237.9 268.6l2.2 -5.1"/>
<path stroke="#4090c1" d="M248.8 263.5l1.6 5.3"/>
<path stroke="#6badd1" d="M253.8 263.6l2.1 5.1"/>
</g></g>
<rect x="160.45" y="165.40" width="105.60" height="105.90" fill="none" stroke="#c4c4c4" stroke-width="1"/>
<path d="M180.94 165.40v1.5M180.94 271.30v-1.5M160.45 186.60h1.5M266.05 186.60h-1.5M207.34 165.40v1.5M207.34 271.30v-1.5M160.45 213.10h1.5M266.05 213.10h-1.5M233.74 165.40v1.5M233.74 271.30v-1.5M160.45 239.60h1.5M266.05 239.60h-1.5M260.14 165.40v1.5M260.14 271.30v-1.5M160.45 266.10h1.5M266.05 266.10h-1.5" stroke="#b0b0b0" stroke-width="0.7" fill="none"/>
<text x="180.94" y="280.80" font-size="8" text-anchor="middle" fill="#262626" color="#262626">5</text>
<text x="157.75" y="189.30" font-size="8" text-anchor="end" fill="#262626" color="#262626">5</text>
<text x="207.34" y="280.80" font-size="8" text-anchor="middle" fill="#262626" color="#262626">10</text>
<text x="157.75" y="215.80" font-size="8" text-anchor="end" fill="#262626" color="#262626">10</text>
<text x="233.74" y="280.80" font-size="8" text-anchor="middle" fill="#262626" color="#262626">15</text>
<text x="157.75" y="242.30" font-size="8" text-anchor="end" fill="#262626" color="#262626">15</text>
<text x="260.14" y="280.80" font-size="8" text-anchor="middle" fill="#262626" color="#262626">20</text>
<text x="157.75" y="268.80" font-size="8" text-anchor="end" fill="#262626" color="#262626">20</text>
<text x="213.25" y="291.60" font-size="8.6" text-anchor="middle" fill="#262626" color="#262626">X</text>
<text transform="translate(146.05 218.35) rotate(-90)" font-size="8.6" text-anchor="middle" fill="#262626" color="#262626">Y</text>
<text x="214.40" y="161.00" font-size="14.5" text-anchor="middle" fill="#000" color="#000">t=1800</text>
<rect x="237.23" y="166.40" width="26.87" height="22" fill="#fff"/>
<text x="262.60" y="182.60" font-size="16.9" text-anchor="end" textLength="23.87" lengthAdjust="spacingAndGlyphs" fill="#000" color="#000">(IX)</text>
<rect x="223.50" y="208.00" width="26.90" height="21.20" rx="3.6" fill="none" stroke="#000" stroke-width="1.9"/>
<clipPath id="cp7"><rect x="291.40" y="165.40" width="105.60" height="105.90"/></clipPath>
<g clip-path="url(#cp7)"><g stroke-width="1.35" stroke-opacity="0.85" stroke-linecap="round">
<path stroke="#2d75b4" d="M295.5 173.4l1.2 -5.4"/>
<path stroke="#eb9072" d="M298.8 171.8l5.0 -2.3M378.0 227.9l5.0 2.3M341.1 256.6l5.0 -2.3"/>
<path stroke="#780622" d="M303.9 170.6l5.5 0.2M309.1 202.6l5.5 -0.2M383.1 218.3l5.5 0.2"/>
<path stroke="#f7b99c" d="M309.5 172.1l4.7 -2.8M325.4 256.9l4.7 -2.8"/>
<path stroke="#900d26" d="M314.4 170.9l5.5 -0.5"/>
<path stroke="#950f26" d="M319.7 171.0l5.5 -0.5M319.7 239.9l5.5 -0.5"/>
<path stroke="#0b3c72" d="M327.6 173.4l0.2 -5.5"/>
<path stroke="#fbd1bb" d="M330.7 169.1l4.5 3.1"/>
<path stroke="#b1d5e7" d="M336.9 173.0l2.9 -4.7"/>
<path stroke="#3b89be" d="M342.8 168.1l1.5 5.3"/>
<path stroke="#2c75b3" d="M348.3 168.0l1.1 5.4"/>
<path stroke="#d15648" d="M351.5 169.9l5.3 1.6M330.4 176.8l5.3 -1.6M304.0 233.5l5.3 1.6"/>
<path stroke="#e3eef3" d="M357.6 172.8l3.6 -4.2"/>
<path stroke="#f9ece4" d="M362.6 168.9l4.1 3.6M325.7 230.8l4.1 -3.6"/>
<path stroke="#edf2f5" d="M368.1 168.7l3.7 4.0"/>
<path stroke="#f4f6f7" d="M373.3 168.7l3.8 3.9"/>
<path stroke="#f8f3f0" d="M378.5 168.8l4.0 3.8M389.1 168.8l4.0 3.8M378.5 188.5l4.0 -3.8M368.0 215.0l4.0 -3.8"/>
<path stroke="#fce2d2" d="M383.6 169.0l4.3 3.4"/>
<path stroke="#faebe3" d="M294.0 174.2l4.1 3.6"/>
<path stroke="#f6f7f7" d="M299.4 178.0l3.9 -3.9M315.2 268.1l3.9 -3.9"/>
<path stroke="#f6b292" d="M304.2 174.7l4.8 2.7M309.5 174.7l4.8 2.7"/>
<path stroke="#b82531" d="M314.5 175.5l5.4 1.0"/>
<path stroke="#bb2a34" d="M319.7 175.5l5.4 1.1M372.5 196.7l5.4 1.1"/>
<path stroke="#f6f6f7" d="M325.8 178.0l3.9 -3.9"/>
<path stroke="#981027" d="M335.6 176.3l5.5 -0.6M340.8 186.9l5.5 -0.6"/>
<path stroke="#6fafd2" d="M342.5 173.5l2.1 5.1"/>
<path stroke="#f8ba9d" d="M346.5 174.6l4.7 2.8"/>
<path stroke="#c7423f" d="M351.5 175.3l5.3 1.3"/>
<path stroke="#c7e0ed" d="M357.8 178.3l3.1 -4.5"/>
<path stroke="#e4eef4" d="M362.9 173.9l3.6 4.2M310.1 262.9l3.6 -4.2"/>
<path stroke="#f2f5f6" d="M368.1 174.0l3.8 4.0M378.6 174.0l3.8 4.0M383.9 262.8l3.8 -4.0"/>
<path stroke="#e5eff4" d="M373.4 173.9l3.6 4.2"/>
<path stroke="#e9f0f4" d="M384.0 173.9l3.7 4.1"/>
<path stroke="#fbe4d7" d="M388.9 174.3l4.3 3.5M362.5 209.5l4.3 -3.5"/>
<path stroke="#e98b6e" d="M293.5 182.4l5.0 -2.2"/>
<path stroke="#f9c2a7" d="M299.0 182.7l4.7 -2.9M372.9 227.6l4.7 2.9"/>
<path stroke="#cb4a43" d="M304.0 180.6l5.3 1.5"/>
<path stroke="#970f27" d="M309.2 181.0l5.5 0.6M356.7 202.2l5.5 0.6M303.9 213.4l5.5 -0.6"/>
<path stroke="#f5ac8b" d="M314.7 180.0l4.8 2.6"/>
<path stroke="#cd4e44" d="M319.8 182.0l5.3 -1.5M351.5 201.8l5.3 1.5M335.6 208.5l5.3 -1.5M372.6 244.2l5.3 1.5"/>
<path stroke="#ba2833" d="M325.0 180.8l5.4 1.0M346.1 217.9l5.4 1.0"/>
<path stroke="#ee9777" d="M330.5 182.5l5.0 -2.3M341.1 246.1l5.0 -2.3"/>
<path stroke="#fae7db" d="M336.2 183.1l4.2 -3.5"/>
<path stroke="#f4f5f6" d="M341.6 183.3l3.8 -3.9"/>
<path stroke="#c2393a" d="M346.2 180.7l5.4 1.2M325.0 233.7l5.4 1.2"/>
<path stroke="#f4a785" d="M351.7 182.6l4.9 -2.5M335.8 201.2l4.9 2.5"/>
<path stroke="#2971b2" d="M358.9 184.0l1.1 -5.4"/>
<path stroke="#f0f4f6" d="M362.8 179.3l3.8 4.0"/>
<path stroke="#fce1d2" d="M367.8 179.6l4.3 3.4"/>
<path stroke="#fae7dc" d="M373.1 179.5l4.2 3.5M383.7 179.5l4.2 3.5"/>
<path stroke="#fbe7db" d="M378.4 179.5l4.2 3.5M352.0 257.3l4.2 -3.5"/>
<path stroke="#fbe6d9" d="M389.0 179.6l4.3 3.5"/>
<path stroke="#fbd1ba" d="M293.8 188.1l4.5 -3.1"/>
<path stroke="#eff3f6" d="M299.4 188.6l3.8 -4.0"/>
<path stroke="#830924" d="M303.9 186.4l5.5 0.3M314.4 202.7l5.5 -0.3M325.0 223.9l5.5 -0.3"/>
<path stroke="#720321" d="M309.1 186.7l5.5 -0.1M309.1 234.4l5.5 -0.1M319.7 234.2l5.5 0.1"/>
<path stroke="#700320" d="M314.4 186.5l5.5 0.1M319.7 213.0l5.5 0.1"/>
<path stroke="#750521" d="M319.7 186.5l5.5 0.2M340.8 218.5l5.5 -0.2"/>
<path stroke="#c43b3c" d="M325.1 186.0l5.4 1.3"/>
<path stroke="#6e0220" d="M330.3 186.6l5.5 0.1M314.4 213.1l5.5 0.1M330.3 234.3l5.5 -0.1M330.3 255.5l5.5 0.1"/>
<path stroke="#6d0220" d="M335.5 186.6l5.5 0.1M356.7 239.6l5.5 -0.1"/>
<path stroke="#c94641" d="M346.2 187.3l5.3 -1.4M383.1 207.1l5.3 1.4M330.3 217.7l5.3 1.4M383.1 235.0l5.3 -1.4M303.9 265.4l5.3 1.4"/>
<path stroke="#d96853" d="M351.5 185.7l5.2 1.8M346.2 212.2l5.2 1.8M372.6 217.5l5.2 1.8"/>
<path stroke="#ecf2f5" d="M357.5 188.6l3.7 -4.1M341.7 193.9l3.7 -4.1"/>
<path stroke="#fae9df" d="M362.6 188.4l4.2 -3.6M378.4 220.2l4.2 -3.6M383.7 267.9l4.2 -3.6"/>
<path stroke="#d7e8f1" d="M368.3 188.8l3.3 -4.4M352.5 242.7l3.3 4.4"/>
<path stroke="#add3e6" d="M373.8 184.2l2.8 4.7"/>
<path stroke="#f9ece5" d="M383.7 188.4l4.1 -3.7"/>
<path stroke="#e6eff4" d="M389.3 188.7l3.6 -4.2"/>
<path stroke="#cee3ef" d="M294.4 194.1l3.2 -4.5"/>
<path stroke="#a9d1e5" d="M299.9 194.3l2.8 -4.7M342.2 199.6l2.8 -4.7"/>
<path stroke="#e7866a" d="M304.1 193.0l5.1 -2.1"/>
<path stroke="#fcd4bf" d="M309.6 193.5l4.5 -3.1"/>
<path stroke="#db6c56" d="M314.6 191.0l5.2 1.8M335.7 256.4l5.2 -1.8"/>
<path stroke="#cf5246" d="M319.8 192.7l5.3 -1.5"/>
<path stroke="#c33a3b" d="M325.0 191.3l5.4 1.3"/>
<path stroke="#d35a4a" d="M330.4 191.1l5.3 1.6M330.4 245.7l5.3 -1.6M319.8 260.0l5.3 1.6"/>
<path stroke="#fcd3bc" d="M336.0 193.5l4.5 -3.1"/>
<path stroke="#72b1d3" d="M347.8 194.4l2.2 -5.0"/>
<path stroke="#f8f4f2" d="M352.1 193.8l4.0 -3.8M378.5 252.1l4.0 -3.8"/>
<path stroke="#bc2b34" d="M356.7 191.4l5.4 1.1"/>
<path stroke="#cc4c44" d="M362.0 191.2l5.3 1.5M383.2 191.2l5.3 1.5"/>
<path stroke="#8ec3dd" d="M368.7 194.4l2.5 -4.9"/>
<path stroke="#fbd0b8" d="M373.0 193.4l4.6 -3.1"/>
<path stroke="#faebe2" d="M378.5 193.7l4.2 -3.6"/>
<path stroke="#f2a07e" d="M388.6 193.1l4.9 -2.4M320.0 206.6l4.9 2.4M320.0 217.2l4.9 2.4"/>
<path stroke="#6f0320" d="M293.3 197.2l5.5 -0.1M388.3 223.7l5.5 0.1"/>
<path stroke="#8d0c25" d="M298.6 197.4l5.5 -0.4"/>
<path stroke="#f8bfa4" d="M304.3 198.6l4.7 -2.9M388.7 246.3l4.7 -2.9"/>
<path stroke="#920e26" d="M309.1 197.0l5.5 0.5M330.3 229.2l5.5 -0.5"/>
<path stroke="#7e0723" d="M314.4 197.1l5.5 0.3M309.1 239.7l5.5 -0.3"/>
<path stroke="#810823" d="M319.7 197.1l5.5 0.3M383.1 213.2l5.5 -0.3"/>
<path stroke="#bd2e35" d="M325.0 196.6l5.4 1.1M351.4 260.2l5.4 1.1"/>
<path stroke="#d7624f" d="M330.4 198.1l5.2 -1.7M314.6 254.6l5.2 1.7"/>
<path stroke="#f6b091" d="M335.9 198.5l4.8 -2.7"/>
<path stroke="#f9efe9" d="M346.8 199.1l4.1 -3.7"/>
<path stroke="#f4a684" d="M351.7 195.9l4.9 2.5"/>
<path stroke="#ec9273" d="M356.9 196.1l5.0 2.3M330.5 212.0l5.0 2.3"/>
<path stroke="#266db0" d="M364.2 199.9l1.0 -5.4M369.5 226.3l1.0 5.4"/>
<path stroke="#ce5146" d="M367.3 198.0l5.3 -1.5"/>
<path stroke="#8a0b25" d="M377.8 197.4l5.5 -0.4M377.8 202.3l5.5 0.4"/>
<path stroke="#f5a987" d="M383.4 198.5l4.9 -2.6"/>
<path stroke="#880a24" d="M388.3 197.4l5.5 -0.4M383.1 223.9l5.5 -0.4M361.9 266.3l5.5 -0.4"/>
<path stroke="#93c5de" d="M294.8 200.1l2.5 4.9"/>
<path stroke="#8e0d25" d="M298.6 202.3l5.5 0.5"/>
<path stroke="#f8bea1" d="M304.3 201.1l4.7 2.8"/>
<path stroke="#facab2" d="M320.1 201.0l4.6 3.0"/>
<path stroke="#f8c0a4" d="M325.4 201.1l4.7 2.9M372.9 238.2l4.7 2.9"/>
<path stroke="#d7634f" d="M330.4 201.6l5.2 1.7M367.4 240.5l5.2 -1.7"/>
<path stroke="#f8bda1" d="M341.2 201.1l4.7 2.8"/>
<path stroke="#740421" d="M346.1 202.6l5.5 -0.1"/>
<path stroke="#2970b1" d="M364.2 199.8l1.1 5.4M327.2 263.4l1.0 5.4"/>
<path stroke="#c2383a" d="M367.3 201.9l5.4 1.2"/>
<path stroke="#7a0622" d="M372.5 202.4l5.5 0.2M361.9 260.9l5.5 -0.2"/>
<path stroke="#820923" d="M383.1 202.7l5.5 -0.3M319.7 223.5l5.5 0.3"/>
<path stroke="#730421" d="M388.3 202.4l5.5 0.1"/>
<path stroke="#4d99c6" d="M295.1 205.2l1.8 5.2"/>
<path stroke="#f6af8e" d="M298.9 206.5l4.8 2.6"/>
<path stroke="#be3036" d="M303.9 208.4l5.4 -1.1M372.6 233.7l5.4 1.1"/>
<path stroke="#c2373a" d="M309.2 207.2l5.4 1.2"/>
<path stroke="#7c0722" d="M314.4 207.9l5.5 -0.2M314.4 260.9l5.5 -0.2"/>
<path stroke="#f6af8f" d="M325.3 209.1l4.8 -2.6"/>
<path stroke="#be3137" d="M330.3 207.2l5.4 1.2"/>
<path stroke="#d55e4c" d="M340.9 207.0l5.2 1.7"/>
<path stroke="#f6b191" d="M346.4 206.5l4.8 2.7"/>
<path stroke="#e48066" d="M351.6 208.8l5.1 -2.1"/>
<path stroke="#f5aa89" d="M357.0 206.5l4.9 2.6"/>
<path stroke="#d45c4b" d="M367.3 208.6l5.2 -1.7"/>
<path stroke="#f7b697" d="M372.9 209.2l4.8 -2.7"/>
<path stroke="#faeae1" d="M378.4 206.0l4.2 3.6"/>
<path stroke="#b6d7e8" d="M389.6 205.5l2.9 4.7"/>
<path stroke="#770522" d="M293.3 213.2l5.5 -0.2"/>
<path stroke="#7d0722" d="M298.6 213.2l5.5 -0.2M335.5 229.1l5.5 -0.2"/>
<path stroke="#860a24" d="M309.1 212.9l5.5 0.4M335.5 213.3l5.5 -0.4M309.1 250.0l5.5 0.4"/>
<path stroke="#b5d7e8" d="M326.3 210.8l2.9 4.7"/>
<path stroke="#991027" d="M340.8 213.4l5.5 -0.6"/>
<path stroke="#fcd7c2" d="M351.9 214.7l4.5 -3.2M314.9 216.8l4.5 3.2M357.2 227.4l4.5 3.2M325.5 241.2l4.5 -3.2"/>
<path stroke="#9fcce2" d="M358.1 215.5l2.7 -4.8"/>
<path stroke="#3884bb" d="M364.0 215.8l1.4 -5.3"/>
<path stroke="#fac8af" d="M372.9 211.6l4.6 3.0M304.3 259.3l4.6 3.0"/>
<path stroke="#880b24" d="M377.8 212.9l5.5 0.4M303.9 255.7l5.5 -0.4"/>
<path stroke="#8f0d25" d="M388.3 213.3l5.5 -0.5M298.6 245.1l5.5 -0.5M330.3 250.0l5.5 0.5"/>
<path stroke="#e8896c" d="M293.5 217.3l5.1 2.2M298.8 227.9l5.1 2.2M319.9 227.9l5.1 2.2M388.6 235.4l5.1 -2.2M304.1 251.3l5.1 -2.2"/>
<path stroke="#bc2c34" d="M298.6 217.9l5.4 1.1"/>
<path stroke="#b82431" d="M303.9 218.9l5.4 -1.0"/>
<path stroke="#bc2d35" d="M309.2 217.8l5.4 1.1M319.8 249.6l5.4 1.1"/>
<path stroke="#c8433f" d="M325.1 219.1l5.3 -1.4M346.2 233.6l5.3 1.4M309.2 265.4l5.3 1.4"/>
<path stroke="#cc4d44" d="M335.6 217.7l5.3 1.5"/>
<path stroke="#f9eee7" d="M352.1 220.2l4.1 -3.7"/>
<path stroke="#bcdaea" d="M357.9 216.1l3.0 4.6"/>
<path stroke="#f8f4f1" d="M362.7 220.3l4.0 -3.8"/>
<path stroke="#f4a784" d="M367.5 219.7l4.9 -2.5M378.1 233.0l4.9 2.5"/>
<path stroke="#c6413e" d="M388.4 217.7l5.3 1.3M356.7 244.2l5.3 1.3"/>
<path stroke="#f6b394" d="M293.6 222.4l4.8 2.7M383.4 227.7l4.8 2.7"/>
<path stroke="#ed9475" d="M298.8 224.9l5.0 -2.3"/>
<path stroke="#c84540" d="M303.9 224.4l5.3 -1.4"/>
<path stroke="#ef9a7a" d="M309.4 224.9l5.0 -2.4"/>
<path stroke="#890b24" d="M314.4 223.5l5.5 0.4"/>
<path stroke="#67001f" d="M330.3 223.7l5.5 0.0"/>
<path stroke="#fbcdb5" d="M336.0 225.2l4.6 -3.1"/>
<path stroke="#f9f0ea" d="M341.5 225.6l4.0 -3.7"/>
<path stroke="#d1e5f0" d="M347.2 221.5l3.2 4.4"/>
<path stroke="#2e77b5" d="M353.5 221.0l1.2 5.4"/>
<path stroke="#dc6e58" d="M356.8 222.8l5.2 1.9"/>
<path stroke="#62a6ce" d="M363.7 221.1l2.0 5.1"/>
<path stroke="#eef3f5" d="M368.1 221.7l3.7 4.0M352.3 236.3l3.7 -4.0"/>
<path stroke="#d7624e" d="M372.6 222.8l5.2 1.7M314.6 244.0l5.2 1.7"/>
<path stroke="#960f26" d="M377.8 223.4l5.5 0.5M293.3 234.0l5.5 0.5M314.4 239.3l5.5 0.5"/>
<path stroke="#fcd4be" d="M293.8 230.6l4.5 -3.1M346.6 264.5l4.5 3.1"/>
<path stroke="#b6212f" d="M303.9 229.5l5.4 -1.0"/>
<path stroke="#98c8e0" d="M310.6 231.4l2.6 -4.9"/>
<path stroke="#da6853" d="M314.6 228.1l5.2 1.8M293.4 244.0l5.2 1.8"/>
<path stroke="#69011f" d="M340.8 229.0l5.5 -0.0M314.4 234.3l5.5 -0.0"/>
<path stroke="#307ab6" d="M348.2 226.3l1.2 5.4"/>
<path stroke="#b4d6e8" d="M352.7 231.3l2.9 -4.7"/>
<path stroke="#2b74b3" d="M364.1 231.7l1.1 -5.4"/>
<path stroke="#f7b698" d="M388.7 227.6l4.8 2.7"/>
<path stroke="#d96752" d="M298.7 235.2l5.2 -1.8"/>
<path stroke="#780522" d="M335.5 234.2l5.5 0.2"/>
<path stroke="#6c0220" d="M340.8 234.3l5.5 0.1M361.9 250.2l5.5 -0.1M367.2 250.2l5.5 -0.1"/>
<path stroke="#fae8dd" d="M357.3 236.1l4.2 -3.6"/>
<path stroke="#2f78b5" d="M364.1 237.0l1.2 -5.4"/>
<path stroke="#fcd6c1" d="M367.7 232.7l4.5 3.2M304.4 243.3l4.5 3.2"/>
<path stroke="#fbceb6" d="M293.8 241.1l4.6 -3.1"/>
<path stroke="#e58368" d="M298.8 238.5l5.1 2.1"/>
<path stroke="#7f0823" d="M303.9 239.5l5.5 0.3M298.6 250.3l5.5 -0.3M346.1 260.9l5.5 -0.3"/>
<path stroke="#fcd6c0" d="M330.8 241.2l4.5 -3.2"/>
<path stroke="#eb9173" d="M335.8 240.7l5.0 -2.3"/>
<path stroke="#fddac6" d="M341.3 238.0l4.5 3.2"/>
<path stroke="#5fa5cd" d="M347.9 237.0l2.0 5.1"/>
<path stroke="#9bcae1" d="M352.8 237.2l2.6 4.8"/>
<path stroke="#940e26" d="M361.9 239.3l5.5 0.5M383.1 239.3l5.5 0.5M330.3 265.8l5.5 0.5"/>
<path stroke="#ed9576" d="M378.0 240.8l5.0 -2.3"/>
<path stroke="#6a011f" d="M388.3 239.6l5.5 -0.0"/>
<path stroke="#ce5045" d="M309.2 245.7l5.3 -1.5"/>
<path stroke="#b92631" d="M319.7 245.4l5.4 -1.0"/>
<path stroke="#ef9979" d="M325.2 243.7l5.0 2.4"/>
<path stroke="#f3a381" d="M335.8 246.1l4.9 -2.5"/>
<path stroke="#70afd2" d="M347.8 247.4l2.2 -5.1"/>
<path stroke="#f7b596" d="M362.3 246.3l4.8 -2.7"/>
<path stroke="#f8f0eb" d="M367.9 246.8l4.0 -3.7"/>
<path stroke="#f19e7d" d="M378.1 246.1l4.9 -2.4"/>
<path stroke="#76b3d4" d="M384.7 242.4l2.2 5.0"/>
<path stroke="#c3deec" d="M294.5 252.5l3.1 -4.6"/>
<path stroke="#760521" d="M314.4 250.3l5.5 -0.2"/>
<path stroke="#c03338" d="M325.0 250.8l5.4 -1.2"/>
<path stroke="#8c0c25" d="M335.5 250.0l5.5 0.4M356.7 255.7l5.5 -0.4"/>
<path stroke="#f4a582" d="M341.1 251.4l4.9 -2.5"/>
<path stroke="#bad9e9" d="M347.4 247.9l3.0 4.6"/>
<path stroke="#b3d6e7" d="M352.7 247.9l2.9 4.7"/>
<path stroke="#fbe2d3" d="M357.2 251.9l4.3 -3.4"/>
<path stroke="#fac6ac" d="M372.9 251.7l4.6 -3.0"/>
<path stroke="#9ccae1" d="M384.5 252.6l2.6 -4.8"/>
<path stroke="#2d76b4" d="M390.5 247.5l1.2 5.4"/>
<path stroke="#2a73b2" d="M295.5 258.2l1.1 -5.4"/>
<path stroke="#f9c4aa" d="M299.0 254.0l4.7 2.9"/>
<path stroke="#960f27" d="M309.1 255.2l5.5 0.5"/>
<path stroke="#910d26" d="M319.7 255.3l5.5 0.5"/>
<path stroke="#afd4e6" d="M347.4 257.9l2.8 -4.7"/>
<path stroke="#ba2933" d="M362.0 255.0l5.4 1.1"/>
<path stroke="#f8bca0" d="M367.6 256.9l4.7 -2.8"/>
<path stroke="#ebf1f5" d="M373.4 257.5l3.7 -4.1"/>
<path stroke="#4393c3" d="M379.7 252.9l1.7 5.2"/>
<path stroke="#c4deec" d="M384.3 257.8l3.1 -4.6"/>
<path stroke="#94c6df" d="M389.8 257.9l2.5 -4.9"/>
<path stroke="#f9efea" d="M294.0 258.9l4.1 3.7"/>
<path stroke="#f9c1a6" d="M299.0 259.4l4.7 2.9"/>
<path stroke="#d6e8f1" d="M326.1 263.0l3.3 -4.4"/>
<path stroke="#da6a55" d="M330.4 261.7l5.2 -1.8"/>
<path stroke="#f7f5f3" d="M336.3 262.7l3.9 -3.8"/>
<path stroke="#e58268" d="M341.0 259.7l5.1 2.1"/>
<path stroke="#f7f7f7" d="M357.5 258.9l3.9 3.9"/>
<path stroke="#fbe6da" d="M367.8 262.5l4.2 -3.5"/>
<path stroke="#f8f2ee" d="M373.2 262.7l4.0 -3.8"/>
<path stroke="#c8e0ed" d="M379.0 263.1l3.1 -4.5"/>
<path stroke="#fbe5d9" d="M389.0 262.5l4.3 -3.5"/>
<path stroke="#4e9ac7" d="M295.1 268.7l1.8 -5.2"/>
<path stroke="#f8f0ec" d="M299.3 268.0l4.0 -3.7"/>
<path stroke="#e5eef4" d="M320.7 268.2l3.6 -4.2"/>
<path stroke="#347fb9" d="M337.6 263.4l1.3 5.3"/>
<path stroke="#fae9de" d="M341.5 267.9l4.2 -3.6"/>
<path stroke="#f8f3f1" d="M352.1 268.0l4.0 -3.8"/>
<path stroke="#3580b9" d="M358.7 263.4l1.3 5.3"/>
<path stroke="#f9ede5" d="M367.9 267.9l4.1 -3.7"/>
<path stroke="#d9e9f1" d="M373.6 268.3l3.4 -4.3"/>
<path stroke="#fbe5d8" d="M378.4 267.8l4.3 -3.5"/>
<path stroke="#337eb8" d="M390.4 263.4l1.3 5.3"/>
</g></g>
<rect x="291.40" y="165.40" width="105.60" height="105.90" fill="none" stroke="#c4c4c4" stroke-width="1"/>
<path d="M311.89 165.40v1.5M311.89 271.30v-1.5M291.40 186.60h1.5M397.00 186.60h-1.5M338.29 165.40v1.5M338.29 271.30v-1.5M291.40 213.10h1.5M397.00 213.10h-1.5M364.69 165.40v1.5M364.69 271.30v-1.5M291.40 239.60h1.5M397.00 239.60h-1.5M391.09 165.40v1.5M391.09 271.30v-1.5M291.40 266.10h1.5M397.00 266.10h-1.5" stroke="#b0b0b0" stroke-width="0.7" fill="none"/>
<text x="311.89" y="280.80" font-size="8" text-anchor="middle" fill="#262626" color="#262626">5</text>
<text x="288.70" y="189.30" font-size="8" text-anchor="end" fill="#262626" color="#262626">5</text>
<text x="338.29" y="280.80" font-size="8" text-anchor="middle" fill="#262626" color="#262626">10</text>
<text x="288.70" y="215.80" font-size="8" text-anchor="end" fill="#262626" color="#262626">10</text>
<text x="364.69" y="280.80" font-size="8" text-anchor="middle" fill="#262626" color="#262626">15</text>
<text x="288.70" y="242.30" font-size="8" text-anchor="end" fill="#262626" color="#262626">15</text>
<text x="391.09" y="280.80" font-size="8" text-anchor="middle" fill="#262626" color="#262626">20</text>
<text x="288.70" y="268.80" font-size="8" text-anchor="end" fill="#262626" color="#262626">20</text>
<text x="344.20" y="291.60" font-size="8.6" text-anchor="middle" fill="#262626" color="#262626">X</text>
<text transform="translate(277.00 218.35) rotate(-90)" font-size="8.6" text-anchor="middle" fill="#262626" color="#262626">Y</text>
<text x="343.30" y="161.00" font-size="14.5" text-anchor="middle" fill="#000" color="#000">t=1600</text>
<rect x="360.22" y="166.40" width="35.38" height="22" fill="#fff"/>
<text x="394.10" y="182.60" font-size="16.9" text-anchor="end" textLength="32.38" lengthAdjust="spacingAndGlyphs" fill="#000" color="#000">(VIII)</text>
<rect x="354.70" y="209.80" width="27.10" height="21.10" rx="3.6" fill="none" stroke="#000" stroke-width="1.9"/>
<clipPath id="cp6"><rect x="422.35" y="165.40" width="105.60" height="105.90"/></clipPath>
<g clip-path="url(#cp6)"><g stroke-width="1.35" stroke-opacity="0.85" stroke-linecap="round">
<path stroke="#2d76b4" d="M426.4 173.4l1.2 -5.4M495.1 178.7l1.2 -5.4M489.8 210.4l1.2 5.4"/>
<path stroke="#b82330" d="M429.6 171.2l5.4 -1.0"/>
<path stroke="#c03338" d="M434.9 171.3l5.4 -1.2M429.6 228.4l5.4 1.2"/>
<path stroke="#ef9979" d="M440.4 171.9l5.0 -2.4M450.9 224.9l5.0 -2.4"/>
<path stroke="#edf2f5" d="M446.3 172.7l3.7 -4.0"/>
<path stroke="#fcd3bc" d="M451.1 172.3l4.5 -3.1"/>
<path stroke="#57a0ca" d="M457.7 168.1l1.9 5.2"/>
<path stroke="#ba2833" d="M461.3 170.2l5.4 1.0M434.9 218.9l5.4 -1.0"/>
<path stroke="#fcd8c3" d="M467.0 172.3l4.5 -3.2"/>
<path stroke="#8cc1dc" d="M473.3 168.2l2.4 4.9"/>
<path stroke="#f0f4f6" d="M477.9 168.7l3.8 4.0M509.6 209.8l3.8 -4.0M472.6 215.1l3.8 -4.0M483.2 215.1l3.8 -4.0M509.6 231.0l3.8 -4.0M499.0 236.3l3.8 -4.0"/>
<path stroke="#c94641" d="M482.4 171.4l5.3 -1.4M434.9 235.0l5.3 -1.4"/>
<path stroke="#fac6ac" d="M488.0 172.2l4.6 -3.0"/>
<path stroke="#eef3f5" d="M493.8 172.7l3.7 -4.0"/>
<path stroke="#f8f4f2" d="M498.9 168.8l3.9 3.8"/>
<path stroke="#f9ebe3" d="M504.1 168.9l4.1 3.6"/>
<path stroke="#f7f5f3" d="M509.5 168.8l3.9 3.8"/>
<path stroke="#f3f5f6" d="M514.8 168.7l3.8 3.9"/>
<path stroke="#f9ede6" d="M520.0 168.9l4.1 3.7M461.9 193.7l4.1 -3.7"/>
<path stroke="#3884bb" d="M426.3 173.3l1.4 5.3"/>
<path stroke="#ea8f71" d="M429.8 174.9l5.0 2.2"/>
<path stroke="#dc6d57" d="M435.0 175.1l5.2 1.9"/>
<path stroke="#720321" d="M440.1 175.9l5.5 0.1M461.2 255.6l5.5 -0.1"/>
<path stroke="#a1cce2" d="M446.8 173.6l2.7 4.8"/>
<path stroke="#e98b6e" d="M450.9 177.1l5.0 -2.2M466.7 214.2l5.0 -2.2M440.3 240.7l5.0 -2.2"/>
<path stroke="#175391" d="M458.4 178.7l0.6 -5.5"/>
<path stroke="#2d75b4" d="M463.4 178.7l1.2 -5.4"/>
<path stroke="#d7624e" d="M466.6 175.1l5.2 1.7M477.2 222.8l5.2 1.7"/>
<path stroke="#f7f6f6" d="M472.6 177.9l3.9 -3.9"/>
<path stroke="#e7866a" d="M477.3 174.9l5.1 2.1M519.5 201.4l5.1 2.1"/>
<path stroke="#f9c4aa" d="M482.7 177.5l4.7 -2.9M435.2 259.3l4.7 2.9"/>
<path stroke="#eaf1f5" d="M488.5 178.0l3.7 -4.1M509.6 237.6l3.7 4.1"/>
<path stroke="#fbe3d4" d="M498.8 174.3l4.3 3.4"/>
<path stroke="#fbe3d5" d="M504.1 174.3l4.3 3.4M488.2 188.3l4.3 -3.4M451.3 230.7l4.3 -3.4"/>
<path stroke="#eff3f6" d="M509.6 174.0l3.8 4.0M472.6 209.8l3.8 -4.0"/>
<path stroke="#f8f4f1" d="M514.8 174.1l4.0 3.8"/>
<path stroke="#e7f0f4" d="M520.2 173.9l3.6 4.1"/>
<path stroke="#256baf" d="M426.5 184.0l1.0 -5.4"/>
<path stroke="#7e0723" d="M429.5 181.2l5.5 0.3M519.3 234.4l5.5 -0.3M434.8 245.0l5.5 -0.3M440.1 244.8l5.5 0.3"/>
<path stroke="#880b24" d="M434.8 181.5l5.5 -0.4M498.2 265.9l5.5 0.4"/>
<path stroke="#c53e3d" d="M440.2 180.6l5.3 1.3"/>
<path stroke="#f4f6f6" d="M446.2 183.3l3.8 -3.9M446.2 241.6l3.8 -3.9"/>
<path stroke="#6a0120" d="M450.6 181.3l5.5 -0.0M450.6 218.4l5.5 0.0"/>
<path stroke="#f9c4a9" d="M456.3 179.8l4.7 2.9"/>
<path stroke="#ecf2f5" d="M462.1 183.3l3.7 -4.1"/>
<path stroke="#f8f2ef" d="M467.2 183.2l4.0 -3.8"/>
<path stroke="#ed9576" d="M472.0 180.1l5.0 2.3M493.1 193.1l5.0 -2.3M466.7 206.6l5.0 2.3"/>
<path stroke="#c84440" d="M477.1 180.6l5.3 1.4"/>
<path stroke="#f8c0a4" d="M482.7 182.7l4.7 -2.9M461.6 214.5l4.7 -2.9"/>
<path stroke="#b1d5e7" d="M488.9 183.6l2.9 -4.7M499.5 226.7l2.9 4.7"/>
<path stroke="#6aacd0" d="M494.6 178.8l2.1 5.1"/>
<path stroke="#fce1d2" d="M498.7 179.6l4.3 3.4"/>
<path stroke="#f8f0eb" d="M504.2 179.4l4.0 3.7"/>
<path stroke="#faeae1" d="M509.4 179.5l4.2 3.6M483.0 220.2l4.2 -3.6"/>
<path stroke="#faeae0" d="M514.7 179.5l4.2 3.6M520.0 179.5l4.2 3.6M504.1 209.6l4.2 -3.6"/>
<path stroke="#bcdaea" d="M425.5 188.9l3.0 -4.6"/>
<path stroke="#f2f4f6" d="M430.4 188.6l3.8 -4.0M499.0 199.2l3.8 -4.0M456.8 236.3l3.8 -4.0"/>
<path stroke="#e6eff4" d="M435.8 188.7l3.6 -4.2M509.7 188.7l3.6 -4.2M456.9 215.2l3.6 -4.2M509.7 225.8l3.6 -4.2"/>
<path stroke="#d15648" d="M440.2 187.4l5.3 -1.6M498.3 222.9l5.3 1.6M493.0 249.4l5.3 1.6"/>
<path stroke="#b72230" d="M445.4 186.1l5.4 1.0"/>
<path stroke="#920e26" d="M450.7 186.4l5.5 0.5M450.7 202.7l5.5 -0.5M429.5 213.3l5.5 -0.5M434.8 213.3l5.5 -0.5M514.0 223.9l5.5 -0.5"/>
<path stroke="#d35a4a" d="M456.1 187.4l5.3 -1.6"/>
<path stroke="#860a24" d="M461.2 186.8l5.5 -0.4"/>
<path stroke="#6b0120" d="M466.5 186.6l5.5 0.0"/>
<path stroke="#780622" d="M471.8 186.5l5.5 0.2M519.3 213.2l5.5 -0.2M429.5 244.8l5.5 0.2M461.2 260.7l5.5 0.2"/>
<path stroke="#fbceb7" d="M477.5 188.1l4.6 -3.1M435.3 230.5l4.6 -3.1"/>
<path stroke="#f7b597" d="M482.7 188.0l4.8 -2.7M445.7 235.7l4.8 -2.7"/>
<path stroke="#4190c2" d="M494.8 184.0l1.7 5.2"/>
<path stroke="#f8f3f1" d="M498.9 188.5l4.0 -3.8M472.5 193.8l4.0 -3.8"/>
<path stroke="#fbe4d6" d="M504.1 188.3l4.3 -3.5M493.5 209.5l4.3 -3.5M482.9 251.9l4.3 -3.5"/>
<path stroke="#ebf1f5" d="M514.9 188.6l3.7 -4.1M472.7 231.0l3.7 -4.1M499.1 252.2l3.7 -4.1M425.2 268.1l3.7 -4.1"/>
<path stroke="#b9d9e9" d="M520.6 188.9l3.0 -4.6"/>
<path stroke="#fac8af" d="M424.7 193.4l4.6 -3.0"/>
<path stroke="#f6f7f7" d="M430.3 193.9l3.9 -3.9"/>
<path stroke="#ce5045" d="M434.9 192.7l5.3 -1.5M487.7 192.7l5.3 -1.5"/>
<path stroke="#bd2e35" d="M440.1 191.3l5.4 1.1"/>
<path stroke="#910d26" d="M445.4 192.1l5.5 -0.5M424.3 223.9l5.5 -0.5"/>
<path stroke="#790622" d="M450.6 191.8l5.5 0.2M424.2 218.3l5.5 0.2M445.4 229.1l5.5 -0.2"/>
<path stroke="#d05347" d="M456.0 192.7l5.3 -1.6"/>
<path stroke="#b6d7e8" d="M467.8 194.2l2.9 -4.7"/>
<path stroke="#ed9475" d="M477.3 193.1l5.0 -2.3"/>
<path stroke="#e58268" d="M482.5 190.8l5.1 2.1"/>
<path stroke="#d96853" d="M498.3 191.0l5.2 1.8"/>
<path stroke="#f4f6f7" d="M504.3 193.9l3.8 -3.9"/>
<path stroke="#347fb9" d="M510.8 194.6l1.3 -5.3"/>
<path stroke="#f7f6f5" d="M514.8 193.8l3.9 -3.9M440.9 262.7l3.9 -3.9M520.1 268.0l3.9 -3.9"/>
<path stroke="#da6954" d="M519.4 191.0l5.2 1.8M466.6 222.8l5.2 1.8"/>
<path stroke="#b82531" d="M424.3 196.7l5.4 1.0"/>
<path stroke="#830924" d="M429.5 197.4l5.5 -0.3"/>
<path stroke="#f09c7b" d="M435.1 196.0l5.0 2.4"/>
<path stroke="#890b24" d="M440.1 197.0l5.5 0.4M477.1 197.4l5.5 -0.4M514.0 213.3l5.5 -0.4M450.7 250.0l5.5 0.4"/>
<path stroke="#cd4e45" d="M445.5 196.5l5.3 1.5M514.1 207.1l5.3 1.5"/>
<path stroke="#8c0c25" d="M450.7 197.0l5.5 0.4"/>
<path stroke="#6c0220" d="M455.9 197.2l5.5 -0.1M466.5 202.5l5.5 0.1M498.2 207.8l5.5 0.1"/>
<path stroke="#f9efe9" d="M461.9 199.1l4.1 -3.7M509.4 220.3l4.1 -3.7M514.7 262.7l4.1 -3.7M504.2 268.0l4.1 -3.7"/>
<path stroke="#b82431" d="M466.5 197.7l5.4 -1.0"/>
<path stroke="#cf5246" d="M471.9 196.4l5.3 1.5"/>
<path stroke="#730421" d="M482.3 197.1l5.5 0.1M445.4 223.6l5.5 0.1"/>
<path stroke="#b3d6e7" d="M488.9 194.9l2.9 4.7"/>
<path stroke="#4594c4" d="M494.8 194.6l1.7 5.2M489.5 252.9l1.7 5.2"/>
<path stroke="#c43b3c" d="M503.5 196.6l5.4 1.3"/>
<path stroke="#d86450" d="M508.9 198.1l5.2 -1.7M450.8 206.9l5.2 1.7"/>
<path stroke="#ce5146" d="M514.1 196.4l5.3 1.5"/>
<path stroke="#d25849" d="M519.4 196.4l5.3 1.6"/>
<path stroke="#f4a582" d="M424.5 201.3l4.9 2.5"/>
<path stroke="#c6413e" d="M429.6 201.8l5.3 1.3M466.6 256.2l5.3 -1.3"/>
<path stroke="#fcd2bc" d="M435.3 200.9l4.5 3.1"/>
<path stroke="#fcd7c2" d="M440.6 204.1l4.5 -3.2M472.3 216.8l4.5 3.2M514.5 230.6l4.5 -3.2"/>
<path stroke="#8e0d25" d="M445.4 202.3l5.5 0.5M498.2 260.6l5.5 0.5"/>
<path stroke="#6a011f" d="M455.9 202.5l5.5 0.0M466.5 234.3l5.5 0.0M471.8 234.3l5.5 -0.0"/>
<path stroke="#faebe2" d="M461.9 204.3l4.2 -3.6"/>
<path stroke="#fbcdb5" d="M472.2 201.0l4.6 3.0M498.6 254.0l4.6 3.0M430.0 264.6l4.6 3.1"/>
<path stroke="#ba2933" d="M477.1 202.0l5.4 1.1"/>
<path stroke="#f8f2ee" d="M483.1 204.4l4.0 -3.8"/>
<path stroke="#f8f3f0" d="M488.4 204.4l4.0 -3.8"/>
<path stroke="#4896c5" d="M494.8 205.1l1.8 -5.2"/>
<path stroke="#f2a07e" d="M498.5 203.7l4.9 -2.4"/>
<path stroke="#970f27" d="M503.5 202.2l5.5 0.6M461.2 223.4l5.5 0.6"/>
<path stroke="#fdd9c5" d="M509.2 200.9l4.5 3.2M456.4 209.4l4.5 -3.2"/>
<path stroke="#f4a785" d="M514.3 203.8l4.9 -2.5"/>
<path stroke="#f8bfa4" d="M424.6 206.4l4.7 2.9"/>
<path stroke="#c03539" d="M429.6 207.2l5.4 1.2"/>
<path stroke="#bf3237" d="M434.9 207.2l5.4 1.2"/>
<path stroke="#f19f7d" d="M440.4 206.6l4.9 2.4"/>
<path stroke="#850a24" d="M445.4 208.0l5.5 -0.3M461.2 239.4l5.5 0.3"/>
<path stroke="#cc4d44" d="M461.3 207.1l5.3 1.5"/>
<path stroke="#8b0b25" d="M477.1 208.0l5.5 -0.4"/>
<path stroke="#6cadd1" d="M484.0 210.3l2.1 -5.1"/>
<path stroke="#3b89be" d="M489.6 205.2l1.5 5.3M521.3 252.8l1.5 -5.3"/>
<path stroke="#d7624f" d="M519.4 206.9l5.2 1.7M503.6 212.2l5.2 1.7"/>
<path stroke="#e98c6f" d="M424.5 212.0l5.0 2.2M493.1 214.2l5.0 -2.2M435.0 251.3l5.0 -2.2"/>
<path stroke="#e58267" d="M440.3 214.1l5.1 -2.1"/>
<path stroke="#8a0b25" d="M445.4 212.9l5.5 0.4M477.1 213.3l5.5 -0.4M461.2 218.6l5.5 -0.4"/>
<path stroke="#880a24" d="M450.7 212.9l5.5 0.4"/>
<path stroke="#cb4a42" d="M498.3 213.8l5.3 -1.4"/>
<path stroke="#e9f0f4" d="M509.7 215.2l3.7 -4.1"/>
<path stroke="#92c5de" d="M431.0 220.9l2.5 -4.9M504.9 252.7l2.5 -4.9"/>
<path stroke="#ba2732" d="M440.1 217.9l5.4 1.0M492.9 255.0l5.4 1.0"/>
<path stroke="#991027" d="M445.4 218.7l5.5 -0.6"/>
<path stroke="#da6853" d="M456.1 217.5l5.2 1.8"/>
<path stroke="#f8bb9e" d="M466.9 219.8l4.7 -2.8M509.1 248.8l4.7 2.8"/>
<path stroke="#c2383a" d="M477.1 217.8l5.4 1.2"/>
<path stroke="#5ca3cc" d="M489.4 215.8l2.0 5.1"/>
<path stroke="#65a9cf" d="M494.6 221.0l2.1 -5.1"/>
<path stroke="#69011f" d="M498.2 218.4l5.5 -0.0M434.8 223.7l5.5 0.0"/>
<path stroke="#840924" d="M503.5 218.6l5.5 -0.3M466.5 239.8l5.5 -0.3"/>
<path stroke="#db6c56" d="M514.2 217.5l5.2 1.8M424.4 228.1l5.2 1.8M429.7 249.3l5.2 1.8"/>
<path stroke="#c2393a" d="M519.4 219.0l5.4 -1.2M471.8 260.2l5.4 1.2"/>
<path stroke="#e8896d" d="M429.8 224.8l5.0 -2.2"/>
<path stroke="#740421" d="M440.1 223.6l5.5 0.1M455.9 255.4l5.5 0.2M445.4 260.7l5.5 0.2M450.6 260.7l5.5 0.1M466.5 260.7l5.5 0.1M487.6 260.7l5.5 0.1"/>
<path stroke="#eb9072" d="M456.2 222.6l5.0 2.3"/>
<path stroke="#820923" d="M471.8 223.5l5.5 0.3M471.8 244.7l5.5 0.3"/>
<path stroke="#e9f1f5" d="M483.2 225.8l3.7 -4.1M514.9 268.2l3.7 -4.1"/>
<path stroke="#ed9676" d="M487.9 222.5l5.0 2.3"/>
<path stroke="#63a7ce" d="M494.6 221.1l2.0 5.1M494.6 231.7l2.0 5.1"/>
<path stroke="#b6202f" d="M503.5 223.2l5.4 1.0"/>
<path stroke="#e58368" d="M519.5 224.8l5.1 -2.1"/>
<path stroke="#cce3ef" d="M441.2 231.2l3.2 -4.5"/>
<path stroke="#4292c2" d="M457.8 231.6l1.7 -5.2"/>
<path stroke="#facbb2" d="M461.7 230.5l4.6 -3.0M519.7 238.1l4.6 3.0"/>
<path stroke="#f09b7a" d="M466.8 227.8l5.0 2.4"/>
<path stroke="#5aa1cb" d="M478.8 226.4l1.9 5.1"/>
<path stroke="#f9f0eb" d="M483.1 230.9l4.0 -3.7M483.1 236.2l4.0 -3.7"/>
<path stroke="#facab1" d="M488.1 227.5l4.6 3.0"/>
<path stroke="#77b4d5" d="M494.5 226.5l2.2 5.0"/>
<path stroke="#f6b495" d="M503.8 227.6l4.8 2.7"/>
<path stroke="#f9c1a6" d="M519.7 227.6l4.7 2.9"/>
<path stroke="#ee9677" d="M424.5 235.5l5.0 -2.3"/>
<path stroke="#be3036" d="M429.6 233.7l5.4 1.1"/>
<path stroke="#c13639" d="M440.2 233.7l5.4 1.2M508.8 260.2l5.4 1.2"/>
<path stroke="#e8896c" d="M450.9 235.4l5.1 -2.2"/>
<path stroke="#f8f1ec" d="M461.9 236.2l4.0 -3.8"/>
<path stroke="#2b74b3" d="M479.2 231.6l1.1 5.4"/>
<path stroke="#dc6e58" d="M487.8 235.2l5.2 -1.9"/>
<path stroke="#fcd6c1" d="M503.9 232.7l4.5 3.2M514.5 251.8l4.5 -3.2M445.9 253.9l4.5 3.2"/>
<path stroke="#fae9df" d="M509.4 236.1l4.2 -3.6M504.1 246.7l4.2 -3.6"/>
<path stroke="#67001f" d="M514.0 234.3l5.5 0.0"/>
<path stroke="#2f79b6" d="M426.4 242.3l1.2 -5.4"/>
<path stroke="#f8ba9d" d="M429.9 241.0l4.7 -2.8"/>
<path stroke="#f6af8f" d="M435.1 240.9l4.8 -2.6M498.5 246.2l4.8 -2.6"/>
<path stroke="#fbe6da" d="M451.3 241.4l4.2 -3.5M456.6 241.4l4.2 -3.5"/>
<path stroke="#6e0220" d="M471.8 239.6l5.5 -0.1"/>
<path stroke="#3e8dc0" d="M479.0 237.0l1.6 5.3"/>
<path stroke="#3884bc" d="M484.4 242.3l1.4 -5.3"/>
<path stroke="#d1e5f0" d="M488.7 241.8l3.2 -4.4"/>
<path stroke="#fbd1bb" d="M493.4 241.2l4.5 -3.1"/>
<path stroke="#f8bfa3" d="M498.6 241.0l4.7 -2.9"/>
<path stroke="#930e26" d="M503.5 239.3l5.5 0.5M461.2 245.2l5.5 -0.5"/>
<path stroke="#9ac9e0" d="M515.5 237.2l2.6 4.9"/>
<path stroke="#fae9e0" d="M424.9 243.1l4.2 3.6"/>
<path stroke="#750521" d="M445.4 245.0l5.5 -0.2"/>
<path stroke="#8d0c25" d="M450.7 245.1l5.5 -0.4"/>
<path stroke="#d45d4b" d="M456.1 245.7l5.2 -1.7"/>
<path stroke="#f9ece5" d="M467.2 246.7l4.1 -3.7"/>
<path stroke="#0d4078" d="M479.7 242.2l0.3 5.5"/>
<path stroke="#4b98c6" d="M484.2 247.5l1.8 -5.2"/>
<path stroke="#e2edf3" d="M488.6 247.0l3.5 -4.2M478.0 268.2l3.5 -4.2"/>
<path stroke="#fac7ad" d="M493.3 246.4l4.6 -3.0"/>
<path stroke="#fbe4d7" d="M509.3 246.6l4.3 -3.5"/>
<path stroke="#f9efea" d="M514.7 246.8l4.1 -3.7"/>
<path stroke="#b4d6e8" d="M520.6 247.2l2.9 -4.7"/>
<path stroke="#9ccae1" d="M425.7 252.6l2.6 -4.8"/>
<path stroke="#f5f6f7" d="M440.9 252.2l3.9 -3.9M425.1 262.8l3.9 -3.9"/>
<path stroke="#faccb4" d="M445.8 251.7l4.6 -3.0"/>
<path stroke="#bc2b34" d="M456.0 249.7l5.4 1.1"/>
<path stroke="#810823" d="M461.2 250.3l5.5 -0.3"/>
<path stroke="#e88a6d" d="M466.7 251.3l5.0 -2.2M472.0 249.1l5.0 2.2"/>
<path stroke="#e7876b" d="M477.3 251.3l5.1 -2.2"/>
<path stroke="#bad9e9" d="M488.9 247.9l3.0 4.6"/>
<path stroke="#f7b596" d="M424.6 256.9l4.8 -2.7"/>
<path stroke="#68001f" d="M429.5 255.5l5.5 -0.0"/>
<path stroke="#f5ab8a" d="M435.1 254.2l4.9 2.6"/>
<path stroke="#d7634f" d="M440.2 254.6l5.2 1.7"/>
<path stroke="#ce4f45" d="M450.8 254.7l5.3 1.5"/>
<path stroke="#fcd5bf" d="M472.3 257.1l4.5 -3.2"/>
<path stroke="#710321" d="M477.0 255.4l5.5 0.1"/>
<path stroke="#5da4cc" d="M484.1 252.9l2.0 5.1"/>
<path stroke="#c6403e" d="M503.5 254.8l5.3 1.3"/>
<path stroke="#a8d0e4" d="M510.1 257.9l2.8 -4.8"/>
<path stroke="#114782" d="M516.6 258.2l0.4 -5.5"/>
<path stroke="#cae1ee" d="M520.5 257.8l3.2 -4.5"/>
<path stroke="#950f26" d="M429.5 261.1l5.5 -0.5"/>
<path stroke="#d96752" d="M456.1 261.7l5.2 -1.8"/>
<path stroke="#6d0220" d="M477.0 260.8l5.5 0.1"/>
<path stroke="#3b88bd" d="M484.3 258.2l1.5 5.3M457.9 268.7l1.5 -5.3"/>
<path stroke="#d4e7f1" d="M494.0 258.6l3.3 4.4"/>
<path stroke="#940e26" d="M503.5 261.1l5.5 -0.5"/>
<path stroke="#90c4dd" d="M520.8 263.3l2.5 -4.9"/>
<path stroke="#e3edf3" d="M435.8 268.2l3.6 -4.2"/>
<path stroke="#add3e6" d="M441.4 268.5l2.8 -4.7"/>
<path stroke="#e5eff4" d="M446.3 268.2l3.6 -4.2"/>
<path stroke="#abd1e5" d="M452.0 268.5l2.8 -4.7"/>
<path stroke="#770522" d="M461.2 266.2l5.5 -0.2"/>
<path stroke="#3a87bd" d="M468.5 268.7l1.5 -5.3"/>
<path stroke="#f9ece4" d="M472.5 267.9l4.1 -3.6"/>
<path stroke="#4796c5" d="M484.2 263.5l1.7 5.2"/>
<path stroke="#fae7dc" d="M488.2 267.9l4.2 -3.5"/>
<path stroke="#fbd0b9" d="M493.4 264.6l4.5 3.1"/>
<path stroke="#bbdaea" d="M510.0 268.4l3.0 -4.6"/>
</g></g>
<rect x="422.35" y="165.40" width="105.60" height="105.90" fill="none" stroke="#c4c4c4" stroke-width="1"/>
<path d="M442.84 165.40v1.5M442.84 271.30v-1.5M422.35 186.60h1.5M527.95 186.60h-1.5M469.24 165.40v1.5M469.24 271.30v-1.5M422.35 213.10h1.5M527.95 213.10h-1.5M495.64 165.40v1.5M495.64 271.30v-1.5M422.35 239.60h1.5M527.95 239.60h-1.5M522.04 165.40v1.5M522.04 271.30v-1.5M422.35 266.10h1.5M527.95 266.10h-1.5" stroke="#b0b0b0" stroke-width="0.7" fill="none"/>
<text x="442.84" y="280.80" font-size="8" text-anchor="middle" fill="#262626" color="#262626">5</text>
<text x="419.65" y="189.30" font-size="8" text-anchor="end" fill="#262626" color="#262626">5</text>
<text x="469.24" y="280.80" font-size="8" text-anchor="middle" fill="#262626" color="#262626">10</text>
<text x="419.65" y="215.80" font-size="8" text-anchor="end" fill="#262626" color="#262626">10</text>
<text x="495.64" y="280.80" font-size="8" text-anchor="middle" fill="#262626" color="#262626">15</text>
<text x="419.65" y="242.30" font-size="8" text-anchor="end" fill="#262626" color="#262626">15</text>
<text x="522.04" y="280.80" font-size="8" text-anchor="middle" fill="#262626" color="#262626">20</text>
<text x="419.65" y="268.80" font-size="8" text-anchor="end" fill="#262626" color="#262626">20</text>
<text x="475.15" y="291.60" font-size="8.6" text-anchor="middle" fill="#262626" color="#262626">X</text>
<text transform="translate(407.95 218.35) rotate(-90)" font-size="8.6" text-anchor="middle" fill="#262626" color="#262626">Y</text>
<text x="474.00" y="161.00" font-size="14.5" text-anchor="middle" fill="#000" color="#000">t=1400</text>
<rect x="496.61" y="166.40" width="31.40" height="22" fill="#fff"/>
<text x="526.51" y="182.60" font-size="16.9" text-anchor="end" textLength="28.40" lengthAdjust="spacingAndGlyphs" fill="#000" color="#000">(VII)</text>
<rect x="486.10" y="209.80" width="27.10" height="21.10" rx="3.6" fill="none" stroke="#000" stroke-width="1.9"/>
<clipPath id="cp5"><rect x="553.30" y="165.40" width="105.60" height="105.90"/></clipPath>
<g clip-path="url(#cp5)"><g stroke-width="1.35" stroke-opacity="0.85" stroke-linecap="round">
<path stroke="#f6b394" d="M555.5 172.0l4.8 -2.7M576.7 174.7l4.8 2.7M555.5 227.7l4.8 2.7"/>
<path stroke="#f8ba9d" d="M560.9 172.1l4.7 -2.8M608.4 259.4l4.7 2.8"/>
<path stroke="#f7b597" d="M566.1 169.3l4.8 2.7"/>
<path stroke="#f2f5f6" d="M571.9 172.7l3.8 -4.0"/>
<path stroke="#f7b697" d="M576.7 172.1l4.8 -2.7M624.2 203.9l4.8 -2.7"/>
<path stroke="#f7f6f5" d="M582.4 172.6l3.9 -3.9"/>
<path stroke="#faeae1" d="M587.5 168.9l4.2 3.6M598.1 195.4l4.2 3.6M587.5 214.9l4.2 -3.6M592.8 236.1l4.2 -3.6"/>
<path stroke="#bb2a33" d="M592.2 171.2l5.4 -1.1"/>
<path stroke="#bad9e9" d="M598.7 173.0l3.0 -4.6"/>
<path stroke="#95c6df" d="M604.2 173.1l2.5 -4.9"/>
<path stroke="#276fb0" d="M610.2 168.0l1.0 5.4"/>
<path stroke="#549ec9" d="M615.1 173.3l1.9 -5.2M588.7 268.7l1.9 -5.2"/>
<path stroke="#afd4e6" d="M619.9 173.1l2.8 -4.7"/>
<path stroke="#b4d6e8" d="M625.1 173.0l2.9 -4.7"/>
<path stroke="#f5ad8d" d="M629.4 172.0l4.8 -2.6"/>
<path stroke="#fae8dd" d="M635.0 168.9l4.2 3.5M635.0 188.4l4.2 -3.6"/>
<path stroke="#ecf2f5" d="M640.6 168.7l3.7 4.1M630.0 188.6l3.7 -4.1M635.3 246.9l3.7 -4.1"/>
<path stroke="#fbe4d7" d="M645.6 169.0l4.3 3.5"/>
<path stroke="#faeae0" d="M650.9 168.9l4.2 3.6M645.6 188.4l4.2 -3.6M555.9 211.3l4.2 3.6M613.9 230.8l4.2 -3.6"/>
<path stroke="#c8e0ed" d="M556.4 173.7l3.1 4.5"/>
<path stroke="#ed9475" d="M560.7 174.8l5.0 2.3"/>
<path stroke="#cfe4ef" d="M566.9 173.8l3.2 4.5"/>
<path stroke="#e7876b" d="M571.3 174.9l5.1 2.2"/>
<path stroke="#eb9173" d="M581.8 177.1l5.0 -2.3"/>
<path stroke="#3884bb" d="M588.9 178.7l1.4 -5.3"/>
<path stroke="#3a87bd" d="M594.2 178.6l1.5 -5.3"/>
<path stroke="#abd1e5" d="M598.8 173.6l2.8 4.7"/>
<path stroke="#f6af8f" d="M603.1 174.7l4.8 2.6"/>
<path stroke="#f8bb9e" d="M608.4 174.6l4.7 2.8M608.4 188.0l4.7 -2.8"/>
<path stroke="#f19e7d" d="M613.6 177.2l4.9 -2.4"/>
<path stroke="#b8d8e9" d="M619.8 178.3l2.9 -4.6"/>
<path stroke="#a5cfe3" d="M625.2 178.4l2.7 -4.8"/>
<path stroke="#cde3ef" d="M630.3 178.2l3.2 -4.5"/>
<path stroke="#eff3f6" d="M635.3 174.0l3.8 4.0M598.3 188.6l3.8 -4.0M593.0 262.8l3.8 -4.0M645.8 262.8l3.8 -4.0"/>
<path stroke="#f7f7f7" d="M640.5 174.1l3.9 3.9M635.2 179.4l3.9 3.9M571.8 199.1l3.9 -3.9M614.1 215.0l3.9 -3.9M587.7 230.9l3.9 -3.9"/>
<path stroke="#e3eef3" d="M645.9 173.9l3.6 4.2"/>
<path stroke="#f5f6f7" d="M651.1 174.0l3.9 3.9M614.1 183.3l3.9 -3.9M645.8 179.3l3.9 3.9M614.1 193.9l3.9 -3.9"/>
<path stroke="#b1d5e7" d="M556.5 183.6l2.9 -4.7M588.2 241.9l2.9 -4.7"/>
<path stroke="#fac8ae" d="M560.9 182.8l4.6 -3.0"/>
<path stroke="#f9ece4" d="M566.4 183.1l4.1 -3.6M650.9 188.4l4.1 -3.6M603.4 193.7l4.1 -3.6M645.6 246.7l4.1 -3.6"/>
<path stroke="#c53e3d" d="M571.1 180.6l5.3 1.3M560.6 229.7l5.3 -1.3"/>
<path stroke="#c7423f" d="M576.4 180.6l5.3 1.4M587.0 185.9l5.3 1.4M608.1 196.5l5.3 1.3M650.3 208.5l5.3 -1.4M565.8 244.2l5.3 1.4"/>
<path stroke="#f9c5ab" d="M582.0 182.8l4.6 -2.9M560.9 188.1l4.6 -2.9M650.7 227.5l4.6 2.9"/>
<path stroke="#8b0b25" d="M586.9 181.1l5.5 0.4M565.8 229.2l5.5 -0.4"/>
<path stroke="#780622" d="M592.2 181.2l5.5 0.2M586.9 197.3l5.5 -0.2M639.7 202.4l5.5 0.2M571.0 260.9l5.5 -0.2"/>
<path stroke="#dc6e58" d="M597.6 180.4l5.2 1.9M650.4 196.3l5.2 1.9"/>
<path stroke="#f8f4f1" d="M603.5 183.2l4.0 -3.8"/>
<path stroke="#fddac6" d="M608.5 179.7l4.5 3.2M624.4 214.7l4.5 -3.2"/>
<path stroke="#bfdceb" d="M619.8 183.6l3.0 -4.6"/>
<path stroke="#d5e7f1" d="M624.9 183.5l3.3 -4.4"/>
<path stroke="#fce2d3" d="M629.7 183.0l4.3 -3.4M640.3 225.4l4.3 -3.4"/>
<path stroke="#f0f4f6" d="M640.5 179.3l3.8 4.0M593.0 246.9l3.8 -4.0"/>
<path stroke="#edf2f5" d="M651.1 179.3l3.7 4.0M614.2 220.4l3.7 -4.0M582.5 236.3l3.7 -4.0M593.0 268.1l3.7 -4.0"/>
<path stroke="#4393c3" d="M557.1 189.2l1.7 -5.2M620.5 237.0l1.7 5.2"/>
<path stroke="#add3e6" d="M567.1 184.2l2.8 4.7M635.7 231.9l2.8 4.7"/>
<path stroke="#aad1e5" d="M572.4 184.2l2.8 4.7"/>
<path stroke="#820923" d="M576.3 186.8l5.5 -0.3"/>
<path stroke="#6b0120" d="M581.6 186.6l5.5 0.0M592.2 229.0l5.5 -0.0M571.0 250.2l5.5 0.0"/>
<path stroke="#970f27" d="M592.2 186.9l5.5 -0.6M555.2 207.5l5.5 0.6"/>
<path stroke="#f9f0eb" d="M603.4 188.5l4.0 -3.7M592.9 209.7l4.0 -3.7"/>
<path stroke="#f9ece5" d="M614.0 188.4l4.1 -3.7M614.0 225.5l4.1 -3.7M635.1 241.4l4.1 -3.7"/>
<path stroke="#d8e8f1" d="M619.6 188.8l3.4 -4.4"/>
<path stroke="#bc2c34" d="M623.9 187.1l5.4 -1.1M613.3 239.1l5.4 1.1"/>
<path stroke="#f7f6f6" d="M640.5 188.5l3.9 -3.9"/>
<path stroke="#f8bea1" d="M555.6 193.3l4.7 -2.8"/>
<path stroke="#f5ad8c" d="M560.8 193.2l4.8 -2.6M560.8 246.2l4.8 -2.6M608.3 246.2l4.8 -2.6"/>
<path stroke="#3d8bbf" d="M567.7 194.5l1.5 -5.3"/>
<path stroke="#5fa5cd" d="M572.8 194.5l2.0 -5.1"/>
<path stroke="#940e26" d="M576.3 191.6l5.5 0.5M629.1 239.3l5.5 0.5"/>
<path stroke="#a9d1e5" d="M583.0 189.5l2.8 4.7"/>
<path stroke="#7e0723" d="M586.9 191.8l5.5 0.3M597.4 218.3l5.5 0.3M629.1 255.4l5.5 0.3"/>
<path stroke="#e9f0f4" d="M593.1 194.0l3.7 -4.1M593.1 204.6l3.7 -4.1M614.2 257.6l3.7 -4.1"/>
<path stroke="#f9efe9" d="M598.2 193.8l4.1 -3.7M640.4 230.9l4.1 -3.7"/>
<path stroke="#fac9b0" d="M608.4 193.4l4.6 -3.0M566.2 248.7l4.6 3.0"/>
<path stroke="#fddac5" d="M619.1 193.5l4.5 -3.2M566.3 253.9l4.5 3.2"/>
<path stroke="#ebf1f5" d="M624.7 193.9l3.7 -4.1M603.6 209.8l3.7 -4.1"/>
<path stroke="#fce1d2" d="M629.7 193.6l4.3 -3.4"/>
<path stroke="#3c89be" d="M636.4 189.3l1.5 5.3"/>
<path stroke="#4494c3" d="M641.6 189.3l1.7 5.2"/>
<path stroke="#ec9374" d="M645.2 193.0l5.0 -2.3M571.3 219.5l5.0 -2.3M645.2 217.3l5.0 2.3M624.1 233.2l5.0 2.3M581.8 259.7l5.0 2.3"/>
<path stroke="#dc6f58" d="M650.4 192.8l5.2 -1.9"/>
<path stroke="#d15648" d="M555.3 196.4l5.3 1.6M581.7 201.7l5.3 1.6M587.0 207.0l5.3 1.6M624.0 207.0l5.3 1.6M634.5 260.0l5.3 1.6"/>
<path stroke="#c43b3c" d="M560.6 196.6l5.4 1.3"/>
<path stroke="#f6b293" d="M566.1 198.5l4.8 -2.7"/>
<path stroke="#da6954" d="M576.5 196.3l5.2 1.8"/>
<path stroke="#ee9878" d="M581.9 196.0l5.0 2.4M629.4 246.1l5.0 -2.4"/>
<path stroke="#d1e5f0" d="M593.3 199.4l3.2 -4.4"/>
<path stroke="#f8f2ee" d="M603.5 199.1l4.0 -3.8M603.5 246.8l4.0 -3.8M555.9 257.4l4.0 -3.8M640.4 268.0l4.0 -3.8"/>
<path stroke="#f6f7f7" d="M614.1 199.2l3.9 -3.9M651.0 257.5l3.9 -3.9"/>
<path stroke="#569fca" d="M620.4 194.6l1.9 5.2"/>
<path stroke="#3985bc" d="M625.9 199.9l1.5 -5.3"/>
<path stroke="#c94641" d="M629.2 196.5l5.3 1.4"/>
<path stroke="#facab1" d="M634.8 198.7l4.6 -3.0"/>
<path stroke="#facbb2" d="M640.1 195.7l4.6 3.0M587.3 246.4l4.6 -3.0"/>
<path stroke="#c03338" d="M645.0 196.6l5.4 1.2"/>
<path stroke="#f7b596" d="M555.6 201.1l4.8 2.7"/>
<path stroke="#c33a3b" d="M560.6 203.1l5.4 -1.3M581.7 207.2l5.4 1.3M629.2 212.5l5.4 1.3M581.7 217.8l5.4 1.3M645.0 224.3l5.4 -1.3"/>
<path stroke="#c03438" d="M565.8 201.9l5.4 1.2"/>
<path stroke="#f9c3a8" d="M571.5 201.0l4.7 2.9"/>
<path stroke="#c8433f" d="M576.4 203.2l5.3 -1.4"/>
<path stroke="#ef9a7a" d="M587.1 203.7l5.0 -2.4M566.0 224.9l5.0 -2.4"/>
<path stroke="#f09b7a" d="M597.7 203.7l5.0 -2.4M555.5 262.0l5.0 -2.4"/>
<path stroke="#fbd0b9" d="M603.2 201.0l4.5 3.1"/>
<path stroke="#f5ac8a" d="M608.3 203.8l4.9 -2.6"/>
<path stroke="#4795c4" d="M615.2 205.1l1.7 -5.2"/>
<path stroke="#0d3f76" d="M621.2 205.2l0.2 -5.5"/>
<path stroke="#e4eef4" d="M630.1 204.6l3.6 -4.2"/>
<path stroke="#8c0c25" d="M634.4 202.3l5.5 0.4M623.8 260.6l5.5 0.4"/>
<path stroke="#68001f" d="M645.0 202.5l5.5 0.0"/>
<path stroke="#920e26" d="M650.2 202.7l5.5 -0.5M592.2 218.2l5.5 0.5M597.4 223.5l5.5 0.5"/>
<path stroke="#da6a55" d="M560.6 206.9l5.2 1.8"/>
<path stroke="#e88a6d" d="M566.0 206.7l5.0 2.2M560.7 219.5l5.0 -2.2"/>
<path stroke="#f8f2ef" d="M571.8 205.9l4.0 3.8M651.0 268.0l4.0 -3.8"/>
<path stroke="#fcd8c3" d="M576.8 206.2l4.5 3.2"/>
<path stroke="#f6af8e" d="M597.8 209.1l4.8 -2.6"/>
<path stroke="#860a24" d="M608.0 207.6l5.5 0.4"/>
<path stroke="#3a88bd" d="M615.3 210.4l1.5 -5.3"/>
<path stroke="#2a71b2" d="M620.8 205.1l1.1 5.4"/>
<path stroke="#ef9979" d="M629.4 209.0l5.0 -2.4M592.4 240.8l5.0 -2.4"/>
<path stroke="#790622" d="M634.4 207.9l5.5 -0.2"/>
<path stroke="#f9c4a9" d="M640.1 206.3l4.7 2.9"/>
<path stroke="#c6413e" d="M645.0 207.1l5.3 1.3"/>
<path stroke="#bc2d35" d="M560.5 213.7l5.4 -1.1M597.5 228.4l5.4 1.1M650.3 261.4l5.4 -1.1"/>
<path stroke="#fac6ac" d="M566.2 211.6l4.6 3.0"/>
<path stroke="#ca4741" d="M571.1 213.8l5.3 -1.4"/>
<path stroke="#730421" d="M576.3 213.0l5.5 0.1"/>
<path stroke="#ba2732" d="M581.6 212.6l5.4 1.0"/>
<path stroke="#be2f36" d="M592.2 213.7l5.4 -1.1"/>
<path stroke="#800823" d="M597.4 213.0l5.5 0.3M623.8 255.6l5.5 -0.3"/>
<path stroke="#ee9777" d="M603.0 211.9l5.0 2.3"/>
<path stroke="#d25749" d="M608.1 213.9l5.3 -1.6M587.0 224.5l5.3 -1.6"/>
<path stroke="#a0cce2" d="M620.0 215.5l2.7 -4.8M604.1 253.1l2.7 4.8"/>
<path stroke="#991027" d="M634.4 213.4l5.5 -0.6"/>
<path stroke="#fae9de" d="M640.3 214.9l4.2 -3.6"/>
<path stroke="#cf5247" d="M645.1 213.9l5.3 -1.5M571.1 244.1l5.3 1.5"/>
<path stroke="#740421" d="M650.2 213.0l5.5 0.1M576.3 218.5l5.5 -0.2M576.3 229.1l5.5 -0.1"/>
<path stroke="#fbcfb8" d="M555.7 216.9l4.6 3.1"/>
<path stroke="#6a011f" d="M565.8 218.4l5.5 0.0"/>
<path stroke="#c84540" d="M587.0 219.1l5.3 -1.4"/>
<path stroke="#f1f4f6" d="M603.6 220.4l3.8 -4.0"/>
<path stroke="#fbcdb5" d="M608.5 219.9l4.6 -3.1"/>
<path stroke="#cae1ee" d="M619.7 216.1l3.2 4.5"/>
<path stroke="#307ab6" d="M626.0 215.7l1.2 5.4"/>
<path stroke="#ba2833" d="M629.2 218.9l5.4 -1.0"/>
<path stroke="#e98c6f" d="M634.6 219.5l5.0 -2.2"/>
<path stroke="#f8f4f2" d="M640.5 220.3l3.9 -3.8M598.2 236.2l3.9 -3.8M624.6 248.3l3.9 3.8"/>
<path stroke="#cc4d44" d="M650.3 217.7l5.3 1.5M650.3 233.6l5.3 1.5"/>
<path stroke="#750521" d="M555.2 223.8l5.5 -0.2M618.6 260.9l5.5 -0.2"/>
<path stroke="#7d0722" d="M560.5 223.8l5.5 -0.2"/>
<path stroke="#b6212f" d="M571.1 224.2l5.4 -1.0M645.0 228.5l5.4 1.0"/>
<path stroke="#981027" d="M576.3 224.0l5.5 -0.6"/>
<path stroke="#6d0220" d="M581.6 223.7l5.5 -0.1"/>
<path stroke="#770522" d="M592.2 223.8l5.5 -0.2"/>
<path stroke="#8d0c25" d="M602.7 223.5l5.5 0.4"/>
<path stroke="#d65f4d" d="M608.1 222.9l5.2 1.7"/>
<path stroke="#9ac9e0" d="M620.0 226.1l2.6 -4.9"/>
<path stroke="#4191c2" d="M625.8 221.1l1.7 5.2"/>
<path stroke="#f7b89b" d="M629.5 222.3l4.8 2.8"/>
<path stroke="#fbd1ba" d="M634.9 222.2l4.5 3.1"/>
<path stroke="#810823" d="M650.2 223.8l5.5 -0.3"/>
<path stroke="#f6b091" d="M571.4 230.3l4.8 -2.7M624.2 264.8l4.8 2.7"/>
<path stroke="#bbdaea" d="M582.9 231.3l3.0 -4.6"/>
<path stroke="#f4f6f7" d="M603.5 231.0l3.8 -3.9M608.8 241.6l3.8 -3.9"/>
<path stroke="#d4e6f0" d="M609.1 226.8l3.3 4.4"/>
<path stroke="#bb2a34" d="M618.6 228.5l5.4 1.1"/>
<path stroke="#fbe2d3" d="M624.4 230.7l4.3 -3.4"/>
<path stroke="#fcd3bd" d="M629.6 230.6l4.5 -3.1"/>
<path stroke="#db6c56" d="M634.6 229.9l5.2 -1.8"/>
<path stroke="#d05548" d="M555.3 233.5l5.3 1.6"/>
<path stroke="#b82431" d="M560.5 234.8l5.4 -1.0"/>
<path stroke="#9fcbe2" d="M567.2 236.7l2.6 -4.8"/>
<path stroke="#e6866a" d="M571.3 235.4l5.1 -2.1"/>
<path stroke="#bf3237" d="M576.4 234.9l5.4 -1.2"/>
<path stroke="#fac7ae" d="M587.3 235.8l4.6 -3.0M560.9 254.0l4.6 3.0"/>
<path stroke="#8f0d25" d="M602.7 234.1l5.5 0.5M581.6 250.0l5.5 0.5"/>
<path stroke="#cb4a43" d="M608.1 233.6l5.3 1.5"/>
<path stroke="#d0e4f0" d="M614.4 236.5l3.2 -4.5"/>
<path stroke="#e7866a" d="M618.8 233.2l5.1 2.1"/>
<path stroke="#f7f5f3" d="M629.9 236.2l3.9 -3.8"/>
<path stroke="#b9d9e9" d="M640.9 232.0l3.0 4.6"/>
<path stroke="#f8bca0" d="M645.3 235.7l4.7 -2.8"/>
<path stroke="#f8bda1" d="M555.6 241.0l4.7 -2.8"/>
<path stroke="#7c0722" d="M560.5 239.7l5.5 -0.2"/>
<path stroke="#930e26" d="M565.8 239.3l5.5 0.5"/>
<path stroke="#d7624f" d="M571.2 238.7l5.2 1.7"/>
<path stroke="#d55e4c" d="M576.4 238.8l5.2 1.7"/>
<path stroke="#f9c1a6" d="M582.0 241.0l4.7 -2.9"/>
<path stroke="#d4e7f1" d="M598.5 241.8l3.3 -4.4"/>
<path stroke="#880b24" d="M602.7 239.4l5.5 0.4"/>
<path stroke="#f4a481" d="M624.1 240.8l4.9 -2.5"/>
<path stroke="#3580b9" d="M641.8 236.9l1.3 5.3"/>
<path stroke="#fbd1bb" d="M645.4 241.2l4.5 -3.1"/>
<path stroke="#509bc8" d="M652.1 237.0l1.8 5.2"/>
<path stroke="#f9ede6" d="M555.9 246.7l4.1 -3.7"/>
<path stroke="#d45d4b" d="M576.4 244.1l5.2 1.7"/>
<path stroke="#eef3f5" d="M582.5 246.9l3.7 -4.0"/>
<path stroke="#8cc1dc" d="M599.0 247.4l2.4 -4.9"/>
<path stroke="#f4f5f6" d="M614.1 246.9l3.8 -3.9"/>
<path stroke="#f2a07e" d="M618.8 243.7l4.9 2.4"/>
<path stroke="#910d26" d="M623.8 245.1l5.5 -0.5"/>
<path stroke="#f8f1ed" d="M640.4 246.8l4.0 -3.8"/>
<path stroke="#2f79b5" d="M652.4 242.2l1.2 5.4"/>
<path stroke="#3783bb" d="M557.2 252.9l1.4 -5.3"/>
<path stroke="#f6b495" d="M560.8 251.6l4.8 -2.7"/>
<path stroke="#8e0d25" d="M576.3 250.4l5.5 -0.5"/>
<path stroke="#fbe4d6" d="M587.5 251.9l4.3 -3.4M608.6 257.2l4.3 -3.4"/>
<path stroke="#f19f7d" d="M592.4 251.4l4.9 -2.4"/>
<path stroke="#fcd6c0" d="M597.9 251.8l4.5 -3.2"/>
<path stroke="#f8bfa4" d="M603.1 251.6l4.7 -2.9"/>
<path stroke="#d7624e" d="M608.1 249.3l5.2 1.7"/>
<path stroke="#eaf1f5" d="M614.2 252.2l3.7 -4.1"/>
<path stroke="#ec9273" d="M618.8 251.3l5.0 -2.3M639.9 261.9l5.0 -2.3"/>
<path stroke="#fbe5d8" d="M629.7 251.9l4.3 -3.5"/>
<path stroke="#114680" d="M637.0 252.9l0.4 -5.5"/>
<path stroke="#114882" d="M642.2 252.9l0.4 -5.5"/>
<path stroke="#f3f5f6" d="M645.8 252.2l3.8 -4.0"/>
<path stroke="#2970b1" d="M652.5 247.5l1.0 5.4"/>
<path stroke="#ce5045" d="M571.1 256.3l5.3 -1.5"/>
<path stroke="#880a24" d="M576.3 255.7l5.5 -0.4"/>
<path stroke="#7f0823" d="M581.6 255.6l5.5 -0.3"/>
<path stroke="#d35a4a" d="M587.0 254.7l5.3 1.6"/>
<path stroke="#830924" d="M592.2 255.3l5.5 0.3"/>
<path stroke="#cb4a42" d="M597.5 254.8l5.3 1.4"/>
<path stroke="#4a97c5" d="M620.4 252.9l1.8 5.2"/>
<path stroke="#2c74b3" d="M636.6 258.2l1.1 -5.4"/>
<path stroke="#f8f5f3" d="M640.5 257.4l3.9 -3.8"/>
<path stroke="#d3e6f0" d="M646.1 257.7l3.3 -4.4"/>
<path stroke="#840924" d="M560.5 260.6l5.5 0.3"/>
<path stroke="#4190c2" d="M567.7 258.2l1.7 5.2"/>
<path stroke="#6e0220" d="M576.3 260.8l5.5 -0.1"/>
<path stroke="#7a0622" d="M586.9 260.9l5.5 -0.2"/>
<path stroke="#c6403e" d="M597.5 261.5l5.3 -1.3"/>
<path stroke="#e7eff4" d="M603.7 262.9l3.6 -4.1"/>
<path stroke="#a8d0e4" d="M614.6 258.4l2.8 4.8"/>
<path stroke="#710321" d="M629.1 260.9l5.5 -0.1"/>
<path stroke="#f4a785" d="M555.5 267.4l4.9 -2.5"/>
<path stroke="#c0dceb" d="M561.7 268.4l3.0 -4.6"/>
<path stroke="#f9eee7" d="M566.5 267.9l4.1 -3.7"/>
<path stroke="#4b98c6" d="M572.9 268.7l1.8 -5.2"/>
<path stroke="#fae7dc" d="M577.0 267.9l4.2 -3.5"/>
<path stroke="#7b0622" d="M581.6 266.0l5.5 0.2"/>
<path stroke="#57a0ca" d="M599.2 263.5l1.9 5.2"/>
<path stroke="#62a6ce" d="M604.5 263.5l2.0 5.1"/>
<path stroke="#91c4de" d="M609.5 268.6l2.5 -4.9"/>
<path stroke="#fae9df" d="M613.9 267.9l4.2 -3.6"/>
<path stroke="#fbe5d9" d="M619.2 267.8l4.3 -3.5"/>
<path stroke="#c13639" d="M629.2 265.5l5.4 1.2"/>
<path stroke="#f9f0ea" d="M635.1 268.0l4.0 -3.7"/>
<path stroke="#63a7ce" d="M646.7 263.5l2.0 5.1"/>
</g></g>
<rect x="553.30" y="165.40" width="105.60" height="105.90" fill="none" stroke="#c4c4c4" stroke-width="1"/>
<path d="M573.79 165.40v1.5M573.79 271.30v-1.5M553.30 186.60h1.5M658.90 186.60h-1.5M600.19 165.40v1.5M600.19 271.30v-1.5M553.30 213.10h1.5M658.90 213.10h-1.5M626.59 165.40v1.5M626.59 271.30v-1.5M553.30 239.60h1.5M658.90 239.60h-1.5M652.99 165.40v1.5M652.99 271.30v-1.5M553.30 266.10h1.5M658.90 266.10h-1.5" stroke="#b0b0b0" stroke-width="0.7" fill="none"/>
<text x="573.79" y="280.80" font-size="8" text-anchor="middle" fill="#262626" color="#262626">5</text>
<text x="550.60" y="189.30" font-size="8" text-anchor="end" fill="#262626" color="#262626">5</text>
<text x="600.19" y="280.80" font-size="8" text-anchor="middle" fill="#262626" color="#262626">10</text>
<text x="550.60" y="215.80" font-size="8" text-anchor="end" fill="#262626" color="#262626">10</text>
<text x="626.59" y="280.80" font-size="8" text-anchor="middle" fill="#262626" color="#262626">15</text>
<text x="550.60" y="242.30" font-size="8" text-anchor="end" fill="#262626" color="#262626">15</text>
<text x="652.99" y="280.80" font-size="8" text-anchor="middle" fill="#262626" color="#262626">20</text>
<text x="550.60" y="268.80" font-size="8" text-anchor="end" fill="#262626" color="#262626">20</text>
<text x="606.10" y="291.60" font-size="8.6" text-anchor="middle" fill="#262626" color="#262626">X</text>
<text transform="translate(538.90 218.35) rotate(-90)" font-size="8.6" text-anchor="middle" fill="#262626" color="#262626">Y</text>
<text x="607.80" y="161.00" font-size="14.5" text-anchor="middle" fill="#000" color="#000">t=1200</text>
<rect x="630.72" y="166.40" width="26.98" height="22" fill="#fff"/>
<text x="656.20" y="182.60" font-size="16.9" text-anchor="end" textLength="23.98" lengthAdjust="spacingAndGlyphs" fill="#000" color="#000">(VI)</text>
<rect x="617.20" y="209.80" width="27.00" height="20.90" rx="3.6" fill="none" stroke="#000" stroke-width="1.9"/>
<linearGradient id="cb1" x1="0" y1="1" x2="0" y2="0"><stop offset="0.00" stop-color="#67001f"/><stop offset="0.10" stop-color="#b2182b"/><stop offset="0.20" stop-color="#d6604d"/><stop offset="0.30" stop-color="#f4a582"/><stop offset="0.40" stop-color="#fddbc7"/><stop offset="0.50" stop-color="#f7f7f7"/><stop offset="0.60" stop-color="#d1e5f0"/><stop offset="0.70" stop-color="#92c5de"/><stop offset="0.80" stop-color="#4393c3"/><stop offset="0.90" stop-color="#2166ac"/><stop offset="1.00" stop-color="#053061"/></linearGradient>
<rect x="659.60" y="19.60" width="5.0" height="104.90" fill="url(#cb1)" stroke="#505050" stroke-width="0.7"/>
<path d="M659.60 30.09h0.9M664.60 30.09h-0.9M659.60 40.58h0.9M664.60 40.58h-0.9M659.60 51.07h0.9M664.60 51.07h-0.9M659.60 61.56h0.9M664.60 61.56h-0.9M659.60 72.05h0.9M664.60 72.05h-0.9M659.60 82.54h0.9M664.60 82.54h-0.9M659.60 93.03h0.9M664.60 93.03h-0.9M659.60 103.52h0.9M664.60 103.52h-0.9M659.60 114.01h0.9M664.60 114.01h-0.9" stroke="#505050" stroke-width="0.5"/>
<text x="664.3" y="21.20" font-size="13" fill="#000" color="#000">90<tspan font-size="11.5" dx="0.2" dy="-3.6">o</tspan></text>
<text x="667.2" y="131.30" font-size="13" fill="#000" color="#000">0<tspan font-size="11.5" dx="0.2" dy="-3.6">o</tspan></text>
<text transform="translate(677.4 111.90) rotate(-90)" font-size="12.5" fill="#000" color="#000">Degree<tspan x="44.3">|</tspan><tspan x="48.8" font-style="italic">θ</tspan><tspan x="60.6">|</tspan></text>
<linearGradient id="cb2" x1="0" y1="1" x2="0" y2="0"><stop offset="0.00" stop-color="#67001f"/><stop offset="0.10" stop-color="#b2182b"/><stop offset="0.20" stop-color="#d6604d"/><stop offset="0.30" stop-color="#f4a582"/><stop offset="0.40" stop-color="#fddbc7"/><stop offset="0.50" stop-color="#f7f7f7"/><stop offset="0.60" stop-color="#d1e5f0"/><stop offset="0.70" stop-color="#92c5de"/><stop offset="0.80" stop-color="#4393c3"/><stop offset="0.90" stop-color="#2166ac"/><stop offset="1.00" stop-color="#053061"/></linearGradient>
<rect x="659.60" y="166.60" width="5.0" height="104.60" fill="url(#cb2)" stroke="#505050" stroke-width="0.7"/>
<path d="M659.60 177.06h0.9M664.60 177.06h-0.9M659.60 187.52h0.9M664.60 187.52h-0.9M659.60 197.98h0.9M664.60 197.98h-0.9M659.60 208.44h0.9M664.60 208.44h-0.9M659.60 218.90h0.9M664.60 218.90h-0.9M659.60 229.36h0.9M664.60 229.36h-0.9M659.60 239.82h0.9M664.60 239.82h-0.9M659.60 250.28h0.9M664.60 250.28h-0.9M659.60 260.74h0.9M664.60 260.74h-0.9" stroke="#505050" stroke-width="0.5"/>
<text x="664.3" y="167.10" font-size="13" fill="#000" color="#000">90<tspan font-size="11.5" dx="0.2" dy="-3.6">o</tspan></text>
<text x="667.2" y="277.20" font-size="13" fill="#000" color="#000">0<tspan font-size="11.5" dx="0.2" dy="-3.6">o</tspan></text>
<text transform="translate(677.4 257.80) rotate(-90)" font-size="12.5" fill="#000" color="#000">Degree<tspan x="44.3">|</tspan><tspan x="48.8" font-style="italic">θ</tspan><tspan x="60.6">|</tspan></text>
<line x1="130.00" y1="106.90" x2="160.20" y2="106.90" stroke="#ff3399" stroke-width="2.20"/>
<path d="M166.20 106.90L158.40 103.05L159.80 106.90L158.40 110.75Z" fill="#ff3399"/>
<line x1="523.30" y1="106.90" x2="553.80" y2="106.90" stroke="#ff3399" stroke-width="2.20"/>
<path d="M559.80 106.90L552.00 103.05L553.40 106.90L552.00 110.75Z" fill="#ff3399"/>
<line x1="643.80" y1="129.90" x2="643.80" y2="153.00" stroke="#ff3399" stroke-width="2.20"/>
<path d="M643.80 159.00L639.60 151.20L643.80 152.60L648.00 151.20Z" fill="#ff3399"/>
<line x1="166.40" y1="176.60" x2="136.90" y2="176.60" stroke="#ff3399" stroke-width="2.20"/>
<path d="M130.90 176.60L138.70 172.75L137.30 176.60L138.70 180.45Z" fill="#ff3399"/>
<line x1="561.70" y1="176.60" x2="532.30" y2="176.60" stroke="#ff3399" stroke-width="2.20"/>
<path d="M526.30 176.60L534.10 172.75L532.70 176.60L534.10 180.45Z" fill="#ff3399"/>
<text x="1.5" y="321.2" font-size="26" textLength="29.2" lengthAdjust="spacingAndGlyphs" fill="#000" color="#000">(b)</text>
<text x="75.20" y="337.1" font-size="14.8" text-anchor="middle" fill="#000" color="#000">t=200</text>
<clipPath id="bcp0"><rect x="27.00" y="345.90" width="104.00" height="83.00" rx="10.5"/></clipPath>
<g clip-path="url(#bcp0)" stroke-width="3.8">
<line x1="28.3" y1="369.3" x2="36.1" y2="351.4" stroke="#6baed6"/>
<line x1="49.0" y1="340.0" x2="49.0" y2="353.3" stroke="#08306b"/>
<line x1="46.4" y1="372.2" x2="53.3" y2="350.8" stroke="#3182bd"/>
<line x1="62.0" y1="369.3" x2="75.7" y2="352.7" stroke="#9ecae1"/>
<line x1="58.0" y1="349.5" x2="70.0" y2="345.5" stroke="#fddbc7"/>
<line x1="24.0" y1="387.0" x2="39.6" y2="374.1" stroke="#fddbc7"/>
<line x1="43.5" y1="389.7" x2="56.2" y2="371.2" stroke="#c6dbef"/>
<line x1="68.5" y1="369.3" x2="69.3" y2="390.7" stroke="#08306b"/>
<line x1="24.0" y1="402.0" x2="38.6" y2="391.7" stroke="#f0f0f0"/>
<line x1="40.6" y1="392.7" x2="59.1" y2="405.9" stroke="#fcbba1"/>
<line x1="66.9" y1="409.2" x2="70.8" y2="388.8" stroke="#2171b5"/>
<line x1="25.0" y1="429.0" x2="37.3" y2="409.2" stroke="#9ecae1"/>
<line x1="45.5" y1="433.0" x2="52.9" y2="407.8" stroke="#2171b5"/>
<line x1="67.9" y1="408.2" x2="70.2" y2="433.0" stroke="#08306b"/>
<line x1="85.0" y1="345.5" x2="97.4" y2="349.8" stroke="#fddbc7"/>
<line x1="104.5" y1="342.0" x2="110.1" y2="353.0" stroke="#3182bd"/>
<line x1="119.8" y1="351.7" x2="126.0" y2="343.0" stroke="#9ecae1"/>
<line x1="77.9" y1="366.4" x2="97.4" y2="356.0" stroke="#f4a582"/>
<line x1="95.5" y1="360.5" x2="115.9" y2="363.0" stroke="#8b0a26"/>
<line x1="114.9" y1="363.0" x2="135.0" y2="360.0" stroke="#a50f26"/>
<line x1="78.9" y1="387.2" x2="96.4" y2="374.1" stroke="#fddbc7"/>
<line x1="95.9" y1="382.3" x2="117.8" y2="378.0" stroke="#b2182b"/>
<line x1="119.8" y1="371.2" x2="133.0" y2="393.0" stroke="#9ecae1"/>
<line x1="79.9" y1="406.3" x2="96.4" y2="391.7" stroke="#f3eeec"/>
<line x1="96.4" y1="404.3" x2="117.8" y2="394.6" stroke="#e7785f"/>
<line x1="119.8" y1="389.7" x2="133.0" y2="409.5" stroke="#9ecae1"/>
<line x1="77.0" y1="414.5" x2="99.4" y2="422.3" stroke="#d6604d"/>
<line x1="101.5" y1="433.0" x2="111.0" y2="408.2" stroke="#4292c6"/>
<line x1="126.2" y1="407.3" x2="127.2" y2="433.0" stroke="#08306b"/>
</g>
<rect x="25.40" y="344.30" width="107.20" height="86.20" rx="12" fill="none" stroke="#000" stroke-width="1.7"/>
<text x="215.50" y="337.1" font-size="14.8" text-anchor="middle" fill="#000" color="#000">t=600</text>
<clipPath id="bcp1"><rect x="167.60" y="345.40" width="102.20" height="82.50" rx="10.5"/></clipPath>
<g clip-path="url(#bcp1)" stroke-width="3.8">
<line x1="181.0" y1="343.0" x2="185.5" y2="347.5" stroke="#d1e5f0"/>
<line x1="188.0" y1="343.0" x2="192.5" y2="347.0" stroke="#d1e5f0"/>
<line x1="208.5" y1="343.0" x2="213.0" y2="347.5" stroke="#d1e5f0"/>
<line x1="171.4" y1="362.5" x2="188.4" y2="351.7" stroke="#f4a582"/>
<line x1="185.9" y1="359.5" x2="209.9" y2="357.2" stroke="#8b0a26"/>
<line x1="207.0" y1="362.0" x2="228.7" y2="353.3" stroke="#e48066"/>
<line x1="171.4" y1="383.9" x2="187.8" y2="370.8" stroke="#fddbc7"/>
<line x1="185.9" y1="381.9" x2="209.3" y2="376.1" stroke="#b2182b"/>
<line x1="206.0" y1="380.0" x2="229.6" y2="376.1" stroke="#b2182b"/>
<line x1="170.8" y1="395.6" x2="189.4" y2="401.4" stroke="#c83c3c"/>
<line x1="187.0" y1="392.7" x2="208.9" y2="404.3" stroke="#f4a582"/>
<line x1="214.5" y1="409.0" x2="221.8" y2="387.2" stroke="#3182bd"/>
<line x1="171.4" y1="421.9" x2="189.0" y2="413.1" stroke="#e7845f"/>
<line x1="190.3" y1="409.2" x2="205.0" y2="425.8" stroke="#d1e5f0"/>
<line x1="206.5" y1="422.0" x2="228.7" y2="415.6" stroke="#c0303a"/>
<line x1="228.1" y1="352.7" x2="249.1" y2="363.0" stroke="#e48066"/>
<line x1="246.2" y1="356.0" x2="270.5" y2="358.6" stroke="#a50f26"/>
<line x1="267.6" y1="359.5" x2="275.0" y2="363.0" stroke="#e7785f"/>
<line x1="226.7" y1="379.0" x2="249.1" y2="377.0" stroke="#8b0a26"/>
<line x1="247.1" y1="376.7" x2="272.0" y2="379.2" stroke="#8b0a26"/>
<line x1="227.7" y1="392.3" x2="248.1" y2="404.3" stroke="#f4a582"/>
<line x1="248.1" y1="392.3" x2="268.5" y2="404.0" stroke="#f4a582"/>
<line x1="268.5" y1="408.0" x2="275.0" y2="412.0" stroke="#f4a582"/>
<line x1="227.3" y1="413.7" x2="248.7" y2="422.8" stroke="#e0745a"/>
<line x1="246.2" y1="416.0" x2="270.1" y2="420.5" stroke="#b2182b"/>
<line x1="215.0" y1="426.5" x2="222.0" y2="427.3" stroke="#d1e5f0"/>
</g>
<rect x="166.00" y="343.80" width="105.40" height="85.70" rx="12" fill="none" stroke="#000" stroke-width="1.7"/>
<text x="351.40" y="337.1" font-size="14.8" text-anchor="middle" fill="#000" color="#000">t=1800</text>
<clipPath id="bcp2"><rect x="306.40" y="345.40" width="103.70" height="82.50" rx="10.5"/></clipPath>
<g clip-path="url(#bcp2)" stroke-width="3.8">
<line x1="310.0" y1="344.5" x2="324.4" y2="348.8" stroke="#fddbc7"/>
<line x1="340.0" y1="351.7" x2="347.5" y2="343.0" stroke="#9ecae1"/>
<line x1="357.0" y1="349.8" x2="366.0" y2="345.5" stroke="#fddbc7"/>
<line x1="302.0" y1="360.0" x2="318.6" y2="365.4" stroke="#d6604d"/>
<line x1="319.5" y1="370.2" x2="335.1" y2="353.7" stroke="#deebf7"/>
<line x1="340.0" y1="371.2" x2="354.0" y2="352.7" stroke="#c6dbef"/>
<line x1="355.0" y1="361.5" x2="378.4" y2="361.1" stroke="#67001f"/>
<line x1="302.0" y1="377.0" x2="317.6" y2="387.8" stroke="#fcbba1"/>
<line x1="323.4" y1="391.7" x2="331.2" y2="370.8" stroke="#3182bd"/>
<line x1="338.0" y1="389.7" x2="354.6" y2="374.1" stroke="#f4f4f4"/>
<line x1="353.0" y1="384.5" x2="376.4" y2="378.6" stroke="#c83c3c"/>
<line x1="305.5" y1="412.0" x2="310.4" y2="389.7" stroke="#2166ac"/>
<line x1="316.2" y1="406.3" x2="338.0" y2="396.5" stroke="#e7785f"/>
<line x1="339.0" y1="394.6" x2="355.5" y2="408.2" stroke="#f7ece6"/>
<line x1="304.0" y1="428.0" x2="312.7" y2="409.8" stroke="#6baed6"/>
<line x1="316.2" y1="423.8" x2="339.0" y2="417.0" stroke="#d6604d"/>
<line x1="344.8" y1="423.8" x2="349.7" y2="409.2" stroke="#2171b5"/>
<line x1="379.3" y1="351.7" x2="387.0" y2="343.0" stroke="#9ecae1"/>
<line x1="376.8" y1="368.3" x2="395.9" y2="355.2" stroke="#fdc9b0"/>
<line x1="393.9" y1="361.9" x2="413.0" y2="361.9" stroke="#67001f"/>
<line x1="376.0" y1="376.7" x2="396.8" y2="386.4" stroke="#e7785f"/>
<line x1="394.9" y1="377.1" x2="413.0" y2="384.3" stroke="#e7785f"/>
<line x1="357.9" y1="393.6" x2="375.4" y2="408.2" stroke="#fbe3d6"/>
<line x1="376.8" y1="394.2" x2="395.9" y2="407.3" stroke="#fcbba1"/>
<line x1="394.9" y1="397.5" x2="413.0" y2="403.5" stroke="#d6604d"/>
<line x1="363.8" y1="409.2" x2="368.2" y2="424.8" stroke="#2171b5"/>
<line x1="375.4" y1="415.6" x2="396.8" y2="424.8" stroke="#e7785f"/>
<line x1="393.9" y1="419.9" x2="413.0" y2="421.6" stroke="#67001f"/>
</g>
<rect x="304.80" y="343.80" width="106.90" height="85.70" rx="12" fill="none" stroke="#000" stroke-width="1.7"/>
<line x1="139.30" y1="386.70" x2="153.30" y2="386.70" stroke="#33b400" stroke-width="2.2"/>
<path d="M158.30 386.70L150.30 382.20L151.80 386.70L150.30 391.20Z" fill="#33b400"/>
<line x1="277.00" y1="387.00" x2="292.00" y2="387.00" stroke="#33b400" stroke-width="2.2"/>
<path d="M297.00 387.00L289.00 382.50L290.50 387.00L289.00 391.50Z" fill="#33b400"/>
<text x="413.3" y="321.2" font-size="26" textLength="28.4" lengthAdjust="spacingAndGlyphs" fill="#000" color="#000">(c)</text>
<g fill="none" stroke="#c8c8c8" stroke-width="0.5">
<polyline stroke="#dcdcdc" stroke-dasharray="1.2 1.2" points="476.6,416.4 481.9,402.0 487.3,394.0 492.6,378.0 497.9,374.1 503.2,366.8 508.5,367.3 513.8,362.0 519.2,360.9 524.5,359.6 529.8,355.5 535.1,356.9 540.4,353.2 545.7,349.3 551.1,349.4 556.4,349.2 561.7,342.0 567.0,345.8 572.3,346.3 577.6,343.7 583.0,344.3 588.3,343.2 593.6,342.3 598.9,336.1 604.2,340.0 609.5,339.0 614.9,337.2 620.2,333.5 625.5,338.3 630.8,339.3"/>
<path d="M476.6 416.4a1.1 1.1 0 1 0 0.01 0M481.9 402.0a1.1 1.1 0 1 0 0.01 0M487.2 394.0a1.1 1.1 0 1 0 0.01 0M492.6 378.0a1.1 1.1 0 1 0 0.01 0M497.9 374.1a1.1 1.1 0 1 0 0.01 0M503.2 366.8a1.1 1.1 0 1 0 0.01 0M508.5 367.3a1.1 1.1 0 1 0 0.01 0M513.8 362.0a1.1 1.1 0 1 0 0.01 0M519.1 360.9a1.1 1.1 0 1 0 0.01 0M524.5 359.6a1.1 1.1 0 1 0 0.01 0M529.8 355.5a1.1 1.1 0 1 0 0.01 0M535.1 356.9a1.1 1.1 0 1 0 0.01 0M540.4 353.2a1.1 1.1 0 1 0 0.01 0M545.7 349.3a1.1 1.1 0 1 0 0.01 0M551.1 349.4a1.1 1.1 0 1 0 0.01 0M556.4 349.2a1.1 1.1 0 1 0 0.01 0M561.7 342.0a1.1 1.1 0 1 0 0.01 0M567.0 345.8a1.1 1.1 0 1 0 0.01 0M572.3 346.3a1.1 1.1 0 1 0 0.01 0M577.6 343.7a1.1 1.1 0 1 0 0.01 0M583.0 344.3a1.1 1.1 0 1 0 0.01 0M588.3 343.2a1.1 1.1 0 1 0 0.01 0M593.6 342.3a1.1 1.1 0 1 0 0.01 0M598.9 336.1a1.1 1.1 0 1 0 0.01 0M604.2 340.0a1.1 1.1 0 1 0 0.01 0M609.5 339.0a1.1 1.1 0 1 0 0.01 0M614.9 337.2a1.1 1.1 0 1 0 0.01 0M620.2 333.5a1.1 1.1 0 1 0 0.01 0M625.5 338.3a1.1 1.1 0 1 0 0.01 0M630.8 339.3a1.1 1.1 0 1 0 0.01 0"/>
<polyline stroke="#dcdcdc" stroke-dasharray="1.2 1.2" points="476.6,405.5 481.9,400.6 487.3,394.8 492.6,389.7 497.9,376.3 503.2,374.2 508.5,370.0 513.8,364.8 519.2,362.6 524.5,360.0 529.8,359.6 535.1,353.7 540.4,351.5 545.7,353.3 551.1,353.0 556.4,349.0 561.7,348.4 567.0,350.8 572.3,348.4 577.6,343.9 583.0,345.6 588.3,345.3 593.6,343.3 598.9,343.1 604.2,342.3 609.5,346.0 614.9,336.9 620.2,339.8 625.5,341.7 630.8,336.8"/>
<path d="M476.6 405.5a1.1 1.1 0 1 0 0.01 0M481.9 400.6a1.1 1.1 0 1 0 0.01 0M487.2 394.8a1.1 1.1 0 1 0 0.01 0M492.6 389.7a1.1 1.1 0 1 0 0.01 0M497.9 376.3a1.1 1.1 0 1 0 0.01 0M503.2 374.2a1.1 1.1 0 1 0 0.01 0M508.5 370.0a1.1 1.1 0 1 0 0.01 0M513.8 364.8a1.1 1.1 0 1 0 0.01 0M519.1 362.6a1.1 1.1 0 1 0 0.01 0M524.5 360.0a1.1 1.1 0 1 0 0.01 0M529.8 359.6a1.1 1.1 0 1 0 0.01 0M535.1 353.7a1.1 1.1 0 1 0 0.01 0M540.4 351.5a1.1 1.1 0 1 0 0.01 0M545.7 353.3a1.1 1.1 0 1 0 0.01 0M551.1 353.0a1.1 1.1 0 1 0 0.01 0M556.4 349.0a1.1 1.1 0 1 0 0.01 0M561.7 348.4a1.1 1.1 0 1 0 0.01 0M567.0 350.8a1.1 1.1 0 1 0 0.01 0M572.3 348.4a1.1 1.1 0 1 0 0.01 0M577.6 343.9a1.1 1.1 0 1 0 0.01 0M583.0 345.6a1.1 1.1 0 1 0 0.01 0M588.3 345.3a1.1 1.1 0 1 0 0.01 0M593.6 343.3a1.1 1.1 0 1 0 0.01 0M598.9 343.1a1.1 1.1 0 1 0 0.01 0M604.2 342.3a1.1 1.1 0 1 0 0.01 0M609.5 346.0a1.1 1.1 0 1 0 0.01 0M614.9 336.9a1.1 1.1 0 1 0 0.01 0M620.2 339.8a1.1 1.1 0 1 0 0.01 0M625.5 341.7a1.1 1.1 0 1 0 0.01 0M630.8 336.8a1.1 1.1 0 1 0 0.01 0"/>
<polyline stroke="#dcdcdc" stroke-dasharray="1.2 1.2" points="476.6,399.7 481.9,427.0 487.3,416.1 492.6,404.3 497.9,404.0 503.2,396.9 508.5,389.1 513.8,390.8 519.2,384.1 524.5,377.6 529.8,375.5 535.1,374.3 540.4,377.9 545.7,366.2 551.1,368.6 556.4,366.5 561.7,365.6 567.0,369.3 572.3,367.4 577.6,365.7 583.0,357.4 588.3,362.7 593.6,360.3 598.9,359.4 604.2,356.6 609.5,355.9 614.9,355.6 620.2,358.4 625.5,361.9 630.8,353.6"/>
<path d="M476.6 399.7a1.1 1.1 0 1 0 0.01 0M481.9 427.0a1.1 1.1 0 1 0 0.01 0M487.2 416.1a1.1 1.1 0 1 0 0.01 0M492.6 404.3a1.1 1.1 0 1 0 0.01 0M497.9 404.0a1.1 1.1 0 1 0 0.01 0M503.2 396.9a1.1 1.1 0 1 0 0.01 0M508.5 389.1a1.1 1.1 0 1 0 0.01 0M513.8 390.8a1.1 1.1 0 1 0 0.01 0M519.1 384.1a1.1 1.1 0 1 0 0.01 0M524.5 377.6a1.1 1.1 0 1 0 0.01 0M529.8 375.5a1.1 1.1 0 1 0 0.01 0M535.1 374.3a1.1 1.1 0 1 0 0.01 0M540.4 377.9a1.1 1.1 0 1 0 0.01 0M545.7 366.2a1.1 1.1 0 1 0 0.01 0M551.1 368.6a1.1 1.1 0 1 0 0.01 0M556.4 366.5a1.1 1.1 0 1 0 0.01 0M561.7 365.6a1.1 1.1 0 1 0 0.01 0M567.0 369.3a1.1 1.1 0 1 0 0.01 0M572.3 367.4a1.1 1.1 0 1 0 0.01 0M577.6 365.7a1.1 1.1 0 1 0 0.01 0M583.0 357.4a1.1 1.1 0 1 0 0.01 0M588.3 362.7a1.1 1.1 0 1 0 0.01 0M593.6 360.3a1.1 1.1 0 1 0 0.01 0M598.9 359.4a1.1 1.1 0 1 0 0.01 0M604.2 356.6a1.1 1.1 0 1 0 0.01 0M609.5 355.9a1.1 1.1 0 1 0 0.01 0M614.9 355.6a1.1 1.1 0 1 0 0.01 0M620.2 358.4a1.1 1.1 0 1 0 0.01 0M625.5 361.9a1.1 1.1 0 1 0 0.01 0M630.8 353.6a1.1 1.1 0 1 0 0.01 0"/>
<polyline stroke="#dcdcdc" stroke-dasharray="1.2 1.2" points="476.6,410.2 481.9,383.9 487.3,377.3 492.6,368.9 497.9,363.6 503.2,356.6 508.5,349.1 513.8,349.4 519.2,346.2 524.5,346.3 529.8,344.4 535.1,344.5 540.4,342.7 545.7,346.7 551.1,343.9 556.4,344.0 561.7,339.2 567.0,339.6 572.3,338.5 577.6,337.5 583.0,341.8 588.3,338.7 593.6,336.6 598.9,341.1 604.2,338.6 609.5,341.5 614.9,344.8 620.2,340.8 625.5,343.0 630.8,340.8"/>
<path d="M476.6 410.2a1.1 1.1 0 1 0 0.01 0M481.9 383.9a1.1 1.1 0 1 0 0.01 0M487.2 377.3a1.1 1.1 0 1 0 0.01 0M492.6 368.9a1.1 1.1 0 1 0 0.01 0M497.9 363.6a1.1 1.1 0 1 0 0.01 0M503.2 356.6a1.1 1.1 0 1 0 0.01 0M508.5 349.1a1.1 1.1 0 1 0 0.01 0M513.8 349.4a1.1 1.1 0 1 0 0.01 0M519.1 346.2a1.1 1.1 0 1 0 0.01 0M524.5 346.3a1.1 1.1 0 1 0 0.01 0M529.8 344.4a1.1 1.1 0 1 0 0.01 0M535.1 344.5a1.1 1.1 0 1 0 0.01 0M540.4 342.7a1.1 1.1 0 1 0 0.01 0M545.7 346.7a1.1 1.1 0 1 0 0.01 0M551.1 343.9a1.1 1.1 0 1 0 0.01 0M556.4 344.0a1.1 1.1 0 1 0 0.01 0M561.7 339.2a1.1 1.1 0 1 0 0.01 0M567.0 339.6a1.1 1.1 0 1 0 0.01 0M572.3 338.5a1.1 1.1 0 1 0 0.01 0M577.6 337.5a1.1 1.1 0 1 0 0.01 0M583.0 341.8a1.1 1.1 0 1 0 0.01 0M588.3 338.7a1.1 1.1 0 1 0 0.01 0M593.6 336.6a1.1 1.1 0 1 0 0.01 0M598.9 341.1a1.1 1.1 0 1 0 0.01 0M604.2 338.6a1.1 1.1 0 1 0 0.01 0M609.5 341.5a1.1 1.1 0 1 0 0.01 0M614.9 344.8a1.1 1.1 0 1 0 0.01 0M620.2 340.8a1.1 1.1 0 1 0 0.01 0M625.5 343.0a1.1 1.1 0 1 0 0.01 0M630.8 340.8a1.1 1.1 0 1 0 0.01 0"/>
<polyline stroke="#dcdcdc" stroke-dasharray="1.2 1.2" points="476.6,400.3 481.9,409.9 487.3,399.9 492.6,392.1 497.9,383.5 503.2,376.8 508.5,373.3 513.8,369.9 519.2,372.5 524.5,368.0 529.8,360.0 535.1,360.6 540.4,362.8 545.7,359.7 551.1,359.5 556.4,357.2 561.7,350.8 567.0,352.9 572.3,348.7 577.6,349.8 583.0,352.8 588.3,349.9 593.6,342.2 598.9,348.9 604.2,349.6 609.5,344.3 614.9,346.9 620.2,347.2 625.5,343.7 630.8,351.3"/>
<path d="M476.6 400.3a1.1 1.1 0 1 0 0.01 0M481.9 409.9a1.1 1.1 0 1 0 0.01 0M487.2 399.9a1.1 1.1 0 1 0 0.01 0M492.6 392.1a1.1 1.1 0 1 0 0.01 0M497.9 383.5a1.1 1.1 0 1 0 0.01 0M503.2 376.8a1.1 1.1 0 1 0 0.01 0M508.5 373.3a1.1 1.1 0 1 0 0.01 0M513.8 369.9a1.1 1.1 0 1 0 0.01 0M519.1 372.5a1.1 1.1 0 1 0 0.01 0M524.5 368.0a1.1 1.1 0 1 0 0.01 0M529.8 360.0a1.1 1.1 0 1 0 0.01 0M535.1 360.6a1.1 1.1 0 1 0 0.01 0M540.4 362.8a1.1 1.1 0 1 0 0.01 0M545.7 359.7a1.1 1.1 0 1 0 0.01 0M551.1 359.5a1.1 1.1 0 1 0 0.01 0M556.4 357.2a1.1 1.1 0 1 0 0.01 0M561.7 350.8a1.1 1.1 0 1 0 0.01 0M567.0 352.9a1.1 1.1 0 1 0 0.01 0M572.3 348.7a1.1 1.1 0 1 0 0.01 0M577.6 349.8a1.1 1.1 0 1 0 0.01 0M583.0 352.8a1.1 1.1 0 1 0 0.01 0M588.3 349.9a1.1 1.1 0 1 0 0.01 0M593.6 342.2a1.1 1.1 0 1 0 0.01 0M598.9 348.9a1.1 1.1 0 1 0 0.01 0M604.2 349.6a1.1 1.1 0 1 0 0.01 0M609.5 344.3a1.1 1.1 0 1 0 0.01 0M614.9 346.9a1.1 1.1 0 1 0 0.01 0M620.2 347.2a1.1 1.1 0 1 0 0.01 0M625.5 343.7a1.1 1.1 0 1 0 0.01 0M630.8 351.3a1.1 1.1 0 1 0 0.01 0"/>
<polyline stroke="#dcdcdc" stroke-dasharray="1.2 1.2" points="476.6,411.0 481.9,397.7 487.3,388.1 492.6,383.9 497.9,376.2 503.2,365.4 508.5,362.8 513.8,364.7 519.2,353.7 524.5,358.0 529.8,357.9 535.1,353.6 540.4,349.4 545.7,346.3 551.1,346.3 556.4,348.5 561.7,347.7 567.0,348.7 572.3,344.5 577.6,344.8 583.0,341.9 588.3,344.6 593.6,342.1 598.9,342.2 604.2,342.3 609.5,341.5 614.9,340.5 620.2,340.3 625.5,335.6 630.8,336.7"/>
<path d="M476.6 411.0a1.1 1.1 0 1 0 0.01 0M481.9 397.7a1.1 1.1 0 1 0 0.01 0M487.2 388.1a1.1 1.1 0 1 0 0.01 0M492.6 383.9a1.1 1.1 0 1 0 0.01 0M497.9 376.2a1.1 1.1 0 1 0 0.01 0M503.2 365.4a1.1 1.1 0 1 0 0.01 0M508.5 362.8a1.1 1.1 0 1 0 0.01 0M513.8 364.7a1.1 1.1 0 1 0 0.01 0M519.1 353.7a1.1 1.1 0 1 0 0.01 0M524.5 358.0a1.1 1.1 0 1 0 0.01 0M529.8 357.9a1.1 1.1 0 1 0 0.01 0M535.1 353.6a1.1 1.1 0 1 0 0.01 0M540.4 349.4a1.1 1.1 0 1 0 0.01 0M545.7 346.3a1.1 1.1 0 1 0 0.01 0M551.1 346.3a1.1 1.1 0 1 0 0.01 0M556.4 348.5a1.1 1.1 0 1 0 0.01 0M561.7 347.7a1.1 1.1 0 1 0 0.01 0M567.0 348.7a1.1 1.1 0 1 0 0.01 0M572.3 344.5a1.1 1.1 0 1 0 0.01 0M577.6 344.8a1.1 1.1 0 1 0 0.01 0M583.0 341.9a1.1 1.1 0 1 0 0.01 0M588.3 344.6a1.1 1.1 0 1 0 0.01 0M593.6 342.1a1.1 1.1 0 1 0 0.01 0M598.9 342.2a1.1 1.1 0 1 0 0.01 0M604.2 342.3a1.1 1.1 0 1 0 0.01 0M609.5 341.5a1.1 1.1 0 1 0 0.01 0M614.9 340.5a1.1 1.1 0 1 0 0.01 0M620.2 340.3a1.1 1.1 0 1 0 0.01 0M625.5 335.6a1.1 1.1 0 1 0 0.01 0M630.8 336.7a1.1 1.1 0 1 0 0.01 0"/>
<polyline stroke="#dcdcdc" stroke-dasharray="1.2 1.2" points="476.6,402.5 481.9,411.5 487.3,397.8 492.6,390.0 497.9,381.6 503.2,375.7 508.5,372.4 513.8,370.1 519.2,365.2 524.5,363.8 529.8,361.3 535.1,362.1 540.4,357.6 545.7,358.8 551.1,357.0 556.4,353.3 561.7,347.5 567.0,348.9 572.3,350.2 577.6,349.6 583.0,345.9 588.3,344.1 593.6,343.6 598.9,346.1 604.2,344.5 609.5,345.0 614.9,344.2 620.2,344.8 625.5,342.8 630.8,346.7"/>
<path d="M476.6 402.5a1.1 1.1 0 1 0 0.01 0M481.9 411.5a1.1 1.1 0 1 0 0.01 0M487.2 397.8a1.1 1.1 0 1 0 0.01 0M492.6 390.0a1.1 1.1 0 1 0 0.01 0M497.9 381.6a1.1 1.1 0 1 0 0.01 0M503.2 375.7a1.1 1.1 0 1 0 0.01 0M508.5 372.4a1.1 1.1 0 1 0 0.01 0M513.8 370.1a1.1 1.1 0 1 0 0.01 0M519.1 365.2a1.1 1.1 0 1 0 0.01 0M524.5 363.8a1.1 1.1 0 1 0 0.01 0M529.8 361.3a1.1 1.1 0 1 0 0.01 0M535.1 362.1a1.1 1.1 0 1 0 0.01 0M540.4 357.6a1.1 1.1 0 1 0 0.01 0M545.7 358.8a1.1 1.1 0 1 0 0.01 0M551.1 357.0a1.1 1.1 0 1 0 0.01 0M556.4 353.3a1.1 1.1 0 1 0 0.01 0M561.7 347.5a1.1 1.1 0 1 0 0.01 0M567.0 348.9a1.1 1.1 0 1 0 0.01 0M572.3 350.2a1.1 1.1 0 1 0 0.01 0M577.6 349.6a1.1 1.1 0 1 0 0.01 0M583.0 345.9a1.1 1.1 0 1 0 0.01 0M588.3 344.1a1.1 1.1 0 1 0 0.01 0M593.6 343.6a1.1 1.1 0 1 0 0.01 0M598.9 346.1a1.1 1.1 0 1 0 0.01 0M604.2 344.5a1.1 1.1 0 1 0 0.01 0M609.5 345.0a1.1 1.1 0 1 0 0.01 0M614.9 344.2a1.1 1.1 0 1 0 0.01 0M620.2 344.8a1.1 1.1 0 1 0 0.01 0M625.5 342.8a1.1 1.1 0 1 0 0.01 0M630.8 346.7a1.1 1.1 0 1 0 0.01 0"/>
<polyline stroke="#dcdcdc" stroke-dasharray="1.2 1.2" points="476.6,405.9 481.9,395.4 487.3,381.3 492.6,371.8 497.9,369.6 503.2,364.5 508.5,353.5 513.8,358.0 519.2,355.6 524.5,353.1 529.8,349.8 535.1,348.2 540.4,344.3 545.7,343.4 551.1,344.9 556.4,343.7 561.7,346.2 567.0,346.4 572.3,344.6 577.6,341.2 583.0,342.6 588.3,341.0 593.6,340.7 598.9,343.3 604.2,337.9 609.5,344.1 614.9,344.4 620.2,343.9 625.5,340.2 630.8,343.2"/>
<path d="M476.6 405.9a1.1 1.1 0 1 0 0.01 0M481.9 395.4a1.1 1.1 0 1 0 0.01 0M487.2 381.3a1.1 1.1 0 1 0 0.01 0M492.6 371.8a1.1 1.1 0 1 0 0.01 0M497.9 369.6a1.1 1.1 0 1 0 0.01 0M503.2 364.5a1.1 1.1 0 1 0 0.01 0M508.5 353.5a1.1 1.1 0 1 0 0.01 0M513.8 358.0a1.1 1.1 0 1 0 0.01 0M519.1 355.6a1.1 1.1 0 1 0 0.01 0M524.5 353.1a1.1 1.1 0 1 0 0.01 0M529.8 349.8a1.1 1.1 0 1 0 0.01 0M535.1 348.2a1.1 1.1 0 1 0 0.01 0M540.4 344.3a1.1 1.1 0 1 0 0.01 0M545.7 343.4a1.1 1.1 0 1 0 0.01 0M551.1 344.9a1.1 1.1 0 1 0 0.01 0M556.4 343.7a1.1 1.1 0 1 0 0.01 0M561.7 346.2a1.1 1.1 0 1 0 0.01 0M567.0 346.4a1.1 1.1 0 1 0 0.01 0M572.3 344.6a1.1 1.1 0 1 0 0.01 0M577.6 341.2a1.1 1.1 0 1 0 0.01 0M583.0 342.6a1.1 1.1 0 1 0 0.01 0M588.3 341.0a1.1 1.1 0 1 0 0.01 0M593.6 340.7a1.1 1.1 0 1 0 0.01 0M598.9 343.3a1.1 1.1 0 1 0 0.01 0M604.2 337.9a1.1 1.1 0 1 0 0.01 0M609.5 344.1a1.1 1.1 0 1 0 0.01 0M614.9 344.4a1.1 1.1 0 1 0 0.01 0M620.2 343.9a1.1 1.1 0 1 0 0.01 0M625.5 340.2a1.1 1.1 0 1 0 0.01 0M630.8 343.2a1.1 1.1 0 1 0 0.01 0"/>
<polyline stroke="#dcdcdc" stroke-dasharray="1.2 1.2" points="476.6,408.4 481.9,413.0 487.3,395.9 492.6,387.2 497.9,380.8 503.2,379.7 508.5,373.2 513.8,369.6 519.2,371.7 524.5,362.1 529.8,362.5 535.1,361.5 540.4,353.6 545.7,357.0 551.1,357.5 556.4,354.6 561.7,351.9 567.0,350.1 572.3,351.1 577.6,351.9 583.0,350.6 588.3,350.0 593.6,349.7 598.9,346.4 604.2,346.8 609.5,344.8 614.9,346.4 620.2,346.5 625.5,344.9 630.8,345.3"/>
<path d="M476.6 408.4a1.1 1.1 0 1 0 0.01 0M481.9 413.0a1.1 1.1 0 1 0 0.01 0M487.2 395.9a1.1 1.1 0 1 0 0.01 0M492.6 387.2a1.1 1.1 0 1 0 0.01 0M497.9 380.8a1.1 1.1 0 1 0 0.01 0M503.2 379.7a1.1 1.1 0 1 0 0.01 0M508.5 373.2a1.1 1.1 0 1 0 0.01 0M513.8 369.6a1.1 1.1 0 1 0 0.01 0M519.1 371.7a1.1 1.1 0 1 0 0.01 0M524.5 362.1a1.1 1.1 0 1 0 0.01 0M529.8 362.5a1.1 1.1 0 1 0 0.01 0M535.1 361.5a1.1 1.1 0 1 0 0.01 0M540.4 353.6a1.1 1.1 0 1 0 0.01 0M545.7 357.0a1.1 1.1 0 1 0 0.01 0M551.1 357.5a1.1 1.1 0 1 0 0.01 0M556.4 354.6a1.1 1.1 0 1 0 0.01 0M561.7 351.9a1.1 1.1 0 1 0 0.01 0M567.0 350.1a1.1 1.1 0 1 0 0.01 0M572.3 351.1a1.1 1.1 0 1 0 0.01 0M577.6 351.9a1.1 1.1 0 1 0 0.01 0M583.0 350.6a1.1 1.1 0 1 0 0.01 0M588.3 350.0a1.1 1.1 0 1 0 0.01 0M593.6 349.7a1.1 1.1 0 1 0 0.01 0M598.9 346.4a1.1 1.1 0 1 0 0.01 0M604.2 346.8a1.1 1.1 0 1 0 0.01 0M609.5 344.8a1.1 1.1 0 1 0 0.01 0M614.9 346.4a1.1 1.1 0 1 0 0.01 0M620.2 346.5a1.1 1.1 0 1 0 0.01 0M625.5 344.9a1.1 1.1 0 1 0 0.01 0M630.8 345.3a1.1 1.1 0 1 0 0.01 0"/>
<polyline stroke="#dcdcdc" stroke-dasharray="1.2 1.2" points="476.6,408.1 481.9,412.8 487.3,394.4 492.6,386.9 497.9,385.9 503.2,374.6 508.5,369.8 513.8,370.5 519.2,361.8 524.5,362.9 529.8,363.8 535.1,357.8 540.4,358.2 545.7,358.9 551.1,359.3 556.4,352.4 561.7,353.4 567.0,349.0 572.3,348.6 577.6,349.7 583.0,348.8 588.3,342.5 593.6,341.8 598.9,343.3 604.2,345.1 609.5,346.1 614.9,344.7 620.2,339.9 625.5,342.7 630.8,344.5"/>
<path d="M476.6 408.1a1.1 1.1 0 1 0 0.01 0M481.9 412.8a1.1 1.1 0 1 0 0.01 0M487.2 394.4a1.1 1.1 0 1 0 0.01 0M492.6 386.9a1.1 1.1 0 1 0 0.01 0M497.9 385.9a1.1 1.1 0 1 0 0.01 0M503.2 374.6a1.1 1.1 0 1 0 0.01 0M508.5 369.8a1.1 1.1 0 1 0 0.01 0M513.8 370.5a1.1 1.1 0 1 0 0.01 0M519.1 361.8a1.1 1.1 0 1 0 0.01 0M524.5 362.9a1.1 1.1 0 1 0 0.01 0M529.8 363.8a1.1 1.1 0 1 0 0.01 0M535.1 357.8a1.1 1.1 0 1 0 0.01 0M540.4 358.2a1.1 1.1 0 1 0 0.01 0M545.7 358.9a1.1 1.1 0 1 0 0.01 0M551.1 359.3a1.1 1.1 0 1 0 0.01 0M556.4 352.4a1.1 1.1 0 1 0 0.01 0M561.7 353.4a1.1 1.1 0 1 0 0.01 0M567.0 349.0a1.1 1.1 0 1 0 0.01 0M572.3 348.6a1.1 1.1 0 1 0 0.01 0M577.6 349.7a1.1 1.1 0 1 0 0.01 0M583.0 348.8a1.1 1.1 0 1 0 0.01 0M588.3 342.5a1.1 1.1 0 1 0 0.01 0M593.6 341.8a1.1 1.1 0 1 0 0.01 0M598.9 343.3a1.1 1.1 0 1 0 0.01 0M604.2 345.1a1.1 1.1 0 1 0 0.01 0M609.5 346.1a1.1 1.1 0 1 0 0.01 0M614.9 344.7a1.1 1.1 0 1 0 0.01 0M620.2 339.9a1.1 1.1 0 1 0 0.01 0M625.5 342.7a1.1 1.1 0 1 0 0.01 0M630.8 344.5a1.1 1.1 0 1 0 0.01 0"/>
<polyline stroke="#dcdcdc" stroke-dasharray="1.2 1.2" points="476.6,407.9 481.9,407.3 487.3,393.0 492.6,386.4 497.9,381.2 503.2,374.9 508.5,367.2 513.8,367.2 519.2,368.5 524.5,359.1 529.8,360.0 535.1,350.5 540.4,358.0 545.7,355.5 551.1,354.5 556.4,351.6 561.7,352.6 567.0,353.6 572.3,353.6 577.6,348.4 583.0,348.3 588.3,347.6 593.6,340.5 598.9,342.8 604.2,341.3 609.5,344.3 614.9,341.8 620.2,342.3 625.5,341.7 630.8,339.1"/>
<path d="M476.6 407.9a1.1 1.1 0 1 0 0.01 0M481.9 407.3a1.1 1.1 0 1 0 0.01 0M487.2 393.0a1.1 1.1 0 1 0 0.01 0M492.6 386.4a1.1 1.1 0 1 0 0.01 0M497.9 381.2a1.1 1.1 0 1 0 0.01 0M503.2 374.9a1.1 1.1 0 1 0 0.01 0M508.5 367.2a1.1 1.1 0 1 0 0.01 0M513.8 367.2a1.1 1.1 0 1 0 0.01 0M519.1 368.5a1.1 1.1 0 1 0 0.01 0M524.5 359.1a1.1 1.1 0 1 0 0.01 0M529.8 360.0a1.1 1.1 0 1 0 0.01 0M535.1 350.5a1.1 1.1 0 1 0 0.01 0M540.4 358.0a1.1 1.1 0 1 0 0.01 0M545.7 355.5a1.1 1.1 0 1 0 0.01 0M551.1 354.5a1.1 1.1 0 1 0 0.01 0M556.4 351.6a1.1 1.1 0 1 0 0.01 0M561.7 352.6a1.1 1.1 0 1 0 0.01 0M567.0 353.6a1.1 1.1 0 1 0 0.01 0M572.3 353.6a1.1 1.1 0 1 0 0.01 0M577.6 348.4a1.1 1.1 0 1 0 0.01 0M583.0 348.3a1.1 1.1 0 1 0 0.01 0M588.3 347.6a1.1 1.1 0 1 0 0.01 0M593.6 340.5a1.1 1.1 0 1 0 0.01 0M598.9 342.8a1.1 1.1 0 1 0 0.01 0M604.2 341.3a1.1 1.1 0 1 0 0.01 0M609.5 344.3a1.1 1.1 0 1 0 0.01 0M614.9 341.8a1.1 1.1 0 1 0 0.01 0M620.2 342.3a1.1 1.1 0 1 0 0.01 0M625.5 341.7a1.1 1.1 0 1 0 0.01 0M630.8 339.1a1.1 1.1 0 1 0 0.01 0"/>
<polyline stroke="#dcdcdc" stroke-dasharray="1.2 1.2" points="476.6,413.3 481.9,430.0 487.3,415.4 492.6,406.9 497.9,400.4 503.2,391.9 508.5,390.2 513.8,385.8 519.2,378.8 524.5,378.8 529.8,372.1 535.1,371.9 540.4,369.2 545.7,366.6 551.1,372.6 556.4,366.2 561.7,367.5 567.0,364.3 572.3,362.2 577.6,357.9 583.0,359.8 588.3,354.8 593.6,358.9 598.9,356.9 604.2,355.7 609.5,352.8 614.9,354.4 620.2,354.9 625.5,353.5 630.8,355.3"/>
<path d="M476.6 413.3a1.1 1.1 0 1 0 0.01 0M481.9 430.0a1.1 1.1 0 1 0 0.01 0M487.2 415.4a1.1 1.1 0 1 0 0.01 0M492.6 406.9a1.1 1.1 0 1 0 0.01 0M497.9 400.4a1.1 1.1 0 1 0 0.01 0M503.2 391.9a1.1 1.1 0 1 0 0.01 0M508.5 390.2a1.1 1.1 0 1 0 0.01 0M513.8 385.8a1.1 1.1 0 1 0 0.01 0M519.1 378.8a1.1 1.1 0 1 0 0.01 0M524.5 378.8a1.1 1.1 0 1 0 0.01 0M529.8 372.1a1.1 1.1 0 1 0 0.01 0M535.1 371.9a1.1 1.1 0 1 0 0.01 0M540.4 369.2a1.1 1.1 0 1 0 0.01 0M545.7 366.6a1.1 1.1 0 1 0 0.01 0M551.1 372.6a1.1 1.1 0 1 0 0.01 0M556.4 366.2a1.1 1.1 0 1 0 0.01 0M561.7 367.5a1.1 1.1 0 1 0 0.01 0M567.0 364.3a1.1 1.1 0 1 0 0.01 0M572.3 362.2a1.1 1.1 0 1 0 0.01 0M577.6 357.9a1.1 1.1 0 1 0 0.01 0M583.0 359.8a1.1 1.1 0 1 0 0.01 0M588.3 354.8a1.1 1.1 0 1 0 0.01 0M593.6 358.9a1.1 1.1 0 1 0 0.01 0M598.9 356.9a1.1 1.1 0 1 0 0.01 0M604.2 355.7a1.1 1.1 0 1 0 0.01 0M609.5 352.8a1.1 1.1 0 1 0 0.01 0M614.9 354.4a1.1 1.1 0 1 0 0.01 0M620.2 354.9a1.1 1.1 0 1 0 0.01 0M625.5 353.5a1.1 1.1 0 1 0 0.01 0M630.8 355.3a1.1 1.1 0 1 0 0.01 0"/>
<polyline stroke="#dcdcdc" stroke-dasharray="1.2 1.2" points="476.6,406.9 481.9,429.7 487.3,416.5 492.6,403.4 497.9,399.7 503.2,394.0 508.5,383.8 513.8,380.0 519.2,379.6 524.5,376.2 529.8,374.5 535.1,369.3 540.4,371.6 545.7,368.6 551.1,365.9 556.4,362.2 561.7,364.6 567.0,362.2 572.3,362.6 577.6,361.9 583.0,360.8 588.3,358.0 593.6,355.2 598.9,357.9 604.2,356.8 609.5,355.6 614.9,353.0 620.2,351.5 625.5,355.3 630.8,350.8"/>
<path d="M476.6 406.9a1.1 1.1 0 1 0 0.01 0M481.9 429.7a1.1 1.1 0 1 0 0.01 0M487.2 416.5a1.1 1.1 0 1 0 0.01 0M492.6 403.4a1.1 1.1 0 1 0 0.01 0M497.9 399.7a1.1 1.1 0 1 0 0.01 0M503.2 394.0a1.1 1.1 0 1 0 0.01 0M508.5 383.8a1.1 1.1 0 1 0 0.01 0M513.8 380.0a1.1 1.1 0 1 0 0.01 0M519.1 379.6a1.1 1.1 0 1 0 0.01 0M524.5 376.2a1.1 1.1 0 1 0 0.01 0M529.8 374.5a1.1 1.1 0 1 0 0.01 0M535.1 369.3a1.1 1.1 0 1 0 0.01 0M540.4 371.6a1.1 1.1 0 1 0 0.01 0M545.7 368.6a1.1 1.1 0 1 0 0.01 0M551.1 365.9a1.1 1.1 0 1 0 0.01 0M556.4 362.2a1.1 1.1 0 1 0 0.01 0M561.7 364.6a1.1 1.1 0 1 0 0.01 0M567.0 362.2a1.1 1.1 0 1 0 0.01 0M572.3 362.6a1.1 1.1 0 1 0 0.01 0M577.6 361.9a1.1 1.1 0 1 0 0.01 0M583.0 360.8a1.1 1.1 0 1 0 0.01 0M588.3 358.0a1.1 1.1 0 1 0 0.01 0M593.6 355.2a1.1 1.1 0 1 0 0.01 0M598.9 357.9a1.1 1.1 0 1 0 0.01 0M604.2 356.8a1.1 1.1 0 1 0 0.01 0M609.5 355.6a1.1 1.1 0 1 0 0.01 0M614.9 353.0a1.1 1.1 0 1 0 0.01 0M620.2 351.5a1.1 1.1 0 1 0 0.01 0M625.5 355.3a1.1 1.1 0 1 0 0.01 0M630.8 350.8a1.1 1.1 0 1 0 0.01 0"/>
<polyline stroke="#dcdcdc" stroke-dasharray="1.2 1.2" points="476.6,412.0 481.9,392.4 487.3,379.2 492.6,373.8 497.9,365.5 503.2,361.4 508.5,358.1 513.8,354.7 519.2,350.9 524.5,352.5 529.8,348.9 535.1,347.3 540.4,350.4 545.7,343.4 551.1,344.8 556.4,343.6 561.7,342.4 567.0,341.1 572.3,340.6 577.6,340.2 583.0,342.9 588.3,339.7 593.6,340.4 598.9,342.2 604.2,341.4 609.5,339.5 614.9,340.3 620.2,339.7 625.5,341.1 630.8,338.7"/>
<path d="M476.6 412.0a1.1 1.1 0 1 0 0.01 0M481.9 392.4a1.1 1.1 0 1 0 0.01 0M487.2 379.2a1.1 1.1 0 1 0 0.01 0M492.6 373.8a1.1 1.1 0 1 0 0.01 0M497.9 365.5a1.1 1.1 0 1 0 0.01 0M503.2 361.4a1.1 1.1 0 1 0 0.01 0M508.5 358.1a1.1 1.1 0 1 0 0.01 0M513.8 354.7a1.1 1.1 0 1 0 0.01 0M519.1 350.9a1.1 1.1 0 1 0 0.01 0M524.5 352.5a1.1 1.1 0 1 0 0.01 0M529.8 348.9a1.1 1.1 0 1 0 0.01 0M535.1 347.3a1.1 1.1 0 1 0 0.01 0M540.4 350.4a1.1 1.1 0 1 0 0.01 0M545.7 343.4a1.1 1.1 0 1 0 0.01 0M551.1 344.8a1.1 1.1 0 1 0 0.01 0M556.4 343.6a1.1 1.1 0 1 0 0.01 0M561.7 342.4a1.1 1.1 0 1 0 0.01 0M567.0 341.1a1.1 1.1 0 1 0 0.01 0M572.3 340.6a1.1 1.1 0 1 0 0.01 0M577.6 340.2a1.1 1.1 0 1 0 0.01 0M583.0 342.9a1.1 1.1 0 1 0 0.01 0M588.3 339.7a1.1 1.1 0 1 0 0.01 0M593.6 340.4a1.1 1.1 0 1 0 0.01 0M598.9 342.2a1.1 1.1 0 1 0 0.01 0M604.2 341.4a1.1 1.1 0 1 0 0.01 0M609.5 339.5a1.1 1.1 0 1 0 0.01 0M614.9 340.3a1.1 1.1 0 1 0 0.01 0M620.2 339.7a1.1 1.1 0 1 0 0.01 0M625.5 341.1a1.1 1.1 0 1 0 0.01 0M630.8 338.7a1.1 1.1 0 1 0 0.01 0"/>
<polyline stroke="#dcdcdc" stroke-dasharray="1.2 1.2" points="476.6,401.6 481.9,429.6 487.3,421.7 492.6,413.5 497.9,399.5 503.2,392.1 508.5,387.6 513.8,386.8 519.2,379.2 524.5,379.8 529.8,378.4 535.1,374.5 540.4,372.1 545.7,370.6 551.1,368.1 556.4,372.5 561.7,362.3 567.0,365.9 572.3,361.8 577.6,364.0 583.0,360.6 588.3,360.4 593.6,362.6 598.9,357.2 604.2,355.7 609.5,358.9 614.9,360.3 620.2,356.2 625.5,355.9 630.8,353.0"/>
<path d="M476.6 401.6a1.1 1.1 0 1 0 0.01 0M481.9 429.6a1.1 1.1 0 1 0 0.01 0M487.2 421.7a1.1 1.1 0 1 0 0.01 0M492.6 413.5a1.1 1.1 0 1 0 0.01 0M497.9 399.5a1.1 1.1 0 1 0 0.01 0M503.2 392.1a1.1 1.1 0 1 0 0.01 0M508.5 387.6a1.1 1.1 0 1 0 0.01 0M513.8 386.8a1.1 1.1 0 1 0 0.01 0M519.1 379.2a1.1 1.1 0 1 0 0.01 0M524.5 379.8a1.1 1.1 0 1 0 0.01 0M529.8 378.4a1.1 1.1 0 1 0 0.01 0M535.1 374.5a1.1 1.1 0 1 0 0.01 0M540.4 372.1a1.1 1.1 0 1 0 0.01 0M545.7 370.6a1.1 1.1 0 1 0 0.01 0M551.1 368.1a1.1 1.1 0 1 0 0.01 0M556.4 372.5a1.1 1.1 0 1 0 0.01 0M561.7 362.3a1.1 1.1 0 1 0 0.01 0M567.0 365.9a1.1 1.1 0 1 0 0.01 0M572.3 361.8a1.1 1.1 0 1 0 0.01 0M577.6 364.0a1.1 1.1 0 1 0 0.01 0M583.0 360.6a1.1 1.1 0 1 0 0.01 0M588.3 360.4a1.1 1.1 0 1 0 0.01 0M593.6 362.6a1.1 1.1 0 1 0 0.01 0M598.9 357.2a1.1 1.1 0 1 0 0.01 0M604.2 355.7a1.1 1.1 0 1 0 0.01 0M609.5 358.9a1.1 1.1 0 1 0 0.01 0M614.9 360.3a1.1 1.1 0 1 0 0.01 0M620.2 356.2a1.1 1.1 0 1 0 0.01 0M625.5 355.9a1.1 1.1 0 1 0 0.01 0M630.8 353.0a1.1 1.1 0 1 0 0.01 0"/>
<polyline stroke="#dcdcdc" stroke-dasharray="1.2 1.2" points="476.6,408.9 481.9,427.9 487.3,423.5 492.6,408.7 497.9,401.2 503.2,393.5 508.5,387.9 513.8,384.2 519.2,379.2 524.5,380.0 529.8,375.2 535.1,373.9 540.4,371.5 545.7,368.9 551.1,368.6 556.4,365.9 561.7,365.0 567.0,361.2 572.3,362.6 577.6,360.5 583.0,354.1 588.3,357.6 593.6,356.9 598.9,354.6 604.2,358.5 609.5,353.8 614.9,352.9 620.2,352.8 625.5,350.9 630.8,350.6"/>
<path d="M476.6 408.9a1.1 1.1 0 1 0 0.01 0M481.9 427.9a1.1 1.1 0 1 0 0.01 0M487.2 423.5a1.1 1.1 0 1 0 0.01 0M492.6 408.7a1.1 1.1 0 1 0 0.01 0M497.9 401.2a1.1 1.1 0 1 0 0.01 0M503.2 393.5a1.1 1.1 0 1 0 0.01 0M508.5 387.9a1.1 1.1 0 1 0 0.01 0M513.8 384.2a1.1 1.1 0 1 0 0.01 0M519.1 379.2a1.1 1.1 0 1 0 0.01 0M524.5 380.0a1.1 1.1 0 1 0 0.01 0M529.8 375.2a1.1 1.1 0 1 0 0.01 0M535.1 373.9a1.1 1.1 0 1 0 0.01 0M540.4 371.5a1.1 1.1 0 1 0 0.01 0M545.7 368.9a1.1 1.1 0 1 0 0.01 0M551.1 368.6a1.1 1.1 0 1 0 0.01 0M556.4 365.9a1.1 1.1 0 1 0 0.01 0M561.7 365.0a1.1 1.1 0 1 0 0.01 0M567.0 361.2a1.1 1.1 0 1 0 0.01 0M572.3 362.6a1.1 1.1 0 1 0 0.01 0M577.6 360.5a1.1 1.1 0 1 0 0.01 0M583.0 354.1a1.1 1.1 0 1 0 0.01 0M588.3 357.6a1.1 1.1 0 1 0 0.01 0M593.6 356.9a1.1 1.1 0 1 0 0.01 0M598.9 354.6a1.1 1.1 0 1 0 0.01 0M604.2 358.5a1.1 1.1 0 1 0 0.01 0M609.5 353.8a1.1 1.1 0 1 0 0.01 0M614.9 352.9a1.1 1.1 0 1 0 0.01 0M620.2 352.8a1.1 1.1 0 1 0 0.01 0M625.5 350.9a1.1 1.1 0 1 0 0.01 0M630.8 350.6a1.1 1.1 0 1 0 0.01 0"/>
<polyline stroke="#dcdcdc" stroke-dasharray="1.2 1.2" points="476.6,410.0 481.9,384.8 487.3,376.0 492.6,371.9 497.9,363.3 503.2,361.7 508.5,353.7 513.8,354.0 519.2,355.8 524.5,349.6 529.8,344.5 535.1,344.5 540.4,345.2 545.7,340.9 551.1,339.9 556.4,336.7 561.7,338.0 567.0,339.2 572.3,341.9 577.6,339.4 583.0,339.4 588.3,340.0 593.6,339.1 598.9,342.8 604.2,338.8 609.5,340.0 614.9,339.3 620.2,340.3 625.5,340.8 630.8,339.5"/>
<path d="M476.6 410.0a1.1 1.1 0 1 0 0.01 0M481.9 384.8a1.1 1.1 0 1 0 0.01 0M487.2 376.0a1.1 1.1 0 1 0 0.01 0M492.6 371.9a1.1 1.1 0 1 0 0.01 0M497.9 363.3a1.1 1.1 0 1 0 0.01 0M503.2 361.7a1.1 1.1 0 1 0 0.01 0M508.5 353.7a1.1 1.1 0 1 0 0.01 0M513.8 354.0a1.1 1.1 0 1 0 0.01 0M519.1 355.8a1.1 1.1 0 1 0 0.01 0M524.5 349.6a1.1 1.1 0 1 0 0.01 0M529.8 344.5a1.1 1.1 0 1 0 0.01 0M535.1 344.5a1.1 1.1 0 1 0 0.01 0M540.4 345.2a1.1 1.1 0 1 0 0.01 0M545.7 340.9a1.1 1.1 0 1 0 0.01 0M551.1 339.9a1.1 1.1 0 1 0 0.01 0M556.4 336.7a1.1 1.1 0 1 0 0.01 0M561.7 338.0a1.1 1.1 0 1 0 0.01 0M567.0 339.2a1.1 1.1 0 1 0 0.01 0M572.3 341.9a1.1 1.1 0 1 0 0.01 0M577.6 339.4a1.1 1.1 0 1 0 0.01 0M583.0 339.4a1.1 1.1 0 1 0 0.01 0M588.3 340.0a1.1 1.1 0 1 0 0.01 0M593.6 339.1a1.1 1.1 0 1 0 0.01 0M598.9 342.8a1.1 1.1 0 1 0 0.01 0M604.2 338.8a1.1 1.1 0 1 0 0.01 0M609.5 340.0a1.1 1.1 0 1 0 0.01 0M614.9 339.3a1.1 1.1 0 1 0 0.01 0M620.2 340.3a1.1 1.1 0 1 0 0.01 0M625.5 340.8a1.1 1.1 0 1 0 0.01 0M630.8 339.5a1.1 1.1 0 1 0 0.01 0"/>
<polyline stroke="#dcdcdc" stroke-dasharray="1.2 1.2" points="476.6,410.8 481.9,413.7 487.3,400.5 492.6,394.3 497.9,382.1 503.2,381.7 508.5,375.3 513.8,375.0 519.2,373.0 524.5,364.9 529.8,367.4 535.1,366.9 540.4,360.8 545.7,362.2 551.1,357.6 556.4,351.6 561.7,355.4 567.0,352.5 572.3,350.9 577.6,350.6 583.0,350.5 588.3,345.8 593.6,348.6 598.9,347.1 604.2,347.7 609.5,350.8 614.9,347.2 620.2,347.8 625.5,346.4 630.8,346.3"/>
<path d="M476.6 410.8a1.1 1.1 0 1 0 0.01 0M481.9 413.7a1.1 1.1 0 1 0 0.01 0M487.2 400.5a1.1 1.1 0 1 0 0.01 0M492.6 394.3a1.1 1.1 0 1 0 0.01 0M497.9 382.1a1.1 1.1 0 1 0 0.01 0M503.2 381.7a1.1 1.1 0 1 0 0.01 0M508.5 375.3a1.1 1.1 0 1 0 0.01 0M513.8 375.0a1.1 1.1 0 1 0 0.01 0M519.1 373.0a1.1 1.1 0 1 0 0.01 0M524.5 364.9a1.1 1.1 0 1 0 0.01 0M529.8 367.4a1.1 1.1 0 1 0 0.01 0M535.1 366.9a1.1 1.1 0 1 0 0.01 0M540.4 360.8a1.1 1.1 0 1 0 0.01 0M545.7 362.2a1.1 1.1 0 1 0 0.01 0M551.1 357.6a1.1 1.1 0 1 0 0.01 0M556.4 351.6a1.1 1.1 0 1 0 0.01 0M561.7 355.4a1.1 1.1 0 1 0 0.01 0M567.0 352.5a1.1 1.1 0 1 0 0.01 0M572.3 350.9a1.1 1.1 0 1 0 0.01 0M577.6 350.6a1.1 1.1 0 1 0 0.01 0M583.0 350.5a1.1 1.1 0 1 0 0.01 0M588.3 345.8a1.1 1.1 0 1 0 0.01 0M593.6 348.6a1.1 1.1 0 1 0 0.01 0M598.9 347.1a1.1 1.1 0 1 0 0.01 0M604.2 347.7a1.1 1.1 0 1 0 0.01 0M609.5 350.8a1.1 1.1 0 1 0 0.01 0M614.9 347.2a1.1 1.1 0 1 0 0.01 0M620.2 347.8a1.1 1.1 0 1 0 0.01 0M625.5 346.4a1.1 1.1 0 1 0 0.01 0M630.8 346.3a1.1 1.1 0 1 0 0.01 0"/>
<polyline stroke="#dcdcdc" stroke-dasharray="1.2 1.2" points="476.6,409.7 481.9,392.4 487.3,377.8 492.6,371.4 497.9,365.4 503.2,365.1 508.5,360.2 513.8,355.3 519.2,353.7 524.5,351.9 529.8,348.9 535.1,347.6 540.4,347.9 545.7,340.3 551.1,344.4 556.4,340.2 561.7,339.3 567.0,337.4 572.3,340.0 577.6,340.1 583.0,336.0 588.3,335.7 593.6,340.9 598.9,340.8 604.2,335.8 609.5,335.5 614.9,335.2 620.2,333.6 625.5,336.8 630.8,328.6"/>
<path d="M476.6 409.7a1.1 1.1 0 1 0 0.01 0M481.9 392.4a1.1 1.1 0 1 0 0.01 0M487.2 377.8a1.1 1.1 0 1 0 0.01 0M492.6 371.4a1.1 1.1 0 1 0 0.01 0M497.9 365.4a1.1 1.1 0 1 0 0.01 0M503.2 365.1a1.1 1.1 0 1 0 0.01 0M508.5 360.2a1.1 1.1 0 1 0 0.01 0M513.8 355.3a1.1 1.1 0 1 0 0.01 0M519.1 353.7a1.1 1.1 0 1 0 0.01 0M524.5 351.9a1.1 1.1 0 1 0 0.01 0M529.8 348.9a1.1 1.1 0 1 0 0.01 0M535.1 347.6a1.1 1.1 0 1 0 0.01 0M540.4 347.9a1.1 1.1 0 1 0 0.01 0M545.7 340.3a1.1 1.1 0 1 0 0.01 0M551.1 344.4a1.1 1.1 0 1 0 0.01 0M556.4 340.2a1.1 1.1 0 1 0 0.01 0M561.7 339.3a1.1 1.1 0 1 0 0.01 0M567.0 337.4a1.1 1.1 0 1 0 0.01 0M572.3 340.0a1.1 1.1 0 1 0 0.01 0M577.6 340.1a1.1 1.1 0 1 0 0.01 0M583.0 336.0a1.1 1.1 0 1 0 0.01 0M588.3 335.7a1.1 1.1 0 1 0 0.01 0M593.6 340.9a1.1 1.1 0 1 0 0.01 0M598.9 340.8a1.1 1.1 0 1 0 0.01 0M604.2 335.8a1.1 1.1 0 1 0 0.01 0M609.5 335.5a1.1 1.1 0 1 0 0.01 0M614.9 335.2a1.1 1.1 0 1 0 0.01 0M620.2 333.6a1.1 1.1 0 1 0 0.01 0M625.5 336.8a1.1 1.1 0 1 0 0.01 0M630.8 328.6a1.1 1.1 0 1 0 0.01 0"/>
<polyline stroke="#dcdcdc" stroke-dasharray="1.2 1.2" points="476.6,415.5 481.9,427.8 487.3,419.7 492.6,407.0 497.9,400.7 503.2,393.1 508.5,391.8 513.8,386.7 519.2,382.5 524.5,381.3 529.8,378.0 535.1,373.3 540.4,368.2 545.7,371.2 551.1,367.1 556.4,370.0 561.7,367.0 567.0,363.8 572.3,362.0 577.6,364.4 583.0,359.6 588.3,359.6 593.6,356.0 598.9,355.9 604.2,355.9 609.5,357.2 614.9,354.9 620.2,356.6 625.5,355.8 630.8,357.4"/>
<path d="M476.6 415.5a1.1 1.1 0 1 0 0.01 0M481.9 427.8a1.1 1.1 0 1 0 0.01 0M487.2 419.7a1.1 1.1 0 1 0 0.01 0M492.6 407.0a1.1 1.1 0 1 0 0.01 0M497.9 400.7a1.1 1.1 0 1 0 0.01 0M503.2 393.1a1.1 1.1 0 1 0 0.01 0M508.5 391.8a1.1 1.1 0 1 0 0.01 0M513.8 386.7a1.1 1.1 0 1 0 0.01 0M519.1 382.5a1.1 1.1 0 1 0 0.01 0M524.5 381.3a1.1 1.1 0 1 0 0.01 0M529.8 378.0a1.1 1.1 0 1 0 0.01 0M535.1 373.3a1.1 1.1 0 1 0 0.01 0M540.4 368.2a1.1 1.1 0 1 0 0.01 0M545.7 371.2a1.1 1.1 0 1 0 0.01 0M551.1 367.1a1.1 1.1 0 1 0 0.01 0M556.4 370.0a1.1 1.1 0 1 0 0.01 0M561.7 367.0a1.1 1.1 0 1 0 0.01 0M567.0 363.8a1.1 1.1 0 1 0 0.01 0M572.3 362.0a1.1 1.1 0 1 0 0.01 0M577.6 364.4a1.1 1.1 0 1 0 0.01 0M583.0 359.6a1.1 1.1 0 1 0 0.01 0M588.3 359.6a1.1 1.1 0 1 0 0.01 0M593.6 356.0a1.1 1.1 0 1 0 0.01 0M598.9 355.9a1.1 1.1 0 1 0 0.01 0M604.2 355.9a1.1 1.1 0 1 0 0.01 0M609.5 357.2a1.1 1.1 0 1 0 0.01 0M614.9 354.9a1.1 1.1 0 1 0 0.01 0M620.2 356.6a1.1 1.1 0 1 0 0.01 0M625.5 355.8a1.1 1.1 0 1 0 0.01 0M630.8 357.4a1.1 1.1 0 1 0 0.01 0"/>
</g>
<polyline fill="none" stroke="#6a6a6a" stroke-width="0.6" stroke-dasharray="1 1.2" points="476.6,405.9 481.9,400.6 487.3,395.3 492.6,388.8 497.9,382.4 503.2,377.1 508.5,373.0 513.8,368.8 519.2,363.5 524.5,360.5 529.8,356.7 535.1,354.7 540.4,353.1 545.7,351.7 551.1,350.5 556.4,349.4 561.7,348.4 567.0,346.8 572.3,346.4 577.6,345.8 583.0,344.9 588.3,344.5 593.6,345.1 598.9,346.2 604.2,345.8 609.5,345.1 614.9,344.5 620.2,344.2 625.5,343.8 630.8,343.1"/>
<g fill="#EDB120">
<circle cx="476.6" cy="405.9" r="2.9"/>
<circle cx="481.9" cy="400.6" r="2.7"/>
<circle cx="487.3" cy="395.3" r="2.7"/>
<circle cx="492.6" cy="388.8" r="2.7"/>
<circle cx="497.9" cy="382.4" r="2.7"/>
<circle cx="503.2" cy="377.1" r="2.7"/>
<circle cx="508.5" cy="373.0" r="2.7"/>
<circle cx="513.8" cy="368.8" r="2.7"/>
<circle cx="519.2" cy="363.5" r="2.7"/>
<circle cx="524.5" cy="360.5" r="2.7"/>
<circle cx="529.8" cy="356.7" r="2.7"/>
<circle cx="535.1" cy="354.7" r="2.7"/>
<circle cx="540.4" cy="353.1" r="2.7"/>
<circle cx="545.7" cy="351.7" r="2.7"/>
<circle cx="551.1" cy="350.5" r="2.7"/>
<circle cx="556.4" cy="349.4" r="2.7"/>
<circle cx="561.7" cy="348.4" r="2.7"/>
<circle cx="567.0" cy="346.8" r="2.7"/>
<circle cx="572.3" cy="346.4" r="2.7"/>
<circle cx="577.6" cy="345.8" r="2.7"/>
<circle cx="583.0" cy="344.9" r="2.7"/>
<circle cx="588.3" cy="344.5" r="2.7"/>
<circle cx="593.6" cy="345.1" r="2.7"/>
<circle cx="598.9" cy="346.2" r="2.7"/>
<circle cx="604.2" cy="345.8" r="2.7"/>
<circle cx="609.5" cy="345.1" r="2.7"/>
<circle cx="614.9" cy="344.5" r="2.7"/>
<circle cx="620.2" cy="344.2" r="2.7"/>
<circle cx="625.5" cy="343.8" r="2.7"/>
<circle cx="630.8" cy="343.1" r="2.9"/>
</g>
<polyline fill="none" stroke="#0072BD" stroke-width="2.8" points="482.0,405.6 482.7,403.3 483.4,401.2 484.1,399.3 484.8,397.4 485.5,395.8 486.2,394.2 486.9,392.7 487.6,391.4 488.3,390.0 489.0,388.8 489.7,387.6 490.4,386.5 491.1,385.5 491.8,384.5 492.5,383.5 493.2,382.6 493.9,381.7 494.6,380.9 495.3,380.0 496.0,379.3 496.7,378.5 497.4,377.8 498.1,377.1 498.8,376.4 499.5,375.7 500.2,375.1 502.7,373.0 505.2,371.1 507.7,369.3 510.2,367.7 512.7,366.3 515.2,364.9 517.7,363.6 520.2,362.5 522.7,361.4 525.2,360.3 527.7,359.3 530.2,358.4 532.7,357.5 535.2,356.7 537.7,355.9 540.2,355.1 542.7,354.4 545.2,353.7 547.7,353.1 550.2,352.4 552.7,351.8 555.2,351.2 557.7,350.7 560.2,350.1 562.7,349.6 565.2,349.1 567.7,348.6 570.2,348.1 572.7,347.6 575.2,347.2 577.7,346.7 580.2,346.3 582.7,345.9 585.2,345.5 587.7,345.1 590.2,344.7 592.7,344.4 595.2,344.0 597.7,343.6 600.2,343.3 602.7,343.0 605.2,342.6 607.7,342.3 610.2,342.0 612.7,341.7 615.2,341.4 617.7,341.1 620.2,340.8 622.7,340.5 625.2,340.3 627.7,340.0 630.2,339.7"/>
<rect x="471.30" y="312.10" width="161.20" height="105.90" fill="none" stroke="#262626" stroke-width="0.9"/>
<path d="M524.47 418.00v-1.6M524.47 312.10v1.6M577.64 418.00v-1.6M577.64 312.10v1.6M471.30 401.70h1.6M632.50 401.70h-1.6M471.30 359.90h1.6M632.50 359.90h-1.6M471.30 318.10h1.6M632.50 318.10h-1.6" stroke="#262626" stroke-width="0.8"/>
<text x="467.3" y="407.30" font-size="15" text-anchor="end" fill="#262626" color="#262626">0</text>
<text x="467.3" y="365.50" font-size="15" text-anchor="end" fill="#262626" color="#262626">0.4</text>
<text x="467.3" y="323.70" font-size="15" text-anchor="end" fill="#262626" color="#262626">0.8</text>
<rect x="573" y="348.5" width="112" height="76" fill="#fff"/>
<text x="471.2" y="436.4" font-size="15" text-anchor="middle" fill="#262626" color="#262626">0</text>
<text x="525.0" y="441.0" font-size="15" text-anchor="middle" fill="#262626" color="#262626">10<tspan font-size="11.3" dy="-7.6">3</tspan></text>
<text x="577.5" y="441.0" font-size="15" text-anchor="middle" fill="#262626" color="#262626">2<tspan font-size="17.5" style="stroke-width:0" dy="0.6">×</tspan><tspan dy="-0.6">10</tspan><tspan font-size="11.3" dy="-7.6">3</tspan></text>
<text x="630.6" y="441.0" font-size="15" text-anchor="middle" fill="#262626" color="#262626">3<tspan font-size="17.5" style="stroke-width:0" dy="0.6">×</tspan><tspan dy="-0.6">10</tspan><tspan font-size="11.3" dy="-7.6">3</tspan></text>
<text x="550.9" y="459.8" font-size="17" text-anchor="middle" fill="#262626" color="#262626">t</text>
<text transform="translate(442.6 364.9) rotate(-90)" font-size="17" text-anchor="middle" textLength="23.6" lengthAdjust="spacingAndGlyphs" fill="#262626" color="#262626">S(t)</text>
<text x="520.8" y="308.6" font-size="11.3" fill="#000" color="#000">1.2-4.8t<tspan font-size="8.8" dy="-5.4">-0.25</tspan></text>
<rect x="586.30" y="352.30" width="86.50" height="58.00" fill="#fff" stroke="#262626" stroke-width="0.8"/>
<polyline fill="none" stroke="#0072BD" stroke-width="0.4" stroke-dasharray="0.8 0.8" points="589.0,403.2 592.0,401.6 594.8,397.6 597.9,395.6 600.7,393.2 603.5,392.0 606.5,393.6 609.1,393.6 612.1,389.8 615.0,386.2 617.9,383.3 620.5,384.9 623.6,383.5 626.6,381.1 629.3,381.8 632.2,380.2 635.0,379.2 638.0,379.9 640.9,377.5 643.7,375.8 646.7,374.8 649.6,376.8 652.3,375.2 655.3,374.4 658.1,371.5 661.0,371.5 664.0,373.7 666.8,373.9 669.8,372.5 672.7,374.9"/>
<g fill="#0072BD"><circle cx="589.0" cy="403.2" r="1.15"/><circle cx="592.0" cy="401.6" r="1.15"/><circle cx="594.8" cy="397.6" r="1.15"/><circle cx="597.9" cy="395.6" r="1.15"/><circle cx="600.7" cy="393.2" r="1.15"/><circle cx="603.5" cy="392.0" r="1.15"/><circle cx="606.5" cy="393.6" r="1.15"/><circle cx="609.1" cy="393.6" r="1.15"/><circle cx="612.1" cy="389.8" r="1.15"/><circle cx="615.0" cy="386.2" r="1.15"/><circle cx="617.9" cy="383.3" r="1.15"/><circle cx="620.5" cy="384.9" r="1.15"/><circle cx="623.6" cy="383.5" r="1.15"/><circle cx="626.6" cy="381.1" r="1.15"/><circle cx="629.3" cy="381.8" r="1.15"/><circle cx="632.2" cy="380.2" r="1.15"/><circle cx="635.0" cy="379.2" r="1.15"/><circle cx="638.0" cy="379.9" r="1.15"/><circle cx="640.9" cy="377.5" r="1.15"/><circle cx="643.7" cy="375.8" r="1.15"/><circle cx="646.7" cy="374.8" r="1.15"/><circle cx="649.6" cy="376.8" r="1.15"/><circle cx="652.3" cy="375.2" r="1.15"/><circle cx="655.3" cy="374.4" r="1.15"/><circle cx="658.1" cy="371.5" r="1.15"/><circle cx="661.0" cy="371.5" r="1.15"/><circle cx="664.0" cy="373.7" r="1.15"/><circle cx="666.8" cy="373.9" r="1.15"/><circle cx="669.8" cy="372.5" r="1.15"/><circle cx="672.7" cy="374.9" r="1.15"/></g>
<polyline fill="none" stroke="#EDB120" stroke-width="0.4" stroke-dasharray="0.8 0.8" points="589.0,406.1 592.0,404.7 594.8,400.3 597.9,394.7 600.7,389.2 603.5,386.2 606.5,383.8 609.1,380.6 612.1,376.8 615.0,374.8 617.9,375.5 620.5,377.9 623.6,375.2 626.6,375.5 629.3,377.8 632.2,376.8 635.0,372.4 638.0,372.8 640.9,371.5 643.7,370.4 646.7,370.1 649.6,369.6 652.3,370.4 655.3,368.8 658.1,370.1 661.0,369.4 664.0,369.4 666.8,370.1 669.8,370.4 672.7,369.4"/>
<g fill="#EDB120"><circle cx="589.0" cy="406.1" r="1.15"/><circle cx="592.0" cy="404.7" r="1.15"/><circle cx="594.8" cy="400.3" r="1.15"/><circle cx="597.9" cy="394.7" r="1.15"/><circle cx="600.7" cy="389.2" r="1.15"/><circle cx="603.5" cy="386.2" r="1.15"/><circle cx="606.5" cy="383.8" r="1.15"/><circle cx="609.1" cy="380.6" r="1.15"/><circle cx="612.1" cy="376.8" r="1.15"/><circle cx="615.0" cy="374.8" r="1.15"/><circle cx="617.9" cy="375.5" r="1.15"/><circle cx="620.5" cy="377.9" r="1.15"/><circle cx="623.6" cy="375.2" r="1.15"/><circle cx="626.6" cy="375.5" r="1.15"/><circle cx="629.3" cy="377.8" r="1.15"/><circle cx="632.2" cy="376.8" r="1.15"/><circle cx="635.0" cy="372.4" r="1.15"/><circle cx="638.0" cy="372.8" r="1.15"/><circle cx="640.9" cy="371.5" r="1.15"/><circle cx="643.7" cy="370.4" r="1.15"/><circle cx="646.7" cy="370.1" r="1.15"/><circle cx="649.6" cy="369.6" r="1.15"/><circle cx="652.3" cy="370.4" r="1.15"/><circle cx="655.3" cy="368.8" r="1.15"/><circle cx="658.1" cy="370.1" r="1.15"/><circle cx="661.0" cy="369.4" r="1.15"/><circle cx="664.0" cy="369.4" r="1.15"/><circle cx="666.8" cy="370.1" r="1.15"/><circle cx="669.8" cy="370.4" r="1.15"/><circle cx="672.7" cy="369.4" r="1.15"/></g>
<polyline fill="none" stroke="#D95319" stroke-width="0.4" stroke-dasharray="0.8 0.8" points="589.0,399.0 592.0,393.2 594.8,388.9 597.9,383.5 600.7,381.8 603.5,379.5 606.5,376.8 609.1,375.5 612.1,373.9 615.0,374.5 617.9,374.1 620.5,372.8 623.6,371.5 626.6,369.2 629.3,368.8 632.2,367.7 635.0,366.8 638.0,366.8 640.9,367.8 643.7,366.1 646.7,366.8 649.6,367.7 652.3,368.8 655.3,368.4 658.1,370.1 661.0,369.2 664.0,366.8 666.8,367.4 669.8,370.1 672.7,368.8"/>
<g fill="#D95319"><circle cx="589.0" cy="399.0" r="1.15"/><circle cx="592.0" cy="393.2" r="1.15"/><circle cx="594.8" cy="388.9" r="1.15"/><circle cx="597.9" cy="383.5" r="1.15"/><circle cx="600.7" cy="381.8" r="1.15"/><circle cx="603.5" cy="379.5" r="1.15"/><circle cx="606.5" cy="376.8" r="1.15"/><circle cx="609.1" cy="375.5" r="1.15"/><circle cx="612.1" cy="373.9" r="1.15"/><circle cx="615.0" cy="374.5" r="1.15"/><circle cx="617.9" cy="374.1" r="1.15"/><circle cx="620.5" cy="372.8" r="1.15"/><circle cx="623.6" cy="371.5" r="1.15"/><circle cx="626.6" cy="369.2" r="1.15"/><circle cx="629.3" cy="368.8" r="1.15"/><circle cx="632.2" cy="367.7" r="1.15"/><circle cx="635.0" cy="366.8" r="1.15"/><circle cx="638.0" cy="366.8" r="1.15"/><circle cx="640.9" cy="367.8" r="1.15"/><circle cx="643.7" cy="366.1" r="1.15"/><circle cx="646.7" cy="366.8" r="1.15"/><circle cx="649.6" cy="367.7" r="1.15"/><circle cx="652.3" cy="368.8" r="1.15"/><circle cx="655.3" cy="368.4" r="1.15"/><circle cx="658.1" cy="370.1" r="1.15"/><circle cx="661.0" cy="369.2" r="1.15"/><circle cx="664.0" cy="366.8" r="1.15"/><circle cx="666.8" cy="367.4" r="1.15"/><circle cx="669.8" cy="370.1" r="1.15"/><circle cx="672.7" cy="368.8" r="1.15"/></g>
<path d="M614.77 410.30v-1.2M614.77 352.30v1.2M643.61 410.30v-1.2M643.61 352.30v1.2M586.30 355.30h1.2M672.80 355.30h-1.2M586.30 378.60h1.2M672.80 378.60h-1.2M586.30 401.90h1.2M672.80 401.90h-1.2" stroke="#262626" stroke-width="0.6"/>
<text x="584.3" y="358.30" font-size="8" text-anchor="end" fill="#262626" color="#262626">0.8</text>
<text x="584.3" y="381.60" font-size="8" text-anchor="end" fill="#262626" color="#262626">0.4</text>
<text x="584.3" y="404.90" font-size="8" text-anchor="end" fill="#262626" color="#262626">0</text>
<text x="586.0" y="419.6" font-size="8" text-anchor="middle" fill="#262626" color="#262626">0</text>
<text x="615.2" y="422.6" font-size="8" text-anchor="middle" fill="#262626" color="#262626">10<tspan font-size="6.2" dy="-3.5">3</tspan></text>
<text x="643.30" y="422.6" font-size="8" text-anchor="middle" fill="#262626" color="#262626">2×10<tspan font-size="6.2" dy="-3.5">3</tspan></text>
<text x="671.60" y="422.6" font-size="8" text-anchor="middle" fill="#262626" color="#262626">3×10<tspan font-size="6.2" dy="-3.5">3</tspan></text>
<text transform="translate(568.0 377.6) rotate(-90)" font-size="9.6" text-anchor="middle" fill="#262626" color="#262626">S(t)</text>
</svg>
</body></html>
